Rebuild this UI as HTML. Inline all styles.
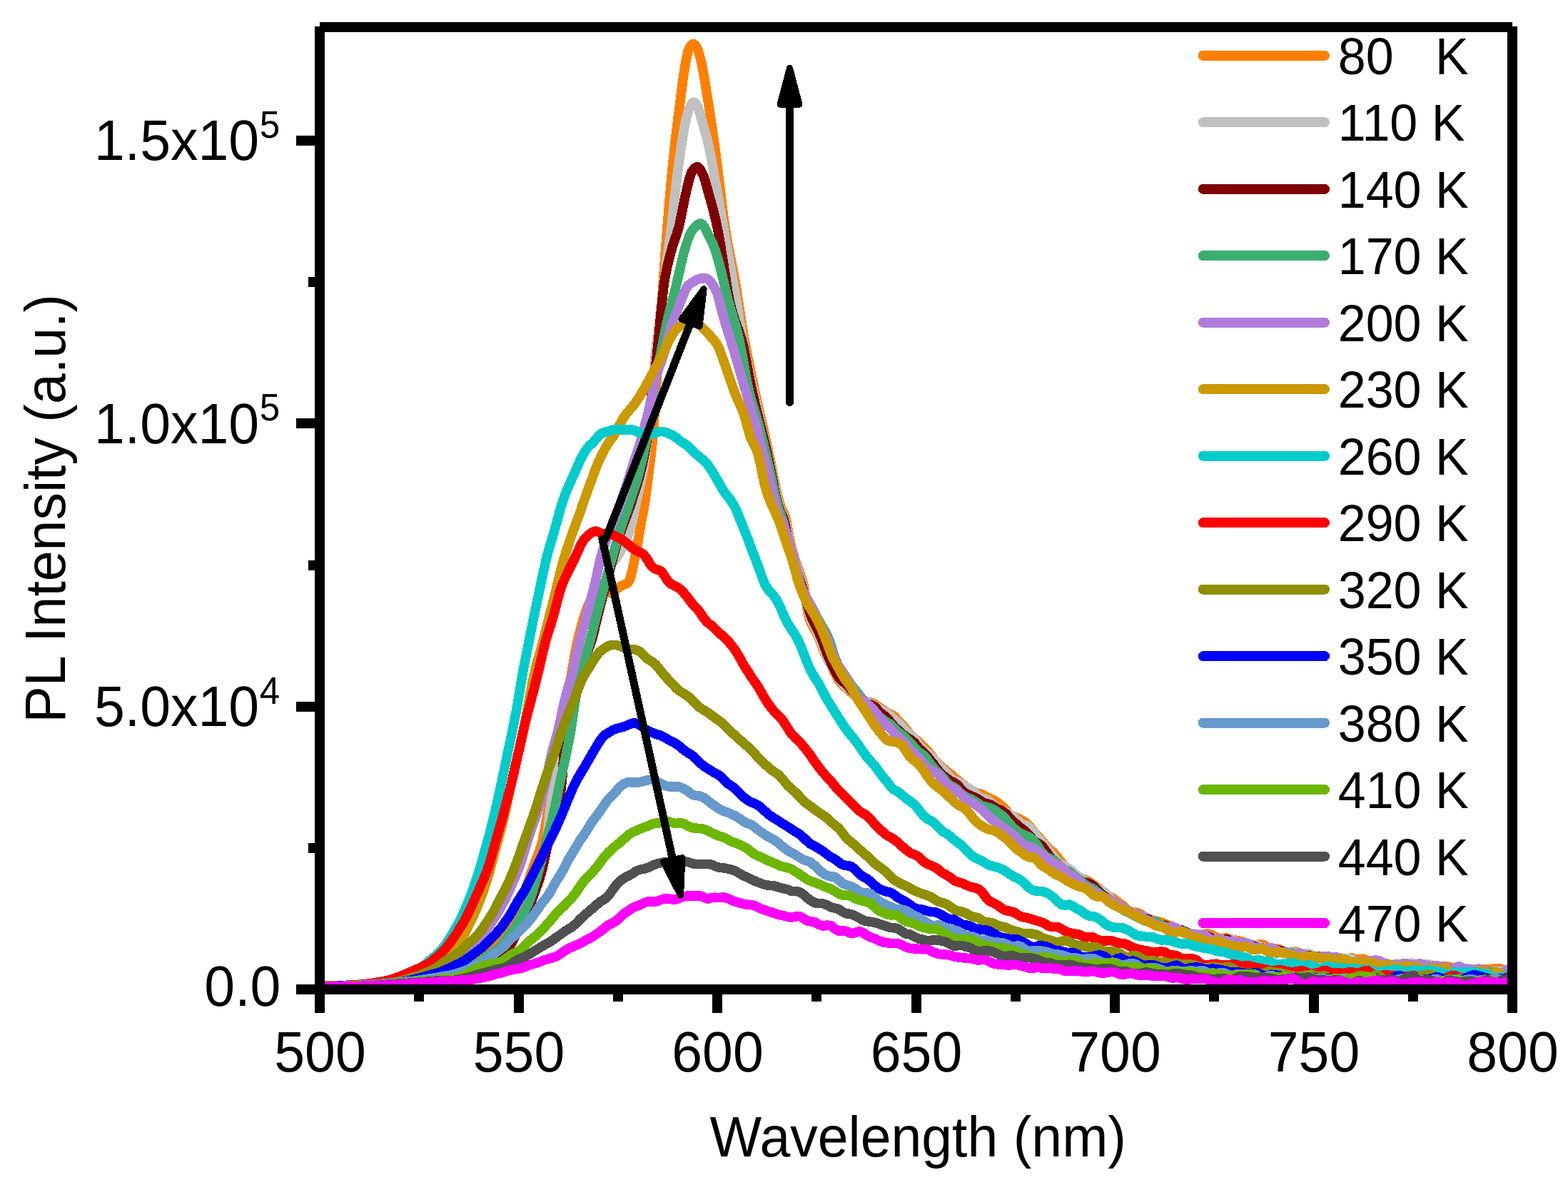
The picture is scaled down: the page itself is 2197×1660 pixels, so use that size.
<!DOCTYPE html>
<html><head><meta charset="utf-8"><title>PL spectra</title>
<style>html,body{margin:0;padding:0;background:#fff;overflow:hidden}svg{display:block}</style>
</head><body>
<svg xmlns="http://www.w3.org/2000/svg" shape-rendering="crispEdges" width="2197" height="1660" viewBox="0 0 2197 1660">
<rect width="2197" height="1660" fill="#fff"/>
<g fill="none" stroke-linejoin="round" stroke-linecap="round"><path d="M455.0 1382.0L455.0 1382.0L455.0 1382.0L455.0 1382.0L456.0 1382.0L458.0 1382.0L460.0 1382.0L462.0 1382.0L464.0 1382.0L466.0 1381.9L468.0 1381.9L470.0 1381.9L472.0 1381.8L474.0 1381.8L476.0 1381.7L478.0 1381.7L480.0 1381.6L482.0 1381.5L484.0 1381.5L486.0 1381.4L488.0 1381.4L490.0 1381.3L492.0 1381.2L494.0 1381.2L496.0 1381.1L498.0 1381.0L500.0 1380.9L502.0 1380.8L504.0 1380.7L506.0 1380.7L508.0 1380.6L510.0 1380.5L512.0 1380.4L514.0 1380.3L516.0 1380.2L518.0 1380.2L520.0 1380.0L522.0 1379.9L524.0 1379.8L526.0 1379.7L528.0 1379.5L530.0 1379.4L532.0 1379.3L534.0 1379.2L536.0 1379.0L538.0 1378.8L540.0 1378.6L542.0 1378.4L544.0 1378.2L546.0 1378.0L548.0 1377.9L550.0 1377.8L552.0 1377.6L554.0 1377.4L556.0 1377.2L558.0 1376.9L560.0 1376.6L562.0 1376.3L564.0 1376.0L566.0 1375.7L568.0 1375.3L570.0 1375.1L572.0 1374.8L574.0 1374.6L576.0 1374.3L578.0 1374.0L580.0 1373.8L582.0 1373.4L584.0 1373.1L586.0 1372.8L588.0 1372.4L590.0 1372.1L592.0 1371.7L594.0 1371.2L596.0 1370.8L598.0 1370.4L600.0 1370.0L602.0 1369.6L604.0 1369.1L606.0 1368.6L608.0 1368.0L610.0 1367.4L612.0 1366.7L614.0 1366.1L616.0 1365.4L618.0 1364.8L620.0 1364.2L622.0 1363.6L624.0 1363.0L626.0 1362.3L628.0 1361.5L630.0 1360.6L632.0 1359.7L634.0 1358.8L636.0 1357.8L638.0 1356.8L640.0 1355.8L642.0 1354.6L644.0 1353.3L646.0 1352.0L648.0 1350.8L650.0 1349.6L652.0 1348.3L654.0 1347.3L656.0 1346.2L658.0 1345.2L660.0 1344.1L662.0 1343.0L664.0 1341.9L666.0 1340.7L668.0 1339.4L670.0 1338.0L672.0 1336.5L674.0 1335.0L676.0 1333.5L678.0 1332.0L680.0 1330.4L682.0 1328.6L684.0 1326.8L686.0 1324.7L688.0 1322.4L690.0 1319.9L692.0 1317.7L694.0 1315.6L696.0 1313.4L698.0 1311.3L700.0 1309.2L702.0 1307.0L704.0 1304.6L706.0 1302.1L708.0 1299.5L710.0 1296.9L712.0 1294.2L714.0 1291.1L716.0 1287.7L718.0 1284.2L720.0 1280.5L722.0 1276.7L724.0 1272.8L726.0 1268.9L728.0 1264.9L730.0 1260.8L732.0 1256.4L734.0 1251.3L736.0 1245.9L738.0 1240.3L740.0 1234.6L742.0 1228.7L744.0 1222.9L746.0 1217.4L748.0 1212.1L750.0 1207.1L752.0 1202.0L754.0 1197.0L756.0 1191.4L758.0 1185.2L760.0 1177.6L762.0 1168.1L764.0 1157.2L766.0 1145.8L768.0 1135.0L770.0 1124.7L772.0 1114.6L774.0 1104.2L776.0 1093.9L778.0 1083.5L780.0 1072.8L782.0 1061.7L784.0 1050.1L786.0 1037.4L788.0 1023.5L790.0 1009.4L792.0 995.6L794.0 982.7L796.0 970.4L798.0 958.9L800.0 947.7L802.0 936.4L804.0 924.9L806.0 913.5L808.0 903.3L810.0 894.6L812.0 886.5L814.0 878.9L816.0 871.6L818.0 865.1L820.0 859.1L822.0 853.5L824.0 848.3L826.0 844.0L828.0 840.0L830.0 836.4L832.0 833.6L834.0 831.0L836.0 828.1L838.0 824.8L840.0 821.7L842.0 819.3L844.0 818.1L846.0 818.4L848.0 821.1L850.0 824.5L852.0 827.4L854.0 829.8L856.0 830.9L858.0 830.2L860.0 828.7L862.0 827.1L864.0 825.4L866.0 823.8L868.0 822.1L870.0 820.9L872.0 820.0L874.0 819.2L876.0 818.5L878.0 817.5L880.0 816.0L882.0 813.2L884.0 806.9L886.0 799.1L888.0 789.6L890.0 779.3L892.0 769.5L894.0 758.7L896.0 745.8L898.0 733.7L900.0 723.3L902.0 712.7L904.0 700.7L906.0 686.0L908.0 669.6L910.0 653.5L912.0 638.6L914.0 620.8L916.0 595.4L918.0 565.4L920.0 533.1L922.0 502.4L924.0 474.2L926.0 444.6L928.0 413.9L930.0 384.8L932.0 357.1L934.0 330.6L936.0 305.6L938.0 281.8L940.0 258.9L942.0 237.3L944.0 217.5L946.0 199.3L948.0 182.2L950.0 166.0L952.0 150.5L954.0 134.8L956.0 118.8L958.0 103.9L960.0 91.5L962.0 80.8L964.0 72.2L966.0 67.4L968.0 64.1L970.0 62.0L972.0 61.7L974.0 63.2L976.0 66.2L978.0 70.1L980.0 76.7L982.0 84.5L984.0 93.6L986.0 104.5L988.0 116.3L990.0 128.6L992.0 140.8L994.0 153.7L996.0 166.9L998.0 180.5L1000.0 194.5L1002.0 208.8L1004.0 224.0L1006.0 240.0L1008.0 256.3L1010.0 273.2L1012.0 289.6L1014.0 305.1L1016.0 318.9L1018.0 331.3L1020.0 342.6L1022.0 353.0L1024.0 363.0L1026.0 373.0L1028.0 383.3L1030.0 394.2L1032.0 405.9L1034.0 418.5L1036.0 431.7L1038.0 444.8L1040.0 457.7L1042.0 470.0L1044.0 481.1L1046.0 491.4L1048.0 501.4L1050.0 511.2L1052.0 520.8L1054.0 530.4L1056.0 540.2L1058.0 549.7L1060.0 558.6L1062.0 567.4L1064.0 576.0L1066.0 584.6L1068.0 593.2L1070.0 602.0L1072.0 611.0L1074.0 620.1L1076.0 629.3L1078.0 638.6L1080.0 647.9L1082.0 657.5L1084.0 667.6L1086.0 678.0L1088.0 687.4L1090.0 696.2L1092.0 704.0L1094.0 710.2L1096.0 714.6L1098.0 718.2L1100.0 723.2L1102.0 731.2L1104.0 741.8L1106.0 753.1L1108.0 762.7L1110.0 770.4L1112.0 777.2L1114.0 783.7L1116.0 789.2L1118.0 794.9L1120.0 800.2L1122.0 805.6L1124.0 811.7L1126.0 819.3L1128.0 831.1L1130.0 845.9L1132.0 858.8L1134.0 866.2L1136.0 871.5L1138.0 876.0L1140.0 879.9L1142.0 883.5L1144.0 887.0L1146.0 890.8L1148.0 895.3L1150.0 900.5L1152.0 906.1L1154.0 911.6L1156.0 916.7L1158.0 921.2L1160.0 925.1L1162.0 928.7L1164.0 932.1L1166.0 936.1L1168.0 939.9L1170.0 943.4L1172.0 947.3L1174.0 951.0L1176.0 954.2L1178.0 956.6L1180.0 959.0L1182.0 960.9L1184.0 962.6L1186.0 964.3L1188.0 966.2L1190.0 968.0L1192.0 969.6L1194.0 971.2L1196.0 972.6L1198.0 974.1L1200.0 975.8L1202.0 977.4L1204.0 979.0L1206.0 980.5L1208.0 982.0L1210.0 982.8L1212.0 983.3L1214.0 983.7L1216.0 983.8L1218.0 983.8L1220.0 983.9L1222.0 984.7L1224.0 985.6L1226.0 986.7L1228.0 988.0L1230.0 989.4L1232.0 990.8L1234.0 992.1L1236.0 993.5L1238.0 994.9L1240.0 996.3L1242.0 997.8L1244.0 998.7L1246.0 999.5L1248.0 1000.4L1250.0 1001.6L1252.0 1002.7L1254.0 1004.3L1256.0 1006.5L1258.0 1008.8L1260.0 1010.9L1262.0 1013.0L1264.0 1015.1L1266.0 1017.4L1268.0 1019.7L1270.0 1022.0L1272.0 1024.5L1274.0 1027.0L1276.0 1029.3L1278.0 1031.1L1280.0 1032.8L1282.0 1034.6L1284.0 1036.5L1286.0 1038.3L1288.0 1040.3L1290.0 1042.3L1292.0 1044.4L1294.0 1046.1L1296.0 1047.9L1298.0 1049.7L1300.0 1052.1L1302.0 1054.5L1304.0 1057.0L1306.0 1059.7L1308.0 1062.4L1310.0 1064.8L1312.0 1067.0L1314.0 1069.0L1316.0 1071.0L1318.0 1073.0L1320.0 1074.8L1322.0 1076.5L1324.0 1078.2L1326.0 1079.9L1328.0 1081.4L1330.0 1082.9L1332.0 1084.5L1334.0 1086.3L1336.0 1088.1L1338.0 1089.8L1340.0 1091.4L1342.0 1092.9L1344.0 1094.5L1346.0 1096.1L1348.0 1097.6L1350.0 1099.4L1352.0 1101.1L1354.0 1102.6L1356.0 1103.6L1358.0 1104.6L1360.0 1105.7L1362.0 1107.0L1364.0 1108.3L1366.0 1109.4L1368.0 1110.5L1370.0 1111.6L1372.0 1111.9L1374.0 1112.2L1376.0 1112.5L1378.0 1113.7L1380.0 1114.9L1382.0 1116.0L1384.0 1117.1L1386.0 1118.2L1388.0 1119.0L1390.0 1119.7L1392.0 1120.4L1394.0 1121.6L1396.0 1123.0L1398.0 1124.5L1400.0 1126.0L1402.0 1127.6L1404.0 1129.3L1406.0 1131.3L1408.0 1133.3L1410.0 1135.4L1412.0 1137.7L1414.0 1139.9L1416.0 1141.5L1418.0 1142.7L1420.0 1143.8L1422.0 1144.6L1424.0 1145.4L1426.0 1146.1L1428.0 1147.0L1430.0 1147.9L1432.0 1148.9L1434.0 1150.1L1436.0 1151.3L1438.0 1152.9L1440.0 1154.9L1442.0 1157.0L1444.0 1159.3L1446.0 1161.8L1448.0 1164.4L1450.0 1166.6L1452.0 1168.8L1454.0 1171.0L1456.0 1173.2L1458.0 1175.4L1460.0 1177.7L1462.0 1180.2L1464.0 1182.7L1466.0 1184.9L1468.0 1186.9L1470.0 1188.9L1472.0 1190.7L1474.0 1192.5L1476.0 1194.2L1478.0 1196.6L1480.0 1199.0L1482.0 1201.4L1484.0 1203.9L1486.0 1206.3L1488.0 1208.6L1490.0 1210.8L1492.0 1212.9L1494.0 1214.8L1496.0 1216.6L1498.0 1218.4L1500.0 1219.8L1502.0 1221.2L1504.0 1222.5L1506.0 1224.1L1508.0 1225.7L1510.0 1227.3L1512.0 1228.6L1514.0 1229.9L1516.0 1230.9L1518.0 1231.5L1520.0 1232.1L1522.0 1233.0L1524.0 1234.1L1526.0 1235.1L1528.0 1236.5L1530.0 1238.0L1532.0 1239.5L1534.0 1240.8L1536.0 1242.2L1538.0 1243.6L1540.0 1245.0L1542.0 1246.5L1544.0 1248.2L1546.0 1250.1L1548.0 1252.0L1550.0 1253.3L1552.0 1254.5L1554.0 1255.7L1556.0 1256.7L1558.0 1257.6L1560.0 1258.6L1562.0 1260.2L1564.0 1261.7L1566.0 1263.2L1568.0 1264.6L1570.0 1266.0L1572.0 1267.5L1574.0 1269.2L1576.0 1270.7L1578.0 1272.6L1580.0 1274.6L1582.0 1276.4L1584.0 1277.0L1586.0 1277.7L1588.0 1278.1L1590.0 1278.1L1592.0 1278.1L1594.0 1278.6L1596.0 1279.6L1598.0 1280.6L1600.0 1281.8L1602.0 1283.1L1604.0 1284.4L1606.0 1285.3L1608.0 1286.2L1610.0 1287.0L1612.0 1287.8L1614.0 1288.6L1616.0 1289.2L1618.0 1289.7L1620.0 1290.2L1622.0 1290.6L1624.0 1291.1L1626.0 1291.5L1628.0 1292.2L1630.0 1293.0L1632.0 1293.8L1634.0 1294.6L1636.0 1295.4L1638.0 1296.2L1640.0 1297.0L1642.0 1297.7L1644.0 1298.6L1646.0 1299.5L1648.0 1300.5L1650.0 1301.6L1652.0 1302.8L1654.0 1304.0L1656.0 1304.6L1658.0 1305.1L1660.0 1305.6L1662.0 1306.1L1664.0 1306.6L1666.0 1307.3L1668.0 1308.5L1670.0 1309.7L1672.0 1310.2L1674.0 1310.2L1676.0 1310.1L1678.0 1309.8L1680.0 1309.3L1682.0 1308.8L1684.0 1308.6L1686.0 1308.4L1688.0 1308.3L1690.0 1308.2L1692.0 1308.1L1694.0 1308.3L1696.0 1309.0L1698.0 1309.7L1700.0 1310.7L1702.0 1311.8L1704.0 1313.0L1706.0 1313.7L1708.0 1314.3L1710.0 1314.9L1712.0 1314.6L1714.0 1314.3L1716.0 1314.1L1718.0 1314.1L1720.0 1314.2L1722.0 1314.6L1724.0 1315.3L1726.0 1316.1L1728.0 1316.5L1730.0 1316.9L1732.0 1317.2L1734.0 1317.6L1736.0 1318.0L1738.0 1318.4L1740.0 1319.0L1742.0 1319.7L1744.0 1320.4L1746.0 1321.1L1748.0 1321.9L1750.0 1322.8L1752.0 1323.8L1754.0 1324.9L1756.0 1325.1L1758.0 1325.0L1760.0 1324.8L1762.0 1324.0L1764.0 1323.2L1766.0 1322.5L1768.0 1323.1L1770.0 1323.7L1772.0 1324.5L1774.0 1325.8L1776.0 1327.1L1778.0 1328.0L1780.0 1328.7L1782.0 1329.3L1784.0 1329.3L1786.0 1329.1L1788.0 1328.9L1790.0 1329.3L1792.0 1329.7L1794.0 1330.3L1796.0 1331.4L1798.0 1332.6L1800.0 1333.5L1802.0 1334.0L1804.0 1334.6L1806.0 1334.5L1808.0 1334.0L1810.0 1333.5L1812.0 1333.4L1814.0 1333.2L1816.0 1333.2L1818.0 1334.0L1820.0 1334.8L1822.0 1335.3L1824.0 1335.4L1826.0 1335.5L1828.0 1335.5L1830.0 1335.4L1832.0 1335.3L1834.0 1336.0L1836.0 1337.0L1838.0 1337.9L1840.0 1338.6L1842.0 1339.3L1844.0 1339.8L1846.0 1339.6L1848.0 1339.4L1850.0 1339.3L1852.0 1339.3L1854.0 1339.3L1856.0 1340.0L1858.0 1341.0L1860.0 1342.1L1862.0 1342.6L1864.0 1343.0L1866.0 1343.4L1868.0 1342.5L1870.0 1341.7L1872.0 1341.2L1874.0 1341.8L1876.0 1342.4L1878.0 1343.3L1880.0 1344.6L1882.0 1345.9L1884.0 1345.6L1886.0 1344.7L1888.0 1343.8L1890.0 1343.0L1892.0 1342.3L1894.0 1341.7L1896.0 1342.5L1898.0 1343.4L1900.0 1344.0L1902.0 1343.9L1904.0 1343.8L1906.0 1343.6L1908.0 1343.4L1910.0 1343.2L1912.0 1343.8L1914.0 1344.6L1916.0 1345.3L1918.0 1345.5L1920.0 1345.7L1922.0 1345.9L1924.0 1345.7L1926.0 1345.5L1928.0 1345.6L1930.0 1346.1L1932.0 1346.6L1934.0 1347.2L1936.0 1347.9L1938.0 1348.6L1940.0 1349.2L1942.0 1349.8L1944.0 1350.3L1946.0 1350.8L1948.0 1351.3L1950.0 1351.6L1952.0 1351.3L1954.0 1351.0L1956.0 1350.8L1958.0 1350.6L1960.0 1350.4L1962.0 1350.9L1964.0 1351.8L1966.0 1352.6L1968.0 1352.4L1970.0 1352.2L1972.0 1351.8L1974.0 1351.0L1976.0 1350.1L1978.0 1349.8L1980.0 1350.4L1982.0 1351.0L1984.0 1351.6L1986.0 1352.3L1988.0 1352.9L1990.0 1353.3L1992.0 1353.6L1994.0 1353.9L1996.0 1354.9L1998.0 1356.0L2000.0 1357.1L2002.0 1358.3L2004.0 1359.6L2006.0 1360.4L2008.0 1360.4L2010.0 1360.5L2012.0 1359.8L2014.0 1358.6L2016.0 1357.4L2018.0 1356.3L2020.0 1355.2L2022.0 1354.2L2024.0 1354.0L2026.0 1353.8L2028.0 1353.8L2030.0 1354.5L2032.0 1355.1L2034.0 1355.7L2036.0 1356.2L2038.0 1356.7L2040.0 1356.7L2042.0 1356.4L2044.0 1356.1L2046.0 1356.3L2048.0 1356.6L2050.0 1356.9L2052.0 1357.5L2054.0 1358.1L2056.0 1358.4L2058.0 1358.2L2060.0 1358.1L2062.0 1357.9L2064.0 1357.7L2066.0 1357.6L2068.0 1357.5L2070.0 1357.4L2072.0 1357.3L2074.0 1357.3L2076.0 1357.4L2078.0 1357.5L2080.0 1357.6L2082.0 1357.8L2084.0 1358.0L2086.0 1358.0L2088.0 1358.1L2090.0 1357.8L2092.0 1357.3L2094.0 1356.7L2096.0 1356.5L2098.0 1356.4L2100.0 1356.3L2102.0 1357.1L2104.0 1358.0L2106.0 1358.7L2108.0 1359.2L2110.0 1359.6L2112.0 1360.4L2114.0 1361.6L2116.0 1362.7L2118.0 1364.7" stroke="#FF8000" stroke-width="13.5"/>
<path d="M455.0 1382.0L455.0 1382.0L455.0 1382.0L455.0 1382.0L456.0 1382.0L458.0 1382.0L460.0 1382.0L462.0 1382.0L464.0 1382.0L466.0 1381.9L468.0 1381.9L470.0 1381.8L472.0 1381.8L474.0 1381.8L476.0 1381.7L478.0 1381.7L480.0 1381.6L482.0 1381.5L484.0 1381.5L486.0 1381.4L488.0 1381.4L490.0 1381.3L492.0 1381.2L494.0 1381.2L496.0 1381.1L498.0 1381.0L500.0 1380.9L502.0 1380.8L504.0 1380.7L506.0 1380.6L508.0 1380.5L510.0 1380.4L512.0 1380.3L514.0 1380.2L516.0 1380.1L518.0 1380.0L520.0 1380.0L522.0 1379.9L524.0 1379.8L526.0 1379.7L528.0 1379.6L530.0 1379.5L532.0 1379.4L534.0 1379.3L536.0 1379.2L538.0 1379.1L540.0 1378.9L542.0 1378.7L544.0 1378.5L546.0 1378.3L548.0 1378.0L550.0 1377.8L552.0 1377.6L554.0 1377.4L556.0 1377.1L558.0 1376.9L560.0 1376.6L562.0 1376.2L564.0 1376.0L566.0 1375.7L568.0 1375.4L570.0 1375.2L572.0 1375.0L574.0 1374.8L576.0 1374.5L578.0 1374.3L580.0 1374.0L582.0 1373.7L584.0 1373.5L586.0 1373.2L588.0 1372.9L590.0 1372.6L592.0 1372.3L594.0 1372.0L596.0 1371.7L598.0 1371.4L600.0 1371.1L602.0 1370.8L604.0 1370.5L606.0 1370.1L608.0 1369.8L610.0 1369.4L612.0 1368.9L614.0 1368.5L616.0 1368.0L618.0 1367.4L620.0 1366.9L622.0 1366.4L624.0 1365.8L626.0 1365.3L628.0 1364.9L630.0 1364.4L632.0 1364.0L634.0 1363.6L636.0 1363.2L638.0 1362.8L640.0 1362.3L642.0 1361.9L644.0 1361.5L646.0 1361.0L648.0 1360.4L650.0 1359.8L652.0 1359.2L654.0 1358.4L656.0 1357.6L658.0 1356.8L660.0 1355.8L662.0 1354.7L664.0 1353.7L666.0 1352.8L668.0 1351.8L670.0 1350.9L672.0 1350.0L674.0 1349.1L676.0 1348.4L678.0 1347.7L680.0 1347.0L682.0 1346.3L684.0 1345.7L686.0 1344.9L688.0 1343.9L690.0 1342.8L692.0 1341.9L694.0 1340.9L696.0 1339.8L698.0 1339.1L700.0 1338.3L702.0 1337.4L704.0 1336.2L706.0 1334.9L708.0 1333.2L710.0 1331.0L712.0 1328.3L714.0 1325.3L716.0 1322.1L718.0 1318.6L720.0 1315.2L722.0 1311.7L724.0 1308.1L726.0 1304.4L728.0 1300.6L730.0 1296.8L732.0 1292.9L734.0 1288.7L736.0 1284.5L738.0 1280.2L740.0 1275.6L742.0 1270.7L744.0 1265.4L746.0 1259.8L748.0 1253.9L750.0 1247.5L752.0 1240.8L754.0 1233.8L756.0 1226.5L758.0 1218.7L760.0 1210.7L762.0 1202.1L764.0 1192.1L766.0 1180.1L768.0 1160.9L770.0 1140.5L772.0 1125.7L774.0 1112.9L776.0 1101.5L778.0 1091.5L780.0 1082.5L782.0 1073.7L784.0 1065.1L786.0 1056.5L788.0 1048.6L790.0 1041.0L792.0 1033.4L794.0 1025.3L796.0 1015.9L798.0 1004.4L800.0 992.2L802.0 981.1L804.0 971.2L806.0 961.7L808.0 952.8L810.0 944.8L812.0 937.9L814.0 931.8L816.0 925.9L818.0 920.5L820.0 915.4L822.0 910.3L824.0 904.9L826.0 899.2L828.0 892.8L830.0 885.7L832.0 878.0L834.0 870.1L836.0 862.5L838.0 855.4L840.0 848.6L842.0 842.2L844.0 836.1L846.0 830.0L848.0 823.0L850.0 814.9L852.0 806.4L854.0 798.4L856.0 792.6L858.0 788.5L860.0 786.1L862.0 784.0L864.0 781.4L866.0 778.1L868.0 774.8L870.0 771.2L872.0 767.3L874.0 763.1L876.0 758.9L878.0 754.5L880.0 749.6L882.0 744.0L884.0 737.7L886.0 729.9L888.0 720.9L890.0 711.1L892.0 701.3L894.0 692.3L896.0 683.6L898.0 674.6L900.0 664.8L902.0 653.7L904.0 640.6L906.0 622.7L908.0 601.2L910.0 580.4L912.0 560.2L914.0 540.0L916.0 519.6L918.0 499.2L920.0 480.3L922.0 463.3L924.0 447.4L926.0 431.3L928.0 415.2L930.0 399.3L932.0 383.2L934.0 367.6L936.0 352.9L938.0 338.8L940.0 323.8L942.0 306.9L944.0 288.2L946.0 269.8L948.0 253.2L950.0 237.5L952.0 222.8L954.0 209.0L956.0 196.0L958.0 183.7L960.0 173.3L962.0 164.5L964.0 157.3L966.0 151.8L968.0 147.4L970.0 144.1L972.0 143.2L974.0 144.2L976.0 146.7L978.0 150.4L980.0 156.6L982.0 163.9L984.0 170.8L986.0 177.8L988.0 184.8L990.0 192.1L992.0 200.1L994.0 208.8L996.0 218.7L998.0 229.6L1000.0 240.8L1002.0 252.4L1004.0 263.6L1006.0 274.5L1008.0 285.6L1010.0 297.4L1012.0 309.2L1014.0 320.9L1016.0 332.4L1018.0 343.8L1020.0 355.0L1022.0 365.9L1024.0 376.8L1026.0 387.9L1028.0 399.1L1030.0 410.8L1032.0 423.0L1034.0 435.4L1036.0 447.8L1038.0 459.8L1040.0 471.2L1042.0 482.0L1044.0 492.4L1046.0 502.3L1048.0 511.9L1050.0 521.3L1052.0 530.7L1054.0 539.7L1056.0 548.5L1058.0 557.3L1060.0 566.0L1062.0 574.7L1064.0 583.3L1066.0 592.4L1068.0 601.4L1070.0 610.2L1072.0 618.7L1074.0 627.2L1076.0 635.8L1078.0 644.4L1080.0 653.2L1082.0 662.4L1084.0 672.5L1086.0 682.8L1088.0 692.8L1090.0 701.8L1092.0 709.4L1094.0 715.1L1096.0 719.2L1098.0 723.4L1100.0 729.7L1102.0 738.9L1104.0 749.5L1106.0 759.4L1108.0 767.2L1110.0 773.8L1112.0 779.9L1114.0 785.7L1116.0 792.3L1118.0 798.9L1120.0 805.2L1122.0 811.4L1124.0 817.9L1126.0 825.4L1128.0 834.4L1130.0 844.0L1132.0 853.3L1134.0 860.9L1136.0 866.5L1138.0 871.5L1140.0 876.0L1142.0 880.2L1144.0 884.2L1146.0 888.4L1148.0 892.8L1150.0 897.8L1152.0 903.4L1154.0 909.3L1156.0 915.1L1158.0 920.5L1160.0 924.8L1162.0 928.6L1164.0 932.1L1166.0 935.3L1168.0 938.2L1170.0 941.1L1172.0 944.3L1174.0 947.4L1176.0 950.4L1178.0 953.4L1180.0 956.2L1182.0 958.6L1184.0 960.6L1186.0 962.7L1188.0 964.4L1190.0 965.9L1192.0 967.3L1194.0 969.0L1196.0 970.6L1198.0 972.0L1200.0 973.6L1202.0 975.0L1204.0 976.3L1206.0 977.6L1208.0 978.9L1210.0 980.1L1212.0 981.3L1214.0 982.6L1216.0 983.7L1218.0 984.8L1220.0 985.9L1222.0 986.9L1224.0 988.0L1226.0 989.0L1228.0 990.1L1230.0 991.3L1232.0 992.5L1234.0 993.8L1236.0 995.2L1238.0 996.4L1240.0 997.6L1242.0 998.8L1244.0 1000.2L1246.0 1001.7L1248.0 1003.3L1250.0 1005.2L1252.0 1007.1L1254.0 1008.9L1256.0 1010.5L1258.0 1012.2L1260.0 1014.1L1262.0 1016.2L1264.0 1018.3L1266.0 1020.6L1268.0 1023.0L1270.0 1025.4L1272.0 1026.6L1274.0 1027.9L1276.0 1029.3L1278.0 1031.0L1280.0 1032.8L1282.0 1035.1L1284.0 1038.0L1286.0 1041.0L1288.0 1043.6L1290.0 1046.0L1292.0 1048.3L1294.0 1050.2L1296.0 1052.0L1298.0 1053.8L1300.0 1055.5L1302.0 1057.2L1304.0 1058.9L1306.0 1060.9L1308.0 1062.9L1310.0 1065.2L1312.0 1067.7L1314.0 1070.2L1316.0 1072.6L1318.0 1074.8L1320.0 1077.0L1322.0 1079.0L1324.0 1080.9L1326.0 1082.8L1328.0 1084.9L1330.0 1087.0L1332.0 1088.9L1334.0 1090.7L1336.0 1092.4L1338.0 1093.6L1340.0 1094.3L1342.0 1095.0L1344.0 1096.1L1346.0 1097.1L1348.0 1098.2L1350.0 1099.8L1352.0 1101.5L1354.0 1102.9L1356.0 1103.8L1358.0 1104.7L1360.0 1105.8L1362.0 1107.2L1364.0 1108.5L1366.0 1110.6L1368.0 1112.9L1370.0 1115.2L1372.0 1116.4L1374.0 1117.5L1376.0 1118.5L1378.0 1118.8L1380.0 1119.1L1382.0 1119.8L1384.0 1121.1L1386.0 1122.4L1388.0 1124.0L1390.0 1125.9L1392.0 1127.8L1394.0 1129.3L1396.0 1130.7L1398.0 1132.1L1400.0 1133.2L1402.0 1134.3L1404.0 1135.3L1406.0 1136.3L1408.0 1137.2L1410.0 1138.2L1412.0 1139.2L1414.0 1140.2L1416.0 1141.5L1418.0 1142.9L1420.0 1144.2L1422.0 1145.9L1424.0 1147.7L1426.0 1149.5L1428.0 1151.3L1430.0 1153.0L1432.0 1154.5L1434.0 1155.2L1436.0 1155.9L1438.0 1156.7L1440.0 1157.6L1442.0 1158.6L1444.0 1160.5L1446.0 1162.9L1448.0 1165.3L1450.0 1167.9L1452.0 1170.6L1454.0 1173.2L1456.0 1175.4L1458.0 1177.5L1460.0 1179.8L1462.0 1182.3L1464.0 1184.9L1466.0 1187.4L1468.0 1189.9L1470.0 1192.4L1472.0 1195.0L1474.0 1197.5L1476.0 1200.1L1478.0 1202.7L1480.0 1205.3L1482.0 1207.6L1484.0 1209.0L1486.0 1210.4L1488.0 1211.6L1490.0 1212.6L1492.0 1213.7L1494.0 1214.8L1496.0 1215.9L1498.0 1217.0L1500.0 1218.5L1502.0 1220.1L1504.0 1221.8L1506.0 1223.6L1508.0 1225.5L1510.0 1227.1L1512.0 1228.3L1514.0 1229.5L1516.0 1230.8L1518.0 1232.2L1520.0 1233.7L1522.0 1235.3L1524.0 1237.0L1526.0 1238.6L1528.0 1239.8L1530.0 1240.8L1532.0 1241.9L1534.0 1243.0L1536.0 1244.1L1538.0 1245.2L1540.0 1246.1L1542.0 1247.1L1544.0 1248.1L1546.0 1249.1L1548.0 1250.0L1550.0 1251.9L1552.0 1254.0L1554.0 1256.1L1556.0 1258.8L1558.0 1261.5L1560.0 1264.0L1562.0 1265.8L1564.0 1267.6L1566.0 1269.0L1568.0 1269.9L1570.0 1270.7L1572.0 1271.6L1574.0 1272.3L1576.0 1273.1L1578.0 1273.9L1580.0 1274.7L1582.0 1275.5L1584.0 1276.6L1586.0 1277.6L1588.0 1278.8L1590.0 1280.3L1592.0 1281.9L1594.0 1283.2L1596.0 1284.1L1598.0 1285.1L1600.0 1285.3L1602.0 1285.2L1604.0 1285.1L1606.0 1285.6L1608.0 1286.1L1610.0 1286.7L1612.0 1288.4L1614.0 1290.2L1616.0 1291.7L1618.0 1292.9L1620.0 1294.2L1622.0 1294.8L1624.0 1295.1L1626.0 1295.3L1628.0 1295.9L1630.0 1296.5L1632.0 1297.2L1634.0 1298.2L1636.0 1299.2L1638.0 1300.2L1640.0 1301.0L1642.0 1301.8L1644.0 1302.4L1646.0 1302.5L1648.0 1302.6L1650.0 1302.7L1652.0 1302.9L1654.0 1303.0L1656.0 1303.7L1658.0 1304.5L1660.0 1305.2L1662.0 1305.7L1664.0 1306.2L1666.0 1306.6L1668.0 1307.2L1670.0 1307.8L1672.0 1308.2L1674.0 1308.5L1676.0 1308.8L1678.0 1308.9L1680.0 1308.9L1682.0 1308.9L1684.0 1309.5L1686.0 1310.1L1688.0 1310.7L1690.0 1310.9L1692.0 1311.2L1694.0 1311.6L1696.0 1312.3L1698.0 1312.9L1700.0 1314.1L1702.0 1315.6L1704.0 1317.1L1706.0 1317.7L1708.0 1318.0L1710.0 1318.4L1712.0 1317.7L1714.0 1317.0L1716.0 1316.4L1718.0 1316.0L1720.0 1315.7L1722.0 1315.6L1724.0 1315.9L1726.0 1316.2L1728.0 1317.1L1730.0 1318.4L1732.0 1319.6L1734.0 1321.1L1736.0 1322.6L1738.0 1323.9L1740.0 1323.9L1742.0 1323.9L1744.0 1323.8L1746.0 1323.4L1748.0 1323.0L1750.0 1322.9L1752.0 1323.1L1754.0 1323.3L1756.0 1323.6L1758.0 1323.9L1760.0 1324.2L1762.0 1325.0L1764.0 1326.0L1766.0 1326.8L1768.0 1327.4L1770.0 1327.9L1772.0 1328.2L1774.0 1328.3L1776.0 1328.3L1778.0 1329.0L1780.0 1330.2L1782.0 1331.4L1784.0 1332.6L1786.0 1333.7L1788.0 1334.9L1790.0 1334.6L1792.0 1334.4L1794.0 1334.1L1796.0 1333.9L1798.0 1333.6L1800.0 1333.5L1802.0 1333.7L1804.0 1333.9L1806.0 1333.7L1808.0 1333.4L1810.0 1333.0L1812.0 1333.5L1814.0 1334.1L1816.0 1334.7L1818.0 1335.8L1820.0 1336.9L1822.0 1337.5L1824.0 1336.9L1826.0 1336.3L1828.0 1335.9L1830.0 1335.6L1832.0 1335.3L1834.0 1335.9L1836.0 1336.6L1838.0 1337.4L1840.0 1338.4L1842.0 1339.3L1844.0 1340.3L1846.0 1341.2L1848.0 1342.1L1850.0 1342.8L1852.0 1343.3L1854.0 1343.7L1856.0 1344.1L1858.0 1344.3L1860.0 1344.6L1862.0 1344.6L1864.0 1344.5L1866.0 1344.4L1868.0 1343.8L1870.0 1343.1L1872.0 1342.5L1874.0 1342.1L1876.0 1341.7L1878.0 1341.6L1880.0 1342.0L1882.0 1342.4L1884.0 1342.6L1886.0 1342.8L1888.0 1342.9L1890.0 1343.1L1892.0 1343.2L1894.0 1343.4L1896.0 1344.5L1898.0 1345.7L1900.0 1346.9L1902.0 1348.3L1904.0 1349.7L1906.0 1350.5L1908.0 1350.8L1910.0 1351.0L1912.0 1350.6L1914.0 1349.9L1916.0 1349.2L1918.0 1348.5L1920.0 1347.8L1922.0 1347.3L1924.0 1347.4L1926.0 1347.6L1928.0 1347.9L1930.0 1348.4L1932.0 1349.0L1934.0 1349.5L1936.0 1350.1L1938.0 1350.7L1940.0 1351.1L1942.0 1351.5L1944.0 1351.9L1946.0 1351.7L1948.0 1351.6L1950.0 1351.6L1952.0 1351.8L1954.0 1352.0L1956.0 1352.3L1958.0 1352.9L1960.0 1353.4L1962.0 1353.7L1964.0 1354.1L1966.0 1354.4L1968.0 1353.8L1970.0 1353.1L1972.0 1352.3L1974.0 1351.0L1976.0 1349.7L1978.0 1349.0L1980.0 1349.4L1982.0 1349.8L1984.0 1350.5L1986.0 1351.4L1988.0 1352.4L1990.0 1352.5L1992.0 1352.4L1994.0 1352.3L1996.0 1351.7L1998.0 1351.1L2000.0 1350.7L2002.0 1350.9L2004.0 1351.1L2006.0 1351.8L2008.0 1353.2L2010.0 1354.5L2012.0 1355.2L2014.0 1355.6L2016.0 1355.9L2018.0 1356.2L2020.0 1356.5L2022.0 1356.9L2024.0 1357.8L2026.0 1358.7L2028.0 1359.3L2030.0 1359.4L2032.0 1359.4L2034.0 1359.5L2036.0 1359.5L2038.0 1359.6L2040.0 1359.9L2042.0 1360.1L2044.0 1360.4L2046.0 1359.8L2048.0 1359.2L2050.0 1358.5L2052.0 1357.7L2054.0 1356.9L2056.0 1356.5L2058.0 1356.9L2060.0 1357.3L2062.0 1357.9L2064.0 1358.8L2066.0 1359.7L2068.0 1361.0L2070.0 1362.3L2072.0 1363.7L2074.0 1365.1L2076.0 1366.5L2078.0 1367.6L2080.0 1367.5L2082.0 1367.4L2084.0 1366.8L2086.0 1365.5L2088.0 1364.2L2090.0 1363.0L2092.0 1361.9L2094.0 1360.7L2096.0 1360.7L2098.0 1360.8L2100.0 1361.0L2102.0 1360.9L2104.0 1360.9L2106.0 1360.8L2108.0 1360.6L2110.0 1360.3L2112.0 1360.7L2114.0 1361.8L2116.0 1362.8L2118.0 1363.7" stroke="#C0C0C0" stroke-width="13.5"/>
<path d="M455.0 1382.0L455.0 1382.0L455.0 1382.0L455.0 1382.0L456.0 1382.0L458.0 1382.0L460.0 1382.0L462.0 1382.0L464.0 1382.0L466.0 1381.9L468.0 1381.9L470.0 1381.9L472.0 1381.8L474.0 1381.8L476.0 1381.7L478.0 1381.6L480.0 1381.6L482.0 1381.5L484.0 1381.5L486.0 1381.4L488.0 1381.3L490.0 1381.2L492.0 1381.2L494.0 1381.1L496.0 1381.1L498.0 1381.0L500.0 1380.9L502.0 1380.8L504.0 1380.7L506.0 1380.6L508.0 1380.5L510.0 1380.4L512.0 1380.3L514.0 1380.2L516.0 1380.1L518.0 1380.1L520.0 1380.0L522.0 1379.9L524.0 1379.8L526.0 1379.6L528.0 1379.5L530.0 1379.4L532.0 1379.2L534.0 1379.1L536.0 1378.9L538.0 1378.8L540.0 1378.6L542.0 1378.5L544.0 1378.3L546.0 1378.1L548.0 1378.0L550.0 1377.8L552.0 1377.6L554.0 1377.4L556.0 1377.1L558.0 1376.9L560.0 1376.6L562.0 1376.3L564.0 1376.0L566.0 1375.8L568.0 1375.5L570.0 1375.3L572.0 1375.1L574.0 1374.9L576.0 1374.5L578.0 1374.2L580.0 1373.9L582.0 1373.5L584.0 1373.2L586.0 1372.9L588.0 1372.7L590.0 1372.5L592.0 1372.2L594.0 1372.0L596.0 1371.7L598.0 1371.4L600.0 1371.1L602.0 1370.7L604.0 1370.4L606.0 1370.0L608.0 1369.6L610.0 1369.3L612.0 1369.0L614.0 1368.7L616.0 1368.5L618.0 1368.2L620.0 1367.9L622.0 1367.5L624.0 1367.2L626.0 1366.5L628.0 1365.7L630.0 1365.0L632.0 1364.2L634.0 1363.4L636.0 1362.7L638.0 1362.1L640.0 1361.5L642.0 1361.1L644.0 1360.8L646.0 1360.4L648.0 1359.8L650.0 1359.1L652.0 1358.3L654.0 1357.5L656.0 1356.6L658.0 1355.8L660.0 1354.9L662.0 1354.1L664.0 1353.2L666.0 1352.2L668.0 1351.2L670.0 1350.3L672.0 1349.5L674.0 1348.6L676.0 1347.9L678.0 1347.1L680.0 1346.4L682.0 1345.7L684.0 1345.1L686.0 1344.4L688.0 1343.6L690.0 1342.8L692.0 1341.8L694.0 1340.7L696.0 1339.6L698.0 1338.2L700.0 1336.6L702.0 1335.1L704.0 1333.6L706.0 1332.1L708.0 1330.6L710.0 1329.3L712.0 1327.6L714.0 1325.3L716.0 1322.3L718.0 1319.1L720.0 1315.1L722.0 1310.8L724.0 1306.3L726.0 1302.1L728.0 1298.0L730.0 1294.0L732.0 1290.4L734.0 1286.6L736.0 1282.6L738.0 1278.2L740.0 1273.7L742.0 1268.9L744.0 1263.8L746.0 1258.5L748.0 1253.3L750.0 1248.1L752.0 1242.6L754.0 1236.9L756.0 1230.8L758.0 1224.2L760.0 1217.0L762.0 1208.3L764.0 1198.8L766.0 1189.3L768.0 1180.5L770.0 1172.6L772.0 1165.1L774.0 1157.8L776.0 1150.2L778.0 1142.1L780.0 1133.8L782.0 1126.0L784.0 1117.1L786.0 1105.7L788.0 1086.4L790.0 1057.7L792.0 1043.4L794.0 1032.9L796.0 1023.0L798.0 1011.0L800.0 997.2L802.0 983.9L804.0 973.0L806.0 963.3L808.0 954.4L810.0 946.4L812.0 939.4L814.0 933.5L816.0 928.2L818.0 923.5L820.0 919.2L822.0 915.0L824.0 910.6L826.0 905.9L828.0 900.5L830.0 893.9L832.0 886.0L834.0 877.7L836.0 869.1L838.0 860.7L840.0 852.8L842.0 845.1L844.0 837.4L846.0 829.8L848.0 822.6L850.0 815.3L852.0 807.8L854.0 800.1L856.0 792.5L858.0 785.1L860.0 777.4L862.0 770.1L864.0 763.1L866.0 756.6L868.0 750.2L870.0 744.4L872.0 738.9L874.0 733.6L876.0 728.2L878.0 722.9L880.0 717.6L882.0 711.8L884.0 705.8L886.0 699.7L888.0 693.6L890.0 687.4L892.0 681.2L894.0 674.5L896.0 667.4L898.0 659.5L900.0 650.9L902.0 641.5L904.0 631.2L906.0 619.0L908.0 601.5L910.0 580.1L912.0 560.5L914.0 545.1L916.0 531.0L918.0 517.0L920.0 501.4L922.0 482.4L924.0 461.0L926.0 439.0L928.0 418.3L930.0 400.7L932.0 388.2L934.0 377.8L936.0 368.8L938.0 360.8L940.0 353.4L942.0 346.2L944.0 339.9L946.0 334.0L948.0 328.4L950.0 322.3L952.0 314.7L954.0 305.4L956.0 295.4L958.0 285.4L960.0 275.3L962.0 266.6L964.0 258.0L966.0 250.1L968.0 243.6L970.0 239.5L972.0 237.0L974.0 235.0L976.0 233.8L978.0 233.9L980.0 235.7L982.0 238.9L984.0 242.7L986.0 247.0L988.0 253.1L990.0 260.5L992.0 267.8L994.0 274.9L996.0 281.9L998.0 289.2L1000.0 296.8L1002.0 304.9L1004.0 313.7L1006.0 323.3L1008.0 334.4L1010.0 346.4L1012.0 359.0L1014.0 371.4L1016.0 384.0L1018.0 397.1L1020.0 409.7L1022.0 420.3L1024.0 428.8L1026.0 436.3L1028.0 443.1L1030.0 449.4L1032.0 454.9L1034.0 460.2L1036.0 465.8L1038.0 471.6L1040.0 478.3L1042.0 486.5L1044.0 496.6L1046.0 507.2L1048.0 518.1L1050.0 528.9L1052.0 538.9L1054.0 548.0L1056.0 556.7L1058.0 565.3L1060.0 573.4L1062.0 581.5L1064.0 589.6L1066.0 597.6L1068.0 605.5L1070.0 613.6L1072.0 622.0L1074.0 630.4L1076.0 639.3L1078.0 648.7L1080.0 658.4L1082.0 668.7L1084.0 679.4L1086.0 689.9L1088.0 699.2L1090.0 707.2L1092.0 713.4L1094.0 717.8L1096.0 721.7L1098.0 726.7L1100.0 734.5L1102.0 744.5L1104.0 755.2L1106.0 764.4L1108.0 771.7L1110.0 778.6L1112.0 785.1L1114.0 791.6L1116.0 797.9L1118.0 804.2L1120.0 810.5L1122.0 816.7L1124.0 822.8L1126.0 829.4L1128.0 836.4L1130.0 843.3L1132.0 850.0L1134.0 856.3L1136.0 862.1L1138.0 866.8L1140.0 871.1L1142.0 875.2L1144.0 879.1L1146.0 883.1L1148.0 887.3L1150.0 891.8L1152.0 896.8L1154.0 902.2L1156.0 907.8L1158.0 913.3L1160.0 918.5L1162.0 923.0L1164.0 927.2L1166.0 931.8L1168.0 936.2L1170.0 940.2L1172.0 943.7L1174.0 947.0L1176.0 949.8L1178.0 951.9L1180.0 953.8L1182.0 955.6L1184.0 957.3L1186.0 959.0L1188.0 961.2L1190.0 963.4L1192.0 965.5L1194.0 968.0L1196.0 970.4L1198.0 972.6L1200.0 974.4L1202.0 976.1L1204.0 977.7L1206.0 979.2L1208.0 980.7L1210.0 982.2L1212.0 983.8L1214.0 985.5L1216.0 986.1L1218.0 986.7L1220.0 987.3L1222.0 988.1L1224.0 988.9L1226.0 990.1L1228.0 992.4L1230.0 994.7L1232.0 996.8L1234.0 998.6L1236.0 1000.4L1238.0 1001.8L1240.0 1003.2L1242.0 1004.6L1244.0 1006.9L1246.0 1009.3L1248.0 1011.7L1250.0 1014.1L1252.0 1016.5L1254.0 1018.7L1256.0 1020.6L1258.0 1022.4L1260.0 1024.3L1262.0 1026.1L1264.0 1027.9L1266.0 1029.5L1268.0 1031.1L1270.0 1032.8L1272.0 1033.8L1274.0 1034.9L1276.0 1036.1L1278.0 1037.7L1280.0 1039.4L1282.0 1041.4L1284.0 1043.9L1286.0 1046.4L1288.0 1048.6L1290.0 1050.5L1292.0 1052.4L1294.0 1054.2L1296.0 1056.0L1298.0 1057.9L1300.0 1060.4L1302.0 1063.0L1304.0 1065.5L1306.0 1068.0L1308.0 1070.4L1310.0 1073.1L1312.0 1075.8L1314.0 1078.4L1316.0 1080.8L1318.0 1083.0L1320.0 1085.1L1322.0 1086.7L1324.0 1088.3L1326.0 1089.8L1328.0 1091.3L1330.0 1092.7L1332.0 1093.9L1334.0 1094.8L1336.0 1095.7L1338.0 1097.0L1340.0 1098.5L1342.0 1100.0L1344.0 1102.3L1346.0 1104.7L1348.0 1107.0L1350.0 1108.7L1352.0 1110.4L1354.0 1111.9L1356.0 1112.8L1358.0 1113.7L1360.0 1114.6L1362.0 1115.4L1364.0 1116.2L1366.0 1117.1L1368.0 1118.2L1370.0 1119.2L1372.0 1120.5L1374.0 1121.9L1376.0 1123.2L1378.0 1124.0L1380.0 1124.9L1382.0 1125.6L1384.0 1126.0L1386.0 1126.4L1388.0 1127.2L1390.0 1128.3L1392.0 1129.5L1394.0 1130.7L1396.0 1132.0L1398.0 1133.3L1400.0 1134.0L1402.0 1134.7L1404.0 1135.6L1406.0 1137.1L1408.0 1138.6L1410.0 1140.3L1412.0 1142.5L1414.0 1144.7L1416.0 1146.8L1418.0 1148.8L1420.0 1150.7L1422.0 1152.6L1424.0 1154.4L1426.0 1156.3L1428.0 1157.8L1430.0 1159.5L1432.0 1161.0L1434.0 1162.4L1436.0 1163.9L1438.0 1165.6L1440.0 1167.6L1442.0 1169.8L1444.0 1172.1L1446.0 1174.5L1448.0 1176.9L1450.0 1178.3L1452.0 1179.7L1454.0 1181.0L1456.0 1182.2L1458.0 1183.4L1460.0 1185.0L1462.0 1187.6L1464.0 1190.1L1466.0 1192.9L1468.0 1195.9L1470.0 1198.9L1472.0 1201.2L1474.0 1203.4L1476.0 1205.5L1478.0 1207.5L1480.0 1209.5L1482.0 1211.5L1484.0 1213.6L1486.0 1215.5L1488.0 1217.3L1490.0 1218.8L1492.0 1220.2L1494.0 1221.6L1496.0 1222.8L1498.0 1224.0L1500.0 1225.1L1502.0 1226.2L1504.0 1227.3L1506.0 1228.7L1508.0 1230.1L1510.0 1231.5L1512.0 1232.8L1514.0 1234.0L1516.0 1234.9L1518.0 1235.3L1520.0 1235.7L1522.0 1236.3L1524.0 1236.8L1526.0 1237.4L1528.0 1238.6L1530.0 1239.8L1532.0 1241.2L1534.0 1243.2L1536.0 1245.2L1538.0 1247.3L1540.0 1249.4L1542.0 1251.4L1544.0 1253.1L1546.0 1254.5L1548.0 1255.9L1550.0 1257.1L1552.0 1258.3L1554.0 1259.5L1556.0 1260.7L1558.0 1262.0L1560.0 1263.3L1562.0 1264.8L1564.0 1266.3L1566.0 1267.8L1568.0 1269.2L1570.0 1270.6L1572.0 1271.7L1574.0 1272.7L1576.0 1273.6L1578.0 1274.7L1580.0 1275.8L1582.0 1276.9L1584.0 1278.0L1586.0 1279.0L1588.0 1279.9L1590.0 1280.7L1592.0 1281.5L1594.0 1282.4L1596.0 1283.5L1598.0 1284.5L1600.0 1285.1L1602.0 1285.6L1604.0 1286.1L1606.0 1286.6L1608.0 1287.1L1610.0 1287.8L1612.0 1290.0L1614.0 1292.2L1616.0 1294.1L1618.0 1295.6L1620.0 1297.1L1622.0 1297.5L1624.0 1297.0L1626.0 1296.6L1628.0 1296.4L1630.0 1296.3L1632.0 1296.2L1634.0 1297.2L1636.0 1298.2L1638.0 1299.2L1640.0 1300.4L1642.0 1301.6L1644.0 1302.4L1646.0 1302.6L1648.0 1302.8L1650.0 1302.7L1652.0 1302.5L1654.0 1302.4L1656.0 1303.0L1658.0 1303.8L1660.0 1304.6L1662.0 1305.9L1664.0 1307.1L1666.0 1308.1L1668.0 1308.7L1670.0 1309.3L1672.0 1309.7L1674.0 1309.8L1676.0 1309.8L1678.0 1310.0L1680.0 1310.3L1682.0 1310.6L1684.0 1310.8L1686.0 1311.0L1688.0 1311.2L1690.0 1311.5L1692.0 1311.8L1694.0 1312.3L1696.0 1313.3L1698.0 1314.2L1700.0 1315.3L1702.0 1316.4L1704.0 1317.5L1706.0 1317.9L1708.0 1318.1L1710.0 1318.3L1712.0 1317.6L1714.0 1316.8L1716.0 1316.2L1718.0 1316.1L1720.0 1316.0L1722.0 1316.4L1724.0 1317.6L1726.0 1318.7L1728.0 1319.7L1730.0 1320.7L1732.0 1321.8L1734.0 1322.4L1736.0 1323.0L1738.0 1323.6L1740.0 1323.7L1742.0 1323.8L1744.0 1323.8L1746.0 1323.4L1748.0 1322.9L1750.0 1323.0L1752.0 1323.6L1754.0 1324.2L1756.0 1325.0L1758.0 1325.9L1760.0 1326.9L1762.0 1327.2L1764.0 1327.6L1766.0 1328.0L1768.0 1328.8L1770.0 1329.7L1772.0 1330.4L1774.0 1331.0L1776.0 1331.6L1778.0 1331.7L1780.0 1331.4L1782.0 1331.1L1784.0 1331.0L1786.0 1331.0L1788.0 1331.0L1790.0 1331.1L1792.0 1331.2L1794.0 1331.5L1796.0 1332.0L1798.0 1332.5L1800.0 1333.4L1802.0 1334.7L1804.0 1336.1L1806.0 1336.8L1808.0 1337.3L1810.0 1337.7L1812.0 1337.5L1814.0 1337.1L1816.0 1336.8L1818.0 1337.3L1820.0 1337.7L1822.0 1338.2L1824.0 1338.7L1826.0 1339.1L1828.0 1339.2L1830.0 1338.8L1832.0 1338.5L1834.0 1338.7L1836.0 1339.1L1838.0 1339.5L1840.0 1339.9L1842.0 1340.2L1844.0 1340.4L1846.0 1340.0L1848.0 1339.5L1850.0 1339.3L1852.0 1339.4L1854.0 1339.5L1856.0 1339.7L1858.0 1339.9L1860.0 1340.1L1862.0 1340.2L1864.0 1340.3L1866.0 1340.5L1868.0 1341.1L1870.0 1341.8L1872.0 1342.4L1874.0 1342.9L1876.0 1343.3L1878.0 1343.7L1880.0 1344.1L1882.0 1344.5L1884.0 1345.2L1886.0 1346.1L1888.0 1347.0L1890.0 1347.5L1892.0 1347.9L1894.0 1348.3L1896.0 1348.4L1898.0 1348.5L1900.0 1348.7L1902.0 1349.1L1904.0 1349.6L1906.0 1350.0L1908.0 1350.3L1910.0 1350.6L1912.0 1350.3L1914.0 1349.8L1916.0 1349.4L1918.0 1348.7L1920.0 1348.0L1922.0 1347.4L1924.0 1347.4L1926.0 1347.4L1928.0 1347.8L1930.0 1348.7L1932.0 1349.6L1934.0 1350.2L1936.0 1350.6L1938.0 1351.0L1940.0 1351.2L1942.0 1351.3L1944.0 1351.5L1946.0 1351.7L1948.0 1352.0L1950.0 1352.3L1952.0 1352.7L1954.0 1353.2L1956.0 1353.6L1958.0 1354.0L1960.0 1354.4L1962.0 1354.1L1964.0 1353.5L1966.0 1352.9L1968.0 1352.4L1970.0 1351.9L1972.0 1351.5L1974.0 1351.8L1976.0 1352.2L1978.0 1352.4L1980.0 1352.7L1982.0 1352.9L1984.0 1353.3L1986.0 1353.9L1988.0 1354.4L1990.0 1355.1L1992.0 1355.8L1994.0 1356.6L1996.0 1357.1L1998.0 1357.7L2000.0 1358.3L2002.0 1359.2L2004.0 1360.2L2006.0 1360.8L2008.0 1360.9L2010.0 1361.1L2012.0 1360.3L2014.0 1359.1L2016.0 1357.8L2018.0 1357.6L2020.0 1357.5L2022.0 1357.5L2024.0 1358.2L2026.0 1358.8L2028.0 1359.3L2030.0 1359.4L2032.0 1359.4L2034.0 1359.3L2036.0 1359.0L2038.0 1358.7L2040.0 1358.4L2042.0 1358.1L2044.0 1357.7L2046.0 1358.8L2048.0 1360.0L2050.0 1361.1L2052.0 1362.3L2054.0 1363.5L2056.0 1363.9L2058.0 1363.1L2060.0 1362.3L2062.0 1361.8L2064.0 1361.6L2066.0 1361.3L2068.0 1361.9L2070.0 1362.9L2072.0 1363.8L2074.0 1364.6L2076.0 1365.4L2078.0 1366.1L2080.0 1366.7L2082.0 1367.3L2084.0 1367.5L2086.0 1367.4L2088.0 1367.3L2090.0 1367.2L2092.0 1367.1L2094.0 1366.9L2096.0 1366.6L2098.0 1366.2L2100.0 1365.7L2102.0 1364.5L2104.0 1363.3L2106.0 1362.5L2108.0 1362.9L2110.0 1363.2L2112.0 1364.0L2114.0 1365.1L2116.0 1366.2L2118.0 1366.4" stroke="#800000" stroke-width="13.5"/>
<path d="M455.0 1382.0L455.0 1382.0L455.0 1382.0L455.0 1382.0L456.0 1382.0L458.0 1382.0L460.0 1382.0L462.0 1382.0L464.0 1382.0L466.0 1381.9L468.0 1381.9L470.0 1381.9L472.0 1381.9L474.0 1381.8L476.0 1381.7L478.0 1381.7L480.0 1381.6L482.0 1381.5L484.0 1381.5L486.0 1381.4L488.0 1381.3L490.0 1381.3L492.0 1381.2L494.0 1381.1L496.0 1381.1L498.0 1381.0L500.0 1380.9L502.0 1380.9L504.0 1380.8L506.0 1380.7L508.0 1380.6L510.0 1380.5L512.0 1380.5L514.0 1380.3L516.0 1380.2L518.0 1380.0L520.0 1379.9L522.0 1379.8L524.0 1379.7L526.0 1379.6L528.0 1379.6L530.0 1379.4L532.0 1379.3L534.0 1379.2L536.0 1379.0L538.0 1378.9L540.0 1378.7L542.0 1378.6L544.0 1378.4L546.0 1378.3L548.0 1378.0L550.0 1377.8L552.0 1377.6L554.0 1377.3L556.0 1377.0L558.0 1376.8L560.0 1376.6L562.0 1376.4L564.0 1376.2L566.0 1376.0L568.0 1375.8L570.0 1375.5L572.0 1375.1L574.0 1374.8L576.0 1374.5L578.0 1374.2L580.0 1373.8L582.0 1373.6L584.0 1373.3L586.0 1373.0L588.0 1372.7L590.0 1372.5L592.0 1372.2L594.0 1371.9L596.0 1371.6L598.0 1371.2L600.0 1370.9L602.0 1370.5L604.0 1370.2L606.0 1369.8L608.0 1369.5L610.0 1369.1L612.0 1368.8L614.0 1368.3L616.0 1367.8L618.0 1367.3L620.0 1366.8L622.0 1366.3L624.0 1365.9L626.0 1365.5L628.0 1365.1L630.0 1364.7L632.0 1364.2L634.0 1363.6L636.0 1363.0L638.0 1362.4L640.0 1361.7L642.0 1361.1L644.0 1360.5L646.0 1359.8L648.0 1359.0L650.0 1358.2L652.0 1357.4L654.0 1356.6L656.0 1355.7L658.0 1354.9L660.0 1354.1L662.0 1353.3L664.0 1352.4L666.0 1351.5L668.0 1350.6L670.0 1349.4L672.0 1348.2L674.0 1346.9L676.0 1345.3L678.0 1343.8L680.0 1342.2L682.0 1340.7L684.0 1339.1L686.0 1337.5L688.0 1336.1L690.0 1334.6L692.0 1333.3L694.0 1331.9L696.0 1330.5L698.0 1328.8L700.0 1327.1L702.0 1325.2L704.0 1322.6L706.0 1320.0L708.0 1317.2L710.0 1314.5L712.0 1311.6L714.0 1309.0L716.0 1306.6L718.0 1304.2L720.0 1301.4L722.0 1298.5L724.0 1295.5L726.0 1292.1L728.0 1288.5L730.0 1284.8L732.0 1281.3L734.0 1277.7L736.0 1273.8L738.0 1269.8L740.0 1265.6L742.0 1261.0L744.0 1255.9L746.0 1250.1L748.0 1243.7L750.0 1237.0L752.0 1229.9L754.0 1222.7L756.0 1215.4L758.0 1207.7L760.0 1199.6L762.0 1191.4L764.0 1183.4L766.0 1175.9L768.0 1168.6L770.0 1161.5L772.0 1154.2L774.0 1146.6L776.0 1138.0L778.0 1128.7L780.0 1118.8L782.0 1108.8L784.0 1099.0L786.0 1089.7L788.0 1080.8L790.0 1071.9L792.0 1062.8L794.0 1053.3L796.0 1043.6L798.0 1033.0L800.0 1021.7L802.0 1008.9L804.0 994.9L806.0 981.9L808.0 970.0L810.0 958.7L812.0 948.4L814.0 939.6L816.0 932.2L818.0 925.7L820.0 919.7L822.0 913.8L824.0 907.7L826.0 901.1L828.0 893.6L830.0 885.5L832.0 877.2L834.0 869.0L836.0 861.1L838.0 853.4L840.0 846.0L842.0 838.6L844.0 831.2L846.0 823.6L848.0 816.2L850.0 808.8L852.0 801.2L854.0 793.9L856.0 786.9L858.0 780.2L860.0 773.1L862.0 766.3L864.0 759.5L866.0 752.6L868.0 745.8L870.0 739.3L872.0 733.3L874.0 727.3L876.0 721.7L878.0 716.1L880.0 710.4L882.0 704.6L884.0 698.6L886.0 692.5L888.0 686.5L890.0 680.3L892.0 673.8L894.0 666.8L896.0 659.4L898.0 651.6L900.0 643.3L902.0 634.4L904.0 625.0L906.0 614.6L908.0 602.3L910.0 588.3L912.0 573.8L914.0 559.4L916.0 545.8L918.0 533.9L920.0 523.2L922.0 513.2L924.0 503.5L926.0 493.8L928.0 483.7L930.0 473.4L932.0 463.5L934.0 454.0L936.0 445.1L938.0 436.7L940.0 428.8L942.0 421.1L944.0 413.3L946.0 405.6L948.0 397.6L950.0 389.1L952.0 380.3L954.0 371.4L956.0 362.7L958.0 354.6L960.0 347.8L962.0 341.5L964.0 335.5L966.0 330.1L968.0 325.7L970.0 322.6L972.0 320.2L974.0 318.0L976.0 316.0L978.0 314.4L980.0 313.4L982.0 313.2L984.0 314.3L986.0 316.7L988.0 319.9L990.0 323.8L992.0 328.0L994.0 331.9L996.0 335.7L998.0 339.8L1000.0 344.7L1002.0 350.1L1004.0 356.4L1006.0 363.2L1008.0 370.2L1010.0 377.9L1012.0 386.2L1014.0 394.9L1016.0 403.4L1018.0 411.9L1020.0 419.9L1022.0 427.0L1024.0 433.7L1026.0 440.3L1028.0 446.7L1030.0 453.3L1032.0 460.6L1034.0 468.4L1036.0 476.7L1038.0 486.3L1040.0 497.1L1042.0 508.4L1044.0 519.9L1046.0 530.9L1048.0 540.7L1050.0 549.3L1052.0 557.4L1054.0 564.6L1056.0 571.2L1058.0 577.6L1060.0 584.3L1062.0 591.2L1064.0 598.4L1066.0 606.3L1068.0 614.3L1070.0 622.3L1072.0 630.6L1074.0 638.9L1076.0 647.4L1078.0 656.0L1080.0 665.1L1082.0 674.6L1084.0 684.1L1086.0 693.5L1088.0 701.9L1090.0 709.5L1092.0 715.8L1094.0 720.9L1096.0 726.1L1098.0 732.9L1100.0 741.8L1102.0 751.4L1104.0 760.7L1106.0 768.4L1108.0 775.1L1110.0 781.3L1112.0 787.4L1114.0 793.9L1116.0 801.1L1118.0 808.9L1120.0 816.2L1122.0 822.3L1124.0 827.0L1126.0 831.2L1128.0 835.1L1130.0 838.9L1132.0 842.4L1134.0 846.0L1136.0 849.6L1138.0 852.8L1140.0 855.9L1142.0 859.1L1144.0 862.9L1146.0 866.7L1148.0 870.4L1150.0 873.9L1152.0 877.5L1154.0 880.9L1156.0 884.2L1158.0 887.7L1160.0 892.1L1162.0 897.3L1164.0 903.0L1166.0 909.6L1168.0 916.2L1170.0 922.1L1172.0 926.5L1174.0 930.8L1176.0 934.6L1178.0 937.5L1180.0 940.1L1182.0 943.1L1184.0 946.2L1186.0 949.1L1188.0 952.2L1190.0 955.4L1192.0 958.6L1194.0 961.1L1196.0 963.6L1198.0 966.1L1200.0 968.6L1202.0 971.0L1204.0 973.6L1206.0 976.3L1208.0 978.9L1210.0 981.6L1212.0 984.4L1214.0 987.1L1216.0 990.0L1218.0 992.9L1220.0 995.6L1222.0 997.5L1224.0 999.3L1226.0 1000.8L1228.0 1001.7L1230.0 1002.6L1232.0 1003.9L1234.0 1005.4L1236.0 1007.0L1238.0 1008.4L1240.0 1009.9L1242.0 1011.2L1244.0 1012.4L1246.0 1013.6L1248.0 1014.9L1250.0 1017.0L1252.0 1019.0L1254.0 1021.0L1256.0 1023.0L1258.0 1024.9L1260.0 1026.5L1262.0 1028.0L1264.0 1029.4L1266.0 1031.3L1268.0 1033.3L1270.0 1035.3L1272.0 1037.2L1274.0 1039.2L1276.0 1041.2L1278.0 1043.4L1280.0 1045.5L1282.0 1047.7L1284.0 1049.8L1286.0 1052.0L1288.0 1053.6L1290.0 1055.0L1292.0 1056.4L1294.0 1058.2L1296.0 1060.3L1298.0 1062.4L1300.0 1065.2L1302.0 1067.9L1304.0 1070.7L1306.0 1073.1L1308.0 1075.6L1310.0 1077.9L1312.0 1080.1L1314.0 1082.2L1316.0 1084.1L1318.0 1086.0L1320.0 1087.8L1322.0 1090.1L1324.0 1092.5L1326.0 1094.8L1328.0 1096.8L1330.0 1098.8L1332.0 1100.4L1334.0 1101.4L1336.0 1102.3L1338.0 1103.6L1340.0 1105.1L1342.0 1106.6L1344.0 1108.6L1346.0 1110.8L1348.0 1112.9L1350.0 1114.2L1352.0 1115.5L1354.0 1116.7L1356.0 1117.5L1358.0 1118.3L1360.0 1119.2L1362.0 1120.3L1364.0 1121.3L1366.0 1122.5L1368.0 1123.9L1370.0 1125.1L1372.0 1126.4L1374.0 1127.7L1376.0 1128.9L1378.0 1129.5L1380.0 1130.1L1382.0 1130.6L1384.0 1130.9L1386.0 1131.3L1388.0 1132.0L1390.0 1132.9L1392.0 1133.9L1394.0 1135.2L1396.0 1136.5L1398.0 1138.0L1400.0 1139.4L1402.0 1140.9L1404.0 1142.5L1406.0 1144.4L1408.0 1146.4L1410.0 1148.5L1412.0 1150.8L1414.0 1153.2L1416.0 1155.4L1418.0 1157.6L1420.0 1159.7L1422.0 1161.5L1424.0 1163.2L1426.0 1164.9L1428.0 1166.1L1430.0 1167.3L1432.0 1168.4L1434.0 1169.1L1436.0 1169.9L1438.0 1170.7L1440.0 1171.5L1442.0 1172.4L1444.0 1173.8L1446.0 1175.4L1448.0 1177.1L1450.0 1179.7L1452.0 1182.4L1454.0 1185.2L1456.0 1188.3L1458.0 1191.5L1460.0 1194.3L1462.0 1196.5L1464.0 1198.6L1466.0 1200.1L1468.0 1201.2L1470.0 1202.2L1472.0 1203.1L1474.0 1203.8L1476.0 1204.5L1478.0 1206.1L1480.0 1207.6L1482.0 1209.3L1484.0 1211.8L1486.0 1214.2L1488.0 1216.1L1490.0 1217.4L1492.0 1218.6L1494.0 1219.5L1496.0 1220.1L1498.0 1220.7L1500.0 1222.3L1502.0 1224.1L1504.0 1225.9L1506.0 1227.5L1508.0 1229.0L1510.0 1230.6L1512.0 1232.0L1514.0 1233.4L1516.0 1235.1L1518.0 1237.0L1520.0 1239.0L1522.0 1240.3L1524.0 1241.3L1526.0 1242.4L1528.0 1243.3L1530.0 1244.3L1532.0 1245.3L1534.0 1246.9L1536.0 1248.6L1538.0 1250.2L1540.0 1251.7L1542.0 1253.2L1544.0 1254.5L1546.0 1255.7L1548.0 1256.9L1550.0 1258.3L1552.0 1259.7L1554.0 1261.2L1556.0 1262.4L1558.0 1263.5L1560.0 1264.6L1562.0 1265.8L1564.0 1266.8L1566.0 1268.3L1568.0 1270.1L1570.0 1272.0L1572.0 1273.4L1574.0 1274.6L1576.0 1275.8L1578.0 1276.7L1580.0 1277.6L1582.0 1278.4L1584.0 1279.7L1586.0 1280.9L1588.0 1282.0L1590.0 1283.0L1592.0 1283.9L1594.0 1284.9L1596.0 1286.0L1598.0 1287.0L1600.0 1288.0L1602.0 1289.0L1604.0 1290.0L1606.0 1290.6L1608.0 1291.1L1610.0 1291.4L1612.0 1291.2L1614.0 1291.0L1616.0 1290.9L1618.0 1291.4L1620.0 1291.7L1622.0 1292.6L1624.0 1293.8L1626.0 1295.0L1628.0 1296.1L1630.0 1297.1L1632.0 1298.2L1634.0 1299.2L1636.0 1300.2L1638.0 1301.2L1640.0 1302.1L1642.0 1302.9L1644.0 1303.7L1646.0 1304.2L1648.0 1304.8L1650.0 1304.9L1652.0 1304.8L1654.0 1304.7L1656.0 1304.8L1658.0 1305.0L1660.0 1305.2L1662.0 1306.6L1664.0 1307.9L1666.0 1309.1L1668.0 1310.1L1670.0 1311.0L1672.0 1311.5L1674.0 1311.5L1676.0 1311.6L1678.0 1312.1L1680.0 1312.7L1682.0 1313.4L1684.0 1313.8L1686.0 1314.2L1688.0 1314.6L1690.0 1315.2L1692.0 1315.7L1694.0 1316.5L1696.0 1317.6L1698.0 1318.8L1700.0 1319.3L1702.0 1319.5L1704.0 1319.7L1706.0 1319.9L1708.0 1320.1L1710.0 1320.3L1712.0 1320.5L1714.0 1320.8L1716.0 1320.7L1718.0 1319.9L1720.0 1319.2L1722.0 1318.9L1724.0 1319.2L1726.0 1319.5L1728.0 1320.3L1730.0 1321.3L1732.0 1322.3L1734.0 1322.4L1736.0 1322.3L1738.0 1322.2L1740.0 1322.3L1742.0 1322.4L1744.0 1322.7L1746.0 1323.5L1748.0 1324.3L1750.0 1325.1L1752.0 1325.9L1754.0 1326.8L1756.0 1327.4L1758.0 1327.9L1760.0 1328.4L1762.0 1328.2L1764.0 1328.0L1766.0 1327.9L1768.0 1328.0L1770.0 1328.1L1772.0 1328.6L1774.0 1329.4L1776.0 1330.3L1778.0 1331.3L1780.0 1332.3L1782.0 1333.3L1784.0 1333.9L1786.0 1334.4L1788.0 1334.9L1790.0 1334.7L1792.0 1334.5L1794.0 1334.3L1796.0 1334.1L1798.0 1333.8L1800.0 1333.8L1802.0 1334.0L1804.0 1334.2L1806.0 1334.3L1808.0 1334.5L1810.0 1334.6L1812.0 1335.3L1814.0 1336.1L1816.0 1336.8L1818.0 1337.2L1820.0 1337.6L1822.0 1337.7L1824.0 1337.4L1826.0 1337.1L1828.0 1337.7L1830.0 1339.1L1832.0 1340.4L1834.0 1341.2L1836.0 1341.7L1838.0 1342.2L1840.0 1341.4L1842.0 1340.5L1844.0 1339.8L1846.0 1340.2L1848.0 1340.5L1850.0 1340.8L1852.0 1341.0L1854.0 1341.2L1856.0 1341.3L1858.0 1341.3L1860.0 1341.3L1862.0 1342.3L1864.0 1343.4L1866.0 1344.5L1868.0 1345.4L1870.0 1346.3L1872.0 1346.8L1874.0 1346.5L1876.0 1346.3L1878.0 1346.1L1880.0 1346.0L1882.0 1345.9L1884.0 1346.4L1886.0 1347.2L1888.0 1348.1L1890.0 1348.5L1892.0 1348.8L1894.0 1349.1L1896.0 1348.7L1898.0 1348.3L1900.0 1348.0L1902.0 1348.0L1904.0 1348.1L1906.0 1348.4L1908.0 1349.1L1910.0 1349.7L1912.0 1349.8L1914.0 1349.8L1916.0 1349.8L1918.0 1348.9L1920.0 1347.9L1922.0 1347.1L1924.0 1346.7L1926.0 1346.3L1928.0 1346.3L1930.0 1347.0L1932.0 1347.7L1934.0 1348.3L1936.0 1349.0L1938.0 1349.6L1940.0 1350.0L1942.0 1350.4L1944.0 1350.8L1946.0 1351.8L1948.0 1352.8L1950.0 1353.6L1952.0 1354.0L1954.0 1354.4L1956.0 1354.5L1958.0 1354.2L1960.0 1353.8L1962.0 1354.0L1964.0 1354.5L1966.0 1354.9L1968.0 1355.4L1970.0 1355.8L1972.0 1356.3L1974.0 1356.3L1976.0 1356.3L1978.0 1356.1L1980.0 1355.5L1982.0 1355.0L1984.0 1354.5L1986.0 1354.1L1988.0 1353.7L1990.0 1353.6L1992.0 1353.6L1994.0 1353.6L1996.0 1353.1L1998.0 1352.6L2000.0 1352.5L2002.0 1353.5L2004.0 1354.6L2006.0 1355.7L2008.0 1356.8L2010.0 1357.9L2012.0 1357.9L2014.0 1357.4L2016.0 1356.9L2018.0 1356.6L2020.0 1356.3L2022.0 1356.1L2024.0 1356.3L2026.0 1356.6L2028.0 1357.1L2030.0 1358.0L2032.0 1358.9L2034.0 1359.8L2036.0 1360.7L2038.0 1361.5L2040.0 1362.1L2042.0 1362.5L2044.0 1362.9L2046.0 1362.9L2048.0 1362.9L2050.0 1362.8L2052.0 1362.6L2054.0 1362.3L2056.0 1361.9L2058.0 1361.3L2060.0 1360.7L2062.0 1360.4L2064.0 1360.4L2066.0 1360.4L2068.0 1361.2L2070.0 1362.3L2072.0 1363.4L2074.0 1363.6L2076.0 1363.8L2078.0 1363.8L2080.0 1363.3L2082.0 1362.8L2084.0 1362.4L2086.0 1362.0L2088.0 1361.6L2090.0 1361.5L2092.0 1361.5L2094.0 1361.6L2096.0 1362.0L2098.0 1362.6L2100.0 1363.2L2102.0 1363.4L2104.0 1363.7L2106.0 1363.9L2108.0 1363.7L2110.0 1363.6L2112.0 1363.5L2114.0 1363.5L2116.0 1363.5L2118.0 1363.5" stroke="#3BAE6F" stroke-width="13.5"/>
<path d="M455.0 1382.0L455.0 1382.0L455.0 1382.0L455.0 1382.0L456.0 1382.0L458.0 1382.0L460.0 1382.0L462.0 1382.0L464.0 1381.9L466.0 1381.9L468.0 1381.9L470.0 1381.8L472.0 1381.8L474.0 1381.7L476.0 1381.6L478.0 1381.6L480.0 1381.5L482.0 1381.4L484.0 1381.3L486.0 1381.2L488.0 1381.1L490.0 1381.0L492.0 1380.9L494.0 1380.8L496.0 1380.7L498.0 1380.5L500.0 1380.4L502.0 1380.2L504.0 1380.1L506.0 1379.9L508.0 1379.8L510.0 1379.7L512.0 1379.5L514.0 1379.4L516.0 1379.3L518.0 1379.2L520.0 1379.0L522.0 1378.9L524.0 1378.7L526.0 1378.5L528.0 1378.3L530.0 1378.0L532.0 1377.8L534.0 1377.5L536.0 1377.2L538.0 1376.9L540.0 1376.6L542.0 1376.3L544.0 1376.0L546.0 1375.6L548.0 1375.3L550.0 1375.0L552.0 1374.6L554.0 1374.2L556.0 1373.8L558.0 1373.3L560.0 1372.8L562.0 1372.3L564.0 1371.8L566.0 1371.3L568.0 1370.8L570.0 1370.4L572.0 1369.9L574.0 1369.4L576.0 1368.9L578.0 1368.4L580.0 1367.8L582.0 1367.3L584.0 1366.8L586.0 1366.2L588.0 1365.6L590.0 1365.0L592.0 1364.4L594.0 1363.7L596.0 1363.1L598.0 1362.3L600.0 1361.5L602.0 1360.7L604.0 1359.8L606.0 1358.8L608.0 1357.9L610.0 1357.0L612.0 1356.1L614.0 1355.2L616.0 1354.4L618.0 1353.5L620.0 1352.5L622.0 1351.5L624.0 1350.4L626.0 1349.1L628.0 1347.8L630.0 1346.5L632.0 1345.3L634.0 1344.1L636.0 1342.9L638.0 1341.7L640.0 1340.5L642.0 1339.1L644.0 1337.6L646.0 1336.1L648.0 1334.4L650.0 1332.7L652.0 1331.0L654.0 1329.5L656.0 1327.9L658.0 1326.4L660.0 1324.9L662.0 1323.3L664.0 1321.5L666.0 1319.5L668.0 1317.4L670.0 1315.2L672.0 1313.0L674.0 1310.7L676.0 1308.6L678.0 1306.3L680.0 1304.0L682.0 1301.5L684.0 1298.9L686.0 1296.1L688.0 1293.2L690.0 1290.1L692.0 1287.1L694.0 1284.0L696.0 1280.7L698.0 1277.4L700.0 1274.0L702.0 1270.5L704.0 1267.0L706.0 1263.3L708.0 1259.5L710.0 1255.5L712.0 1251.2L714.0 1246.8L716.0 1242.1L718.0 1237.3L720.0 1232.9L722.0 1228.4L724.0 1223.8L726.0 1219.0L728.0 1213.9L730.0 1208.3L732.0 1201.8L734.0 1195.1L736.0 1188.3L738.0 1181.5L740.0 1174.9L742.0 1168.8L744.0 1163.0L746.0 1157.2L748.0 1151.6L750.0 1146.0L752.0 1140.2L754.0 1133.9L756.0 1127.5L758.0 1120.9L760.0 1113.6L762.0 1106.1L764.0 1097.9L766.0 1088.7L768.0 1078.8L770.0 1069.1L772.0 1060.1L774.0 1052.0L776.0 1044.7L778.0 1037.7L780.0 1030.5L782.0 1022.8L784.0 1014.3L786.0 1005.0L788.0 995.2L790.0 985.8L792.0 977.4L794.0 970.1L796.0 963.3L798.0 956.8L800.0 950.1L802.0 943.1L804.0 934.7L806.0 925.6L808.0 916.3L810.0 907.5L812.0 899.3L814.0 891.6L816.0 884.2L818.0 877.1L820.0 869.6L822.0 861.8L824.0 854.0L826.0 846.5L828.0 839.0L830.0 831.4L832.0 823.8L834.0 815.7L836.0 806.6L838.0 797.0L840.0 787.9L842.0 779.9L844.0 772.9L846.0 766.5L848.0 760.6L850.0 754.9L852.0 749.5L854.0 744.2L856.0 738.9L858.0 733.5L860.0 728.5L862.0 723.6L864.0 718.7L866.0 713.5L868.0 708.3L870.0 702.9L872.0 697.1L874.0 691.2L876.0 685.1L878.0 678.9L880.0 672.7L882.0 666.4L884.0 660.1L886.0 653.9L888.0 647.9L890.0 641.9L892.0 635.9L894.0 629.7L896.0 623.4L898.0 616.6L900.0 609.4L902.0 601.9L904.0 594.3L906.0 586.5L908.0 578.5L910.0 569.8L912.0 560.5L914.0 551.0L916.0 541.7L918.0 533.0L920.0 525.6L922.0 519.3L924.0 513.5L926.0 508.0L928.0 502.4L930.0 496.6L932.0 489.7L934.0 482.1L936.0 474.0L938.0 466.3L940.0 459.1L942.0 453.0L944.0 447.4L946.0 442.2L948.0 437.1L950.0 432.0L952.0 427.2L954.0 421.9L956.0 416.7L958.0 411.7L960.0 407.2L962.0 403.2L964.0 400.2L966.0 398.4L968.0 396.9L970.0 395.5L972.0 394.3L974.0 393.2L976.0 392.2L978.0 391.3L980.0 390.5L982.0 390.0L984.0 389.8L986.0 389.8L988.0 389.6L990.0 390.1L992.0 391.3L994.0 392.9L996.0 395.0L998.0 397.8L1000.0 401.3L1002.0 405.1L1004.0 408.7L1006.0 414.2L1008.0 421.8L1010.0 430.1L1012.0 438.2L1014.0 445.0L1016.0 451.9L1018.0 458.4L1020.0 464.7L1022.0 471.0L1024.0 477.4L1026.0 483.8L1028.0 490.2L1030.0 497.0L1032.0 503.7L1034.0 510.6L1036.0 517.5L1038.0 524.5L1040.0 531.4L1042.0 538.3L1044.0 545.1L1046.0 551.8L1048.0 558.4L1050.0 565.0L1052.0 571.7L1054.0 578.4L1056.0 585.2L1058.0 592.3L1060.0 599.4L1062.0 606.8L1064.0 614.5L1066.0 622.4L1068.0 630.4L1070.0 638.4L1072.0 646.5L1074.0 654.4L1076.0 662.5L1078.0 670.8L1080.0 679.2L1082.0 688.0L1084.0 696.7L1086.0 704.8L1088.0 712.3L1090.0 718.8L1092.0 724.1L1094.0 727.7L1096.0 731.5L1098.0 735.7L1100.0 740.8L1102.0 746.6L1104.0 753.6L1106.0 760.8L1108.0 767.5L1110.0 774.3L1112.0 781.3L1114.0 788.7L1116.0 796.1L1118.0 805.1L1120.0 814.0L1122.0 820.8L1124.0 825.7L1126.0 829.8L1128.0 833.5L1130.0 837.0L1132.0 840.5L1134.0 844.1L1136.0 847.6L1138.0 851.5L1140.0 855.5L1142.0 859.6L1144.0 864.3L1146.0 869.0L1148.0 873.3L1150.0 877.1L1152.0 881.0L1154.0 884.8L1156.0 888.7L1158.0 892.7L1160.0 897.7L1162.0 903.5L1164.0 909.6L1166.0 915.1L1168.0 920.1L1170.0 924.5L1172.0 927.9L1174.0 931.1L1176.0 934.2L1178.0 937.5L1180.0 940.3L1182.0 943.5L1184.0 946.7L1186.0 949.7L1188.0 952.9L1190.0 956.2L1192.0 959.6L1194.0 962.9L1196.0 966.5L1198.0 970.0L1200.0 972.9L1202.0 975.4L1204.0 977.4L1206.0 979.0L1208.0 980.3L1210.0 981.7L1212.0 983.3L1214.0 985.0L1216.0 986.6L1218.0 988.5L1220.0 990.6L1222.0 992.4L1224.0 994.3L1226.0 996.5L1228.0 999.1L1230.0 1001.7L1232.0 1004.4L1234.0 1007.1L1236.0 1009.8L1238.0 1012.0L1240.0 1013.9L1242.0 1015.6L1244.0 1017.5L1246.0 1019.3L1248.0 1021.1L1250.0 1023.4L1252.0 1025.6L1254.0 1027.8L1256.0 1029.7L1258.0 1031.8L1260.0 1033.4L1262.0 1034.9L1264.0 1036.6L1266.0 1038.5L1268.0 1040.6L1270.0 1042.8L1272.0 1045.7L1274.0 1048.6L1276.0 1051.2L1278.0 1053.4L1280.0 1055.5L1282.0 1057.3L1284.0 1058.9L1286.0 1060.3L1288.0 1062.5L1290.0 1065.0L1292.0 1067.4L1294.0 1070.0L1296.0 1072.5L1298.0 1074.9L1300.0 1076.1L1302.0 1077.3L1304.0 1078.5L1306.0 1079.5L1308.0 1080.5L1310.0 1081.6L1312.0 1083.0L1314.0 1084.3L1316.0 1086.4L1318.0 1088.8L1320.0 1091.2L1322.0 1093.9L1324.0 1096.6L1326.0 1099.0L1328.0 1100.3L1330.0 1101.6L1332.0 1102.8L1334.0 1103.9L1336.0 1105.0L1338.0 1106.2L1340.0 1107.7L1342.0 1109.1L1344.0 1110.7L1346.0 1112.4L1348.0 1114.1L1350.0 1116.2L1352.0 1118.2L1354.0 1120.0L1356.0 1121.3L1358.0 1122.6L1360.0 1123.7L1362.0 1124.7L1364.0 1125.6L1366.0 1126.7L1368.0 1128.1L1370.0 1129.4L1372.0 1130.9L1374.0 1132.5L1376.0 1134.1L1378.0 1136.0L1380.0 1137.9L1382.0 1139.9L1384.0 1142.0L1386.0 1144.2L1388.0 1146.0L1390.0 1147.7L1392.0 1149.3L1394.0 1150.8L1396.0 1152.2L1398.0 1153.5L1400.0 1155.1L1402.0 1156.6L1404.0 1158.2L1406.0 1159.5L1408.0 1160.9L1410.0 1162.3L1412.0 1163.7L1414.0 1165.1L1416.0 1166.6L1418.0 1168.2L1420.0 1169.8L1422.0 1171.5L1424.0 1173.3L1426.0 1175.1L1428.0 1177.1L1430.0 1179.2L1432.0 1181.1L1434.0 1182.7L1436.0 1184.2L1438.0 1185.3L1440.0 1186.0L1442.0 1186.6L1444.0 1187.2L1446.0 1187.7L1448.0 1188.2L1450.0 1189.7L1452.0 1191.3L1454.0 1192.8L1456.0 1194.5L1458.0 1196.2L1460.0 1197.7L1462.0 1198.8L1464.0 1200.0L1466.0 1201.4L1468.0 1203.2L1470.0 1204.9L1472.0 1206.5L1474.0 1208.0L1476.0 1209.6L1478.0 1210.2L1480.0 1210.7L1482.0 1211.4L1484.0 1212.6L1486.0 1213.8L1488.0 1215.3L1490.0 1217.3L1492.0 1219.4L1494.0 1221.1L1496.0 1222.6L1498.0 1224.1L1500.0 1225.3L1502.0 1226.4L1504.0 1227.6L1506.0 1229.1L1508.0 1230.7L1510.0 1232.5L1512.0 1234.7L1514.0 1236.9L1516.0 1238.7L1518.0 1240.1L1520.0 1241.5L1522.0 1242.7L1524.0 1243.7L1526.0 1244.7L1528.0 1246.1L1530.0 1247.6L1532.0 1249.0L1534.0 1250.1L1536.0 1251.2L1538.0 1252.3L1540.0 1253.6L1542.0 1254.8L1544.0 1255.9L1546.0 1256.7L1548.0 1257.5L1550.0 1258.0L1552.0 1258.5L1554.0 1258.9L1556.0 1260.3L1558.0 1261.6L1560.0 1262.9L1562.0 1264.3L1564.0 1265.6L1566.0 1266.8L1568.0 1267.8L1570.0 1268.7L1572.0 1270.0L1574.0 1271.5L1576.0 1272.9L1578.0 1274.6L1580.0 1276.2L1582.0 1277.7L1584.0 1278.5L1586.0 1279.3L1588.0 1280.0L1590.0 1280.2L1592.0 1280.5L1594.0 1281.0L1596.0 1282.0L1598.0 1282.9L1600.0 1284.2L1602.0 1285.7L1604.0 1287.1L1606.0 1288.1L1608.0 1289.0L1610.0 1289.9L1612.0 1290.8L1614.0 1291.7L1616.0 1292.7L1618.0 1294.0L1620.0 1295.2L1622.0 1296.1L1624.0 1296.8L1626.0 1297.6L1628.0 1297.9L1630.0 1298.2L1632.0 1298.4L1634.0 1298.5L1636.0 1298.6L1638.0 1298.7L1640.0 1298.5L1642.0 1298.4L1644.0 1298.6L1646.0 1299.1L1648.0 1299.7L1650.0 1301.0L1652.0 1302.6L1654.0 1304.2L1656.0 1305.5L1658.0 1306.7L1660.0 1307.7L1662.0 1308.0L1664.0 1308.2L1666.0 1308.3L1668.0 1308.3L1670.0 1308.3L1672.0 1308.5L1674.0 1308.8L1676.0 1309.1L1678.0 1309.2L1680.0 1309.3L1682.0 1309.4L1684.0 1309.5L1686.0 1309.6L1688.0 1310.0L1690.0 1311.5L1692.0 1313.1L1694.0 1314.6L1696.0 1315.8L1698.0 1317.0L1700.0 1317.1L1702.0 1316.4L1704.0 1315.7L1706.0 1315.5L1708.0 1315.4L1710.0 1315.4L1712.0 1316.2L1714.0 1317.1L1716.0 1317.8L1718.0 1318.0L1720.0 1318.2L1722.0 1318.3L1724.0 1318.3L1726.0 1318.2L1728.0 1318.7L1730.0 1319.4L1732.0 1320.1L1734.0 1320.5L1736.0 1320.9L1738.0 1321.2L1740.0 1320.8L1742.0 1320.4L1744.0 1320.3L1746.0 1321.0L1748.0 1321.7L1750.0 1322.8L1752.0 1324.3L1754.0 1325.8L1756.0 1326.6L1758.0 1327.1L1760.0 1327.6L1762.0 1327.8L1764.0 1327.9L1766.0 1328.1L1768.0 1328.4L1770.0 1328.6L1772.0 1328.7L1774.0 1328.5L1776.0 1328.3L1778.0 1328.1L1780.0 1328.0L1782.0 1327.9L1784.0 1328.7L1786.0 1329.6L1788.0 1330.6L1790.0 1331.8L1792.0 1333.0L1794.0 1333.9L1796.0 1333.9L1798.0 1333.8L1800.0 1333.9L1802.0 1334.1L1804.0 1334.4L1806.0 1335.1L1808.0 1336.1L1810.0 1337.0L1812.0 1336.8L1814.0 1336.3L1816.0 1335.9L1818.0 1335.8L1820.0 1335.6L1822.0 1335.8L1824.0 1336.9L1826.0 1337.9L1828.0 1339.0L1830.0 1340.1L1832.0 1341.3L1834.0 1342.2L1836.0 1343.0L1838.0 1343.8L1840.0 1343.5L1842.0 1343.2L1844.0 1342.8L1846.0 1341.9L1848.0 1341.1L1850.0 1340.4L1852.0 1339.9L1854.0 1339.5L1856.0 1339.5L1858.0 1339.8L1860.0 1340.1L1862.0 1340.4L1864.0 1340.6L1866.0 1340.8L1868.0 1340.7L1870.0 1340.7L1872.0 1340.8L1874.0 1341.4L1876.0 1342.0L1878.0 1342.8L1880.0 1343.9L1882.0 1345.0L1884.0 1346.1L1886.0 1347.2L1888.0 1348.4L1890.0 1348.6L1892.0 1348.8L1894.0 1348.8L1896.0 1348.1L1898.0 1347.4L1900.0 1346.8L1902.0 1346.4L1904.0 1346.1L1906.0 1346.3L1908.0 1347.0L1910.0 1347.7L1912.0 1348.1L1914.0 1348.3L1916.0 1348.6L1918.0 1347.8L1920.0 1347.0L1922.0 1346.3L1924.0 1345.8L1926.0 1345.2L1928.0 1345.0L1930.0 1345.3L1932.0 1345.5L1934.0 1346.4L1936.0 1347.6L1938.0 1348.8L1940.0 1349.8L1942.0 1350.7L1944.0 1351.5L1946.0 1351.6L1948.0 1351.7L1950.0 1351.7L1952.0 1351.5L1954.0 1351.2L1956.0 1351.0L1958.0 1350.8L1960.0 1350.6L1962.0 1350.4L1964.0 1350.2L1966.0 1350.1L1968.0 1350.1L1970.0 1350.0L1972.0 1350.1L1974.0 1350.7L1976.0 1351.3L1978.0 1351.8L1980.0 1351.9L1982.0 1351.9L1984.0 1351.5L1986.0 1350.7L1988.0 1349.8L1990.0 1349.9L1992.0 1350.3L1994.0 1350.7L1996.0 1351.9L1998.0 1353.1L2000.0 1354.0L2002.0 1354.0L2004.0 1354.0L2006.0 1353.7L2008.0 1353.3L2010.0 1352.8L2012.0 1352.8L2014.0 1353.1L2016.0 1353.3L2018.0 1353.7L2020.0 1354.1L2022.0 1354.5L2024.0 1355.8L2026.0 1357.1L2028.0 1358.3L2030.0 1359.4L2032.0 1360.4L2034.0 1360.2L2036.0 1358.6L2038.0 1356.9L2040.0 1355.6L2042.0 1354.5L2044.0 1353.3L2046.0 1354.3L2048.0 1355.5L2050.0 1356.5L2052.0 1357.1L2054.0 1357.7L2056.0 1358.1L2058.0 1358.1L2060.0 1358.1L2062.0 1358.2L2064.0 1358.3L2066.0 1358.4L2068.0 1358.1L2070.0 1357.6L2072.0 1357.1L2074.0 1357.9L2076.0 1358.8L2078.0 1359.8L2080.0 1361.5L2082.0 1363.1L2084.0 1364.1L2086.0 1364.1L2088.0 1364.1L2090.0 1364.1L2092.0 1364.1L2094.0 1364.1L2096.0 1364.5L2098.0 1365.0L2100.0 1365.4L2102.0 1364.7L2104.0 1364.1L2106.0 1363.1L2108.0 1361.4L2110.0 1359.7L2112.0 1358.7L2114.0 1358.4L2116.0 1358.1L2118.0 1358.7" stroke="#B07CDC" stroke-width="13.5"/>
<path d="M455.0 1381.5L455.0 1381.5L455.0 1381.5L455.0 1381.5L456.0 1381.5L458.0 1381.5L460.0 1381.5L462.0 1381.5L464.0 1381.4L466.0 1381.4L468.0 1381.3L470.0 1381.3L472.0 1381.2L474.0 1381.1L476.0 1381.1L478.0 1381.0L480.0 1380.9L482.0 1380.8L484.0 1380.8L486.0 1380.7L488.0 1380.6L490.0 1380.5L492.0 1380.4L494.0 1380.4L496.0 1380.3L498.0 1380.2L500.0 1380.1L502.0 1380.0L504.0 1379.9L506.0 1379.8L508.0 1379.6L510.0 1379.4L512.0 1379.2L514.0 1379.0L516.0 1378.8L518.0 1378.6L520.0 1378.4L522.0 1378.2L524.0 1378.0L526.0 1377.7L528.0 1377.4L530.0 1377.2L532.0 1376.9L534.0 1376.7L536.0 1376.4L538.0 1376.1L540.0 1375.8L542.0 1375.5L544.0 1375.1L546.0 1374.8L548.0 1374.4L550.0 1374.0L552.0 1373.5L554.0 1373.1L556.0 1372.7L558.0 1372.2L560.0 1371.6L562.0 1371.1L564.0 1370.5L566.0 1369.8L568.0 1369.1L570.0 1368.5L572.0 1367.8L574.0 1367.2L576.0 1366.6L578.0 1365.9L580.0 1365.3L582.0 1364.5L584.0 1363.7L586.0 1362.8L588.0 1361.9L590.0 1360.9L592.0 1359.8L594.0 1358.7L596.0 1357.5L598.0 1356.4L600.0 1355.2L602.0 1354.0L604.0 1352.8L606.0 1351.6L608.0 1350.3L610.0 1348.9L612.0 1347.5L614.0 1345.9L616.0 1344.2L618.0 1342.5L620.0 1340.9L622.0 1339.3L624.0 1337.7L626.0 1336.3L628.0 1334.9L630.0 1333.6L632.0 1332.0L634.0 1330.4L636.0 1328.7L638.0 1326.8L640.0 1324.6L642.0 1322.3L644.0 1319.6L646.0 1316.6L648.0 1313.3L650.0 1309.8L652.0 1306.1L654.0 1302.2L656.0 1298.3L658.0 1294.3L660.0 1290.3L662.0 1286.1L664.0 1281.7L666.0 1277.2L668.0 1272.5L670.0 1267.6L672.0 1262.4L674.0 1257.1L676.0 1251.8L678.0 1246.1L680.0 1240.2L682.0 1234.0L684.0 1227.6L686.0 1220.8L688.0 1213.4L690.0 1205.7L692.0 1198.1L694.0 1190.6L696.0 1183.0L698.0 1175.8L700.0 1168.9L702.0 1161.8L704.0 1154.1L706.0 1146.0L708.0 1137.4L710.0 1128.2L712.0 1118.4L714.0 1108.7L716.0 1099.5L718.0 1090.6L720.0 1082.0L722.0 1073.4L724.0 1064.8L726.0 1056.1L728.0 1047.7L730.0 1039.2L732.0 1030.4L734.0 1021.0L736.0 1010.6L738.0 999.3L740.0 988.1L742.0 977.3L744.0 966.7L746.0 956.4L748.0 947.0L750.0 938.1L752.0 929.9L754.0 922.8L756.0 916.0L758.0 909.1L760.0 901.5L762.0 893.7L764.0 885.8L766.0 877.8L768.0 869.8L770.0 862.1L772.0 854.4L774.0 846.8L776.0 838.6L778.0 830.5L780.0 822.4L782.0 814.2L784.0 805.9L786.0 797.8L788.0 790.3L790.0 783.1L792.0 776.4L794.0 770.2L796.0 764.4L798.0 758.5L800.0 752.6L802.0 746.7L804.0 741.4L806.0 736.0L808.0 730.5L810.0 725.2L812.0 719.9L814.0 714.4L816.0 708.3L818.0 702.5L820.0 696.8L822.0 691.1L824.0 685.6L826.0 680.1L828.0 674.7L830.0 669.5L832.0 663.8L834.0 658.3L836.0 653.1L838.0 648.4L840.0 643.8L842.0 639.5L844.0 635.6L846.0 631.7L848.0 628.1L850.0 624.6L852.0 621.2L854.0 618.4L856.0 615.9L858.0 613.3L860.0 610.2L862.0 607.1L864.0 603.7L866.0 599.6L868.0 595.5L870.0 591.7L872.0 588.1L874.0 584.6L876.0 581.8L878.0 579.2L880.0 576.7L882.0 574.5L884.0 572.3L886.0 570.1L888.0 567.4L890.0 564.8L892.0 562.0L894.0 558.9L896.0 555.8L898.0 552.5L900.0 549.1L902.0 545.6L904.0 542.0L906.0 538.3L908.0 534.6L910.0 531.0L912.0 527.3L914.0 523.6L916.0 519.9L918.0 516.3L920.0 512.6L922.0 509.0L924.0 505.3L926.0 501.5L928.0 497.5L930.0 493.4L932.0 489.1L934.0 484.6L936.0 480.1L938.0 476.2L940.0 472.4L942.0 468.8L944.0 465.7L946.0 463.0L948.0 460.7L950.0 458.9L952.0 457.7L954.0 456.4L956.0 455.0L958.0 453.7L960.0 452.7L962.0 451.8L964.0 451.1L966.0 450.8L968.0 450.7L970.0 450.8L972.0 451.3L974.0 452.0L976.0 452.9L978.0 453.9L980.0 455.1L982.0 456.8L984.0 458.7L986.0 460.6L988.0 462.7L990.0 464.9L992.0 467.2L994.0 469.3L996.0 471.6L998.0 473.9L1000.0 476.1L1002.0 478.6L1004.0 481.3L1006.0 484.9L1008.0 489.3L1010.0 494.7L1012.0 500.4L1014.0 505.9L1016.0 511.4L1018.0 517.2L1020.0 523.1L1022.0 528.9L1024.0 534.7L1026.0 540.5L1028.0 546.2L1030.0 551.5L1032.0 556.4L1034.0 560.9L1036.0 565.1L1038.0 569.6L1040.0 574.4L1042.0 579.6L1044.0 585.7L1046.0 593.0L1048.0 600.6L1050.0 607.7L1052.0 613.6L1054.0 618.2L1056.0 622.1L1058.0 625.9L1060.0 630.2L1062.0 636.0L1064.0 643.8L1066.0 653.0L1068.0 662.8L1070.0 672.3L1072.0 681.0L1074.0 688.0L1076.0 694.0L1078.0 699.4L1080.0 704.4L1082.0 708.9L1084.0 713.2L1086.0 717.4L1088.0 721.8L1090.0 726.3L1092.0 731.3L1094.0 737.2L1096.0 743.1L1098.0 749.1L1100.0 755.1L1102.0 761.2L1104.0 767.0L1106.0 772.6L1108.0 778.4L1110.0 784.4L1112.0 791.2L1114.0 798.5L1116.0 806.2L1118.0 813.3L1120.0 819.4L1122.0 825.0L1124.0 830.1L1126.0 834.7L1128.0 839.0L1130.0 843.3L1132.0 847.0L1134.0 850.3L1136.0 853.5L1138.0 856.7L1140.0 859.8L1142.0 863.1L1144.0 866.8L1146.0 870.5L1148.0 874.4L1150.0 878.8L1152.0 883.4L1154.0 888.1L1156.0 893.2L1158.0 898.6L1160.0 904.1L1162.0 909.6L1164.0 915.1L1166.0 919.6L1168.0 923.5L1170.0 927.3L1172.0 930.9L1174.0 934.4L1176.0 937.9L1178.0 941.7L1180.0 945.1L1182.0 948.2L1184.0 951.2L1186.0 954.2L1188.0 956.7L1190.0 959.4L1192.0 962.3L1194.0 965.8L1196.0 969.3L1198.0 973.0L1200.0 976.6L1202.0 980.2L1204.0 983.5L1206.0 986.4L1208.0 989.2L1210.0 992.2L1212.0 995.1L1214.0 998.0L1216.0 1001.4L1218.0 1004.8L1220.0 1008.1L1222.0 1011.0L1224.0 1013.8L1226.0 1016.6L1228.0 1019.3L1230.0 1022.0L1232.0 1024.7L1234.0 1027.2L1236.0 1029.8L1238.0 1032.2L1240.0 1034.3L1242.0 1036.2L1244.0 1037.5L1246.0 1038.1L1248.0 1038.5L1250.0 1038.8L1252.0 1039.1L1254.0 1039.3L1256.0 1039.8L1258.0 1040.4L1260.0 1041.3L1262.0 1042.5L1264.0 1044.2L1266.0 1046.7L1268.0 1049.6L1270.0 1052.8L1272.0 1055.7L1274.0 1058.7L1276.0 1061.4L1278.0 1063.2L1280.0 1064.9L1282.0 1066.3L1284.0 1067.9L1286.0 1069.4L1288.0 1071.6L1290.0 1074.0L1292.0 1076.4L1294.0 1079.3L1296.0 1082.3L1298.0 1085.3L1300.0 1088.1L1302.0 1090.9L1304.0 1093.5L1306.0 1095.7L1308.0 1097.7L1310.0 1099.6L1312.0 1101.2L1314.0 1102.8L1316.0 1104.3L1318.0 1105.8L1320.0 1107.3L1322.0 1109.0L1324.0 1110.7L1326.0 1112.5L1328.0 1114.5L1330.0 1116.5L1332.0 1118.4L1334.0 1120.3L1336.0 1122.1L1338.0 1123.9L1340.0 1125.5L1342.0 1127.2L1344.0 1128.3L1346.0 1129.4L1348.0 1130.4L1350.0 1131.6L1352.0 1132.8L1354.0 1134.4L1356.0 1136.8L1358.0 1139.2L1360.0 1141.8L1362.0 1144.4L1364.0 1147.0L1366.0 1149.1L1368.0 1151.0L1370.0 1152.9L1372.0 1154.4L1374.0 1155.9L1376.0 1157.2L1378.0 1158.5L1380.0 1159.7L1382.0 1160.7L1384.0 1161.4L1386.0 1162.0L1388.0 1162.5L1390.0 1162.9L1392.0 1163.3L1394.0 1164.1L1396.0 1165.0L1398.0 1166.0L1400.0 1167.5L1402.0 1169.0L1404.0 1170.6L1406.0 1172.1L1408.0 1173.6L1410.0 1175.2L1412.0 1176.9L1414.0 1178.5L1416.0 1180.5L1418.0 1182.8L1420.0 1184.9L1422.0 1187.0L1424.0 1188.9L1426.0 1190.6L1428.0 1192.0L1430.0 1193.3L1432.0 1194.6L1434.0 1196.2L1436.0 1197.9L1438.0 1199.1L1440.0 1199.9L1442.0 1200.8L1444.0 1201.0L1446.0 1201.0L1448.0 1201.1L1450.0 1202.5L1452.0 1204.1L1454.0 1205.9L1456.0 1208.2L1458.0 1210.6L1460.0 1212.6L1462.0 1213.8L1464.0 1215.1L1466.0 1216.3L1468.0 1217.5L1470.0 1218.6L1472.0 1220.1L1474.0 1221.6L1476.0 1223.1L1478.0 1224.2L1480.0 1225.3L1482.0 1226.3L1484.0 1227.2L1486.0 1228.0L1488.0 1229.1L1490.0 1230.4L1492.0 1231.7L1494.0 1233.1L1496.0 1234.4L1498.0 1235.7L1500.0 1236.7L1502.0 1237.6L1504.0 1238.5L1506.0 1239.3L1508.0 1240.1L1510.0 1240.9L1512.0 1241.6L1514.0 1242.3L1516.0 1242.9L1518.0 1243.4L1520.0 1244.0L1522.0 1245.1L1524.0 1246.5L1526.0 1247.8L1528.0 1249.9L1530.0 1251.9L1532.0 1253.8L1534.0 1254.7L1536.0 1255.5L1538.0 1256.0L1540.0 1255.8L1542.0 1255.5L1544.0 1255.9L1546.0 1256.8L1548.0 1257.7L1550.0 1259.5L1552.0 1261.6L1554.0 1263.7L1556.0 1265.0L1558.0 1266.3L1560.0 1267.5L1562.0 1268.4L1564.0 1269.4L1566.0 1270.4L1568.0 1271.4L1570.0 1272.4L1572.0 1273.2L1574.0 1273.9L1576.0 1274.5L1578.0 1275.5L1580.0 1276.5L1582.0 1277.6L1584.0 1278.8L1586.0 1280.1L1588.0 1281.2L1590.0 1282.1L1592.0 1283.0L1594.0 1284.0L1596.0 1285.1L1598.0 1286.1L1600.0 1287.3L1602.0 1288.6L1604.0 1289.8L1606.0 1290.5L1608.0 1291.1L1610.0 1291.8L1612.0 1292.8L1614.0 1293.8L1616.0 1294.8L1618.0 1295.9L1620.0 1297.0L1622.0 1297.6L1624.0 1297.9L1626.0 1298.2L1628.0 1298.8L1630.0 1299.6L1632.0 1300.3L1634.0 1301.7L1636.0 1303.1L1638.0 1304.5L1640.0 1305.4L1642.0 1306.3L1644.0 1306.7L1646.0 1306.4L1648.0 1306.1L1650.0 1305.7L1652.0 1305.3L1654.0 1304.9L1656.0 1305.4L1658.0 1306.0L1660.0 1306.6L1662.0 1307.9L1664.0 1309.2L1666.0 1310.4L1668.0 1311.3L1670.0 1312.2L1672.0 1312.7L1674.0 1313.0L1676.0 1313.2L1678.0 1313.7L1680.0 1314.3L1682.0 1314.9L1684.0 1315.8L1686.0 1316.7L1688.0 1317.6L1690.0 1318.3L1692.0 1319.1L1694.0 1319.6L1696.0 1319.6L1698.0 1319.5L1700.0 1319.2L1702.0 1318.6L1704.0 1318.1L1706.0 1318.2L1708.0 1318.5L1710.0 1318.8L1712.0 1319.9L1714.0 1321.0L1716.0 1321.9L1718.0 1322.7L1720.0 1323.5L1722.0 1324.0L1724.0 1324.3L1726.0 1324.7L1728.0 1325.0L1730.0 1325.5L1732.0 1325.9L1734.0 1326.2L1736.0 1326.5L1738.0 1326.8L1740.0 1326.5L1742.0 1326.2L1744.0 1326.0L1746.0 1326.4L1748.0 1326.7L1750.0 1327.5L1752.0 1328.8L1754.0 1330.0L1756.0 1330.4L1758.0 1330.5L1760.0 1330.6L1762.0 1330.0L1764.0 1329.4L1766.0 1329.0L1768.0 1329.4L1770.0 1329.8L1772.0 1330.6L1774.0 1331.8L1776.0 1333.0L1778.0 1333.8L1780.0 1334.3L1782.0 1334.7L1784.0 1334.4L1786.0 1333.9L1788.0 1333.5L1790.0 1333.6L1792.0 1333.7L1794.0 1333.9L1796.0 1334.5L1798.0 1335.0L1800.0 1335.4L1802.0 1335.7L1804.0 1335.9L1806.0 1336.5L1808.0 1337.1L1810.0 1337.8L1812.0 1338.6L1814.0 1339.4L1816.0 1340.2L1818.0 1340.3L1820.0 1340.4L1822.0 1340.4L1824.0 1340.5L1826.0 1340.5L1828.0 1340.5L1830.0 1340.4L1832.0 1340.3L1834.0 1340.0L1836.0 1339.5L1838.0 1339.1L1840.0 1339.5L1842.0 1339.9L1844.0 1340.3L1846.0 1341.1L1848.0 1341.8L1850.0 1342.3L1852.0 1342.5L1854.0 1342.6L1856.0 1342.5L1858.0 1342.4L1860.0 1342.2L1862.0 1342.5L1864.0 1343.0L1866.0 1343.5L1868.0 1344.0L1870.0 1344.6L1872.0 1344.9L1874.0 1344.5L1876.0 1344.1L1878.0 1343.8L1880.0 1343.7L1882.0 1343.5L1884.0 1344.0L1886.0 1344.7L1888.0 1345.4L1890.0 1346.4L1892.0 1347.4L1894.0 1348.2L1896.0 1348.2L1898.0 1348.2L1900.0 1348.0L1902.0 1347.5L1904.0 1347.0L1906.0 1347.2L1908.0 1347.8L1910.0 1348.4L1912.0 1348.8L1914.0 1349.0L1916.0 1349.2L1918.0 1348.6L1920.0 1348.1L1922.0 1347.8L1924.0 1348.8L1926.0 1349.8L1928.0 1350.8L1930.0 1351.9L1932.0 1353.0L1934.0 1352.9L1936.0 1352.2L1938.0 1351.4L1940.0 1351.3L1942.0 1351.3L1944.0 1351.3L1946.0 1352.1L1948.0 1352.8L1950.0 1353.5L1952.0 1353.7L1954.0 1354.0L1956.0 1354.2L1958.0 1354.4L1960.0 1354.5L1962.0 1354.3L1964.0 1353.8L1966.0 1353.4L1968.0 1353.2L1970.0 1353.0L1972.0 1352.9L1974.0 1353.3L1976.0 1353.6L1978.0 1353.8L1980.0 1353.7L1982.0 1353.5L1984.0 1353.9L1986.0 1354.6L1988.0 1355.3L1990.0 1356.5L1992.0 1357.7L1994.0 1359.0L1996.0 1358.6L1998.0 1358.2L2000.0 1357.7L2002.0 1356.9L2004.0 1356.2L2006.0 1355.9L2008.0 1356.3L2010.0 1356.6L2012.0 1356.7L2014.0 1356.7L2016.0 1356.6L2018.0 1356.4L2020.0 1356.2L2022.0 1356.1L2024.0 1357.3L2026.0 1358.5L2028.0 1359.6L2030.0 1360.6L2032.0 1361.6L2034.0 1362.2L2036.0 1362.4L2038.0 1362.7L2040.0 1362.8L2042.0 1362.8L2044.0 1362.8L2046.0 1362.4L2048.0 1362.0L2050.0 1361.6L2052.0 1362.0L2054.0 1362.3L2056.0 1362.6L2058.0 1362.7L2060.0 1362.8L2062.0 1362.5L2064.0 1361.8L2066.0 1361.2L2068.0 1360.8L2070.0 1360.5L2072.0 1360.2L2074.0 1360.5L2076.0 1360.7L2078.0 1361.1L2080.0 1362.2L2082.0 1363.3L2084.0 1364.1L2086.0 1364.5L2088.0 1365.0L2090.0 1364.6L2092.0 1363.6L2094.0 1362.7L2096.0 1362.5L2098.0 1362.4L2100.0 1362.4L2102.0 1363.8L2104.0 1365.1L2106.0 1366.1L2108.0 1366.3L2110.0 1366.6L2112.0 1366.5L2114.0 1366.0L2116.0 1365.6L2118.0 1365.8" stroke="#CC9900" stroke-width="13.5"/>
<path d="M455.0 1382.0L455.0 1382.0L455.0 1382.0L455.0 1382.0L456.0 1382.0L458.0 1382.0L460.0 1382.0L462.0 1381.9L464.0 1381.9L466.0 1381.9L468.0 1381.8L470.0 1381.8L472.0 1381.7L474.0 1381.7L476.0 1381.6L478.0 1381.6L480.0 1381.5L482.0 1381.4L484.0 1381.3L486.0 1381.2L488.0 1381.1L490.0 1381.0L492.0 1380.9L494.0 1380.8L496.0 1380.7L498.0 1380.6L500.0 1380.5L502.0 1380.4L504.0 1380.3L506.0 1380.1L508.0 1379.9L510.0 1379.7L512.0 1379.5L514.0 1379.2L516.0 1378.9L518.0 1378.7L520.0 1378.4L522.0 1378.1L524.0 1377.8L526.0 1377.5L528.0 1377.2L530.0 1376.9L532.0 1376.6L534.0 1376.2L536.0 1375.8L538.0 1375.4L540.0 1375.0L542.0 1374.5L544.0 1374.1L546.0 1373.6L548.0 1373.1L550.0 1372.6L552.0 1372.1L554.0 1371.5L556.0 1371.0L558.0 1370.4L560.0 1369.7L562.0 1369.1L564.0 1368.4L566.0 1367.6L568.0 1366.9L570.0 1366.0L572.0 1365.2L574.0 1364.3L576.0 1363.4L578.0 1362.4L580.0 1361.5L582.0 1360.4L584.0 1359.3L586.0 1358.0L588.0 1356.7L590.0 1355.3L592.0 1353.8L594.0 1352.2L596.0 1350.6L598.0 1348.9L600.0 1347.2L602.0 1345.4L604.0 1343.8L606.0 1342.1L608.0 1340.4L610.0 1338.8L612.0 1337.0L614.0 1335.1L616.0 1333.1L618.0 1330.9L620.0 1328.6L622.0 1326.2L624.0 1323.6L626.0 1320.7L628.0 1317.6L630.0 1314.4L632.0 1311.1L634.0 1307.6L636.0 1304.2L638.0 1300.9L640.0 1297.5L642.0 1293.8L644.0 1290.0L646.0 1286.1L648.0 1281.7L650.0 1277.2L652.0 1272.5L654.0 1267.9L656.0 1263.1L658.0 1258.3L660.0 1253.2L662.0 1247.9L664.0 1242.2L666.0 1236.3L668.0 1230.3L670.0 1223.9L672.0 1217.5L674.0 1210.9L676.0 1204.0L678.0 1196.9L680.0 1189.8L682.0 1182.7L684.0 1175.3L686.0 1167.8L688.0 1160.1L690.0 1152.2L692.0 1144.0L694.0 1135.6L696.0 1126.9L698.0 1117.8L700.0 1108.6L702.0 1099.3L704.0 1089.9L706.0 1080.5L708.0 1070.9L710.0 1061.2L712.0 1051.5L714.0 1042.1L716.0 1032.8L718.0 1023.2L720.0 1013.3L722.0 1003.1L724.0 992.4L726.0 981.1L728.0 969.3L730.0 957.0L732.0 945.0L734.0 934.1L736.0 923.9L738.0 914.1L740.0 904.3L742.0 894.2L744.0 884.0L746.0 873.8L748.0 864.0L750.0 854.5L752.0 845.2L754.0 835.7L756.0 826.4L758.0 817.1L760.0 807.7L762.0 798.4L764.0 789.5L766.0 781.2L768.0 773.5L770.0 766.3L772.0 759.5L774.0 752.9L776.0 746.1L778.0 739.1L780.0 732.1L782.0 724.6L784.0 717.2L786.0 710.2L788.0 703.8L790.0 697.8L792.0 692.4L794.0 687.4L796.0 682.6L798.0 678.1L800.0 673.7L802.0 669.3L804.0 665.0L806.0 660.7L808.0 656.1L810.0 651.2L812.0 646.6L814.0 642.5L816.0 638.7L818.0 635.1L820.0 632.0L822.0 629.2L824.0 626.5L826.0 624.4L828.0 622.5L830.0 620.7L832.0 618.6L834.0 616.4L836.0 614.1L838.0 611.6L840.0 609.4L842.0 607.7L844.0 606.6L846.0 605.9L848.0 605.4L850.0 604.8L852.0 604.3L854.0 603.6L856.0 602.9L858.0 602.2L860.0 601.9L862.0 601.7L864.0 601.6L866.0 601.6L868.0 601.8L870.0 601.8L872.0 602.0L874.0 602.2L876.0 602.2L878.0 602.2L880.0 602.3L882.0 602.2L884.0 602.1L886.0 602.1L888.0 602.7L890.0 603.3L892.0 604.2L894.0 605.4L896.0 606.7L898.0 607.4L900.0 608.0L902.0 608.5L904.0 608.4L906.0 608.2L908.0 607.9L910.0 607.8L912.0 607.6L914.0 607.4L916.0 607.0L918.0 606.5L920.0 606.0L922.0 605.4L924.0 604.7L926.0 604.5L928.0 604.6L930.0 604.9L932.0 605.3L934.0 606.1L936.0 607.0L938.0 607.8L940.0 608.7L942.0 609.7L944.0 610.8L946.0 612.0L948.0 613.5L950.0 615.2L952.0 616.9L954.0 618.3L956.0 619.5L958.0 620.9L960.0 622.2L962.0 623.6L964.0 625.1L966.0 627.1L968.0 629.2L970.0 631.2L972.0 633.1L974.0 635.0L976.0 636.7L978.0 638.4L980.0 640.0L982.0 641.7L984.0 643.3L986.0 645.0L988.0 647.1L990.0 649.2L992.0 651.6L994.0 654.5L996.0 657.5L998.0 660.5L1000.0 663.6L1002.0 667.0L1004.0 670.5L1006.0 674.0L1008.0 677.5L1010.0 681.3L1012.0 684.8L1014.0 688.0L1016.0 690.8L1018.0 693.3L1020.0 695.9L1022.0 698.4L1024.0 701.1L1026.0 704.1L1028.0 707.4L1030.0 711.1L1032.0 715.2L1034.0 720.0L1036.0 725.3L1038.0 730.3L1040.0 735.4L1042.0 740.3L1044.0 745.2L1046.0 750.0L1048.0 755.1L1050.0 760.7L1052.0 766.3L1054.0 771.6L1056.0 776.8L1058.0 781.9L1060.0 787.0L1062.0 792.3L1064.0 797.7L1066.0 803.5L1068.0 809.2L1070.0 814.4L1072.0 818.7L1074.0 822.4L1076.0 825.4L1078.0 827.7L1080.0 829.8L1082.0 832.1L1084.0 834.5L1086.0 837.0L1088.0 840.2L1090.0 843.7L1092.0 847.6L1094.0 852.1L1096.0 856.8L1098.0 861.5L1100.0 865.8L1102.0 870.1L1104.0 873.8L1106.0 877.0L1108.0 880.1L1110.0 883.1L1112.0 886.0L1114.0 889.0L1116.0 892.6L1118.0 896.4L1120.0 900.5L1122.0 905.3L1124.0 910.3L1126.0 915.4L1128.0 920.5L1130.0 925.6L1132.0 930.5L1134.0 935.2L1136.0 939.5L1138.0 943.0L1140.0 946.4L1142.0 949.6L1144.0 952.6L1146.0 955.5L1148.0 958.8L1150.0 962.6L1152.0 966.6L1154.0 970.6L1156.0 974.5L1158.0 978.4L1160.0 981.8L1162.0 984.9L1164.0 988.0L1166.0 991.2L1168.0 994.4L1170.0 997.6L1172.0 1000.8L1174.0 1003.9L1176.0 1007.0L1178.0 1010.1L1180.0 1013.1L1182.0 1016.1L1184.0 1019.1L1186.0 1022.1L1188.0 1024.7L1190.0 1027.2L1192.0 1029.6L1194.0 1032.1L1196.0 1034.5L1198.0 1036.9L1200.0 1039.6L1202.0 1042.4L1204.0 1045.2L1206.0 1048.1L1208.0 1051.1L1210.0 1053.9L1212.0 1056.7L1214.0 1059.6L1216.0 1061.9L1218.0 1064.1L1220.0 1066.4L1222.0 1068.6L1224.0 1070.7L1226.0 1073.0L1228.0 1075.9L1230.0 1078.7L1232.0 1081.5L1234.0 1084.2L1236.0 1086.9L1238.0 1089.4L1240.0 1091.7L1242.0 1094.0L1244.0 1096.7L1246.0 1099.4L1248.0 1102.0L1250.0 1103.9L1252.0 1105.7L1254.0 1107.2L1256.0 1108.2L1258.0 1109.1L1260.0 1110.4L1262.0 1112.1L1264.0 1113.7L1266.0 1115.4L1268.0 1117.2L1270.0 1118.8L1272.0 1120.1L1274.0 1121.4L1276.0 1122.8L1278.0 1124.5L1280.0 1126.3L1282.0 1128.2L1284.0 1130.2L1286.0 1132.6L1288.0 1135.2L1290.0 1137.9L1292.0 1140.4L1294.0 1142.6L1296.0 1144.4L1298.0 1146.1L1300.0 1147.4L1302.0 1148.5L1304.0 1149.6L1306.0 1150.8L1308.0 1152.0L1310.0 1153.8L1312.0 1156.0L1314.0 1158.2L1316.0 1160.3L1318.0 1162.3L1320.0 1164.3L1322.0 1165.4L1324.0 1166.5L1326.0 1167.6L1328.0 1168.9L1330.0 1170.3L1332.0 1171.9L1334.0 1173.7L1336.0 1175.6L1338.0 1177.2L1340.0 1178.8L1342.0 1180.3L1344.0 1181.8L1346.0 1183.2L1348.0 1184.7L1350.0 1186.7L1352.0 1188.6L1354.0 1190.7L1356.0 1193.0L1358.0 1195.3L1360.0 1197.2L1362.0 1198.7L1364.0 1200.2L1366.0 1201.4L1368.0 1202.4L1370.0 1203.4L1372.0 1204.3L1374.0 1205.2L1376.0 1206.2L1378.0 1207.4L1380.0 1208.7L1382.0 1209.9L1384.0 1211.0L1386.0 1212.0L1388.0 1212.7L1390.0 1213.0L1392.0 1213.4L1394.0 1214.0L1396.0 1214.6L1398.0 1215.3L1400.0 1216.1L1402.0 1216.9L1404.0 1217.7L1406.0 1218.8L1408.0 1219.8L1410.0 1221.1L1412.0 1222.6L1414.0 1224.1L1416.0 1225.4L1418.0 1226.6L1420.0 1227.8L1422.0 1228.7L1424.0 1229.6L1426.0 1230.5L1428.0 1231.7L1430.0 1232.9L1432.0 1234.3L1434.0 1236.1L1436.0 1238.0L1438.0 1239.9L1440.0 1241.8L1442.0 1243.8L1444.0 1245.1L1446.0 1246.3L1448.0 1247.4L1450.0 1247.8L1452.0 1248.1L1454.0 1248.4L1456.0 1248.5L1458.0 1248.6L1460.0 1248.8L1462.0 1249.2L1464.0 1249.6L1466.0 1250.4L1468.0 1251.6L1470.0 1252.7L1472.0 1254.1L1474.0 1255.6L1476.0 1257.1L1478.0 1259.0L1480.0 1260.8L1482.0 1262.6L1484.0 1264.5L1486.0 1266.4L1488.0 1267.5L1490.0 1267.8L1492.0 1268.0L1494.0 1267.8L1496.0 1267.4L1498.0 1267.0L1500.0 1267.8L1502.0 1268.8L1504.0 1269.8L1506.0 1271.1L1508.0 1272.4L1510.0 1273.6L1512.0 1274.6L1514.0 1275.6L1516.0 1276.9L1518.0 1278.5L1520.0 1280.1L1522.0 1281.3L1524.0 1282.2L1526.0 1283.1L1528.0 1283.4L1530.0 1283.5L1532.0 1283.8L1534.0 1284.4L1536.0 1285.1L1538.0 1286.0L1540.0 1287.4L1542.0 1288.7L1544.0 1290.3L1546.0 1292.2L1548.0 1294.0L1550.0 1295.2L1552.0 1296.3L1554.0 1297.3L1556.0 1297.9L1558.0 1298.5L1560.0 1299.0L1562.0 1299.2L1564.0 1299.4L1566.0 1299.5L1568.0 1299.4L1570.0 1299.4L1572.0 1299.8L1574.0 1300.4L1576.0 1301.1L1578.0 1301.9L1580.0 1302.8L1582.0 1303.6L1584.0 1305.0L1586.0 1306.3L1588.0 1307.6L1590.0 1308.8L1592.0 1310.0L1594.0 1310.7L1596.0 1310.9L1598.0 1311.0L1600.0 1311.3L1602.0 1311.7L1604.0 1312.1L1606.0 1312.3L1608.0 1312.5L1610.0 1312.7L1612.0 1312.7L1614.0 1312.8L1616.0 1313.0L1618.0 1313.8L1620.0 1314.5L1622.0 1315.3L1624.0 1316.0L1626.0 1316.8L1628.0 1316.9L1630.0 1316.8L1632.0 1316.7L1634.0 1316.9L1636.0 1317.1L1638.0 1317.4L1640.0 1318.0L1642.0 1318.6L1644.0 1319.2L1646.0 1319.7L1648.0 1320.2L1650.0 1320.8L1652.0 1321.3L1654.0 1321.9L1656.0 1322.0L1658.0 1322.0L1660.0 1322.0L1662.0 1322.1L1664.0 1322.1L1666.0 1322.4L1668.0 1323.2L1670.0 1324.0L1672.0 1324.7L1674.0 1325.3L1676.0 1325.8L1678.0 1326.3L1680.0 1326.7L1682.0 1327.1L1684.0 1327.6L1686.0 1328.2L1688.0 1328.6L1690.0 1328.7L1692.0 1328.8L1694.0 1329.0L1696.0 1329.5L1698.0 1329.9L1700.0 1330.6L1702.0 1331.4L1704.0 1332.2L1706.0 1332.6L1708.0 1332.9L1710.0 1333.1L1712.0 1333.3L1714.0 1333.4L1716.0 1333.6L1718.0 1334.4L1720.0 1335.2L1722.0 1336.0L1724.0 1336.8L1726.0 1337.6L1728.0 1337.9L1730.0 1338.0L1732.0 1338.1L1734.0 1338.5L1736.0 1339.0L1738.0 1339.5L1740.0 1339.9L1742.0 1340.4L1744.0 1340.9L1746.0 1341.7L1748.0 1342.5L1750.0 1343.5L1752.0 1344.5L1754.0 1345.5L1756.0 1345.6L1758.0 1345.3L1760.0 1345.0L1762.0 1345.0L1764.0 1345.1L1766.0 1345.2L1768.0 1345.8L1770.0 1346.4L1772.0 1346.7L1774.0 1346.6L1776.0 1346.6L1778.0 1346.9L1780.0 1347.4L1782.0 1347.9L1784.0 1348.9L1786.0 1349.9L1788.0 1350.9L1790.0 1350.9L1792.0 1350.8L1794.0 1350.7L1796.0 1350.4L1798.0 1350.2L1800.0 1350.0L1802.0 1350.0L1804.0 1350.0L1806.0 1349.7L1808.0 1349.2L1810.0 1348.8L1812.0 1349.1L1814.0 1349.6L1816.0 1350.1L1818.0 1351.1L1820.0 1352.2L1822.0 1352.8L1824.0 1352.8L1826.0 1352.7L1828.0 1352.5L1830.0 1352.1L1832.0 1351.8L1834.0 1352.0L1836.0 1352.5L1838.0 1353.0L1840.0 1353.7L1842.0 1354.5L1844.0 1355.3L1846.0 1356.0L1848.0 1356.7L1850.0 1357.0L1852.0 1356.5L1854.0 1356.0L1856.0 1355.2L1858.0 1354.2L1860.0 1353.2L1862.0 1353.4L1864.0 1353.9L1866.0 1354.4L1868.0 1354.9L1870.0 1355.5L1872.0 1355.9L1874.0 1355.7L1876.0 1355.6L1878.0 1355.7L1880.0 1356.0L1882.0 1356.3L1884.0 1356.5L1886.0 1356.5L1888.0 1356.6L1890.0 1356.5L1892.0 1356.4L1894.0 1356.3L1896.0 1356.6L1898.0 1357.0L1900.0 1357.3L1902.0 1357.6L1904.0 1357.9L1906.0 1358.1L1908.0 1358.3L1910.0 1358.5L1912.0 1358.4L1914.0 1358.3L1916.0 1358.1L1918.0 1358.7L1920.0 1359.2L1922.0 1359.8L1924.0 1360.4L1926.0 1361.1L1928.0 1361.4L1930.0 1361.3L1932.0 1361.3L1934.0 1361.2L1936.0 1361.1L1938.0 1361.0L1940.0 1360.6L1942.0 1360.1L1944.0 1359.7L1946.0 1359.3L1948.0 1359.0L1950.0 1358.7L1952.0 1358.5L1954.0 1358.3L1956.0 1358.2L1958.0 1358.2L1960.0 1358.3L1962.0 1358.9L1964.0 1359.7L1966.0 1360.5L1968.0 1361.0L1970.0 1361.3L1972.0 1361.6L1974.0 1360.8L1976.0 1360.0L1978.0 1359.4L1980.0 1359.0L1982.0 1358.6L1984.0 1358.7L1986.0 1359.1L1988.0 1359.5L1990.0 1359.7L1992.0 1359.7L1994.0 1359.8L1996.0 1359.4L1998.0 1359.0L2000.0 1358.7L2002.0 1358.8L2004.0 1358.9L2006.0 1359.3L2008.0 1360.0L2010.0 1360.6L2012.0 1360.9L2014.0 1360.8L2016.0 1360.8L2018.0 1361.5L2020.0 1362.2L2022.0 1363.0L2024.0 1364.0L2026.0 1365.0L2028.0 1365.6L2030.0 1364.9L2032.0 1364.3L2034.0 1363.6L2036.0 1362.9L2038.0 1362.2L2040.0 1361.9L2042.0 1361.9L2044.0 1361.9L2046.0 1361.8L2048.0 1361.8L2050.0 1361.8L2052.0 1361.9L2054.0 1362.1L2056.0 1362.2L2058.0 1362.2L2060.0 1362.1L2062.0 1361.9L2064.0 1361.7L2066.0 1361.4L2068.0 1361.7L2070.0 1362.3L2072.0 1362.8L2074.0 1363.3L2076.0 1363.7L2078.0 1364.0L2080.0 1364.0L2082.0 1363.9L2084.0 1364.4L2086.0 1365.7L2088.0 1366.9L2090.0 1367.9L2092.0 1368.8L2094.0 1369.7L2096.0 1369.6L2098.0 1369.3L2100.0 1369.0L2102.0 1368.9L2104.0 1368.7L2106.0 1368.3L2108.0 1367.4L2110.0 1366.5L2112.0 1365.9L2114.0 1365.6L2116.0 1365.3L2118.0 1365.7" stroke="#00CCCC" stroke-width="13.5"/>
<path d="M455.0 1381.0L455.0 1381.0L455.0 1381.0L455.0 1381.0L456.0 1381.0L458.0 1381.0L460.0 1381.0L462.0 1380.9L464.0 1380.9L466.0 1380.9L468.0 1380.8L470.0 1380.8L472.0 1380.7L474.0 1380.7L476.0 1380.6L478.0 1380.5L480.0 1380.5L482.0 1380.4L484.0 1380.3L486.0 1380.2L488.0 1380.1L490.0 1380.0L492.0 1379.9L494.0 1379.8L496.0 1379.7L498.0 1379.6L500.0 1379.5L502.0 1379.4L504.0 1379.2L506.0 1379.0L508.0 1378.9L510.0 1378.7L512.0 1378.5L514.0 1378.3L516.0 1378.0L518.0 1377.8L520.0 1377.5L522.0 1377.2L524.0 1376.9L526.0 1376.6L528.0 1376.2L530.0 1375.9L532.0 1375.5L534.0 1375.1L536.0 1374.7L538.0 1374.3L540.0 1373.9L542.0 1373.5L544.0 1373.1L546.0 1372.6L548.0 1372.1L550.0 1371.5L552.0 1370.9L554.0 1370.1L556.0 1369.4L558.0 1368.6L560.0 1367.8L562.0 1367.0L564.0 1366.2L566.0 1365.4L568.0 1364.6L570.0 1363.7L572.0 1362.9L574.0 1362.0L576.0 1361.1L578.0 1360.3L580.0 1359.4L582.0 1358.6L584.0 1357.7L586.0 1356.9L588.0 1356.1L590.0 1355.2L592.0 1354.3L594.0 1353.3L596.0 1352.3L598.0 1351.2L600.0 1350.0L602.0 1348.7L604.0 1347.3L606.0 1345.7L608.0 1344.1L610.0 1342.4L612.0 1340.6L614.0 1338.8L616.0 1337.0L618.0 1335.1L620.0 1333.1L622.0 1331.0L624.0 1328.9L626.0 1326.5L628.0 1324.0L630.0 1321.4L632.0 1318.7L634.0 1315.9L636.0 1313.0L638.0 1310.1L640.0 1307.0L642.0 1304.0L644.0 1300.9L646.0 1297.7L648.0 1294.4L650.0 1291.0L652.0 1287.4L654.0 1283.6L656.0 1279.6L658.0 1275.5L660.0 1271.1L662.0 1266.7L664.0 1262.2L666.0 1257.8L668.0 1253.3L670.0 1248.8L672.0 1244.4L674.0 1239.8L676.0 1235.3L678.0 1230.7L680.0 1225.9L682.0 1220.8L684.0 1215.4L686.0 1209.1L688.0 1202.2L690.0 1195.0L692.0 1187.8L694.0 1180.6L696.0 1173.4L698.0 1166.6L700.0 1159.7L702.0 1152.8L704.0 1145.4L706.0 1138.0L708.0 1130.5L710.0 1122.9L712.0 1115.3L714.0 1107.6L716.0 1099.7L718.0 1091.5L720.0 1082.8L722.0 1073.9L724.0 1064.9L726.0 1056.0L728.0 1047.1L730.0 1038.1L732.0 1029.1L734.0 1020.3L736.0 1012.1L738.0 1004.2L740.0 996.4L742.0 988.9L744.0 981.3L746.0 973.7L748.0 966.0L750.0 958.1L752.0 950.2L754.0 942.3L756.0 934.0L758.0 925.3L760.0 916.5L762.0 908.1L764.0 900.3L766.0 893.2L768.0 886.6L770.0 880.2L772.0 873.9L774.0 867.5L776.0 860.7L778.0 853.3L780.0 845.4L782.0 837.5L784.0 830.1L786.0 823.5L788.0 818.2L790.0 813.5L792.0 809.0L794.0 804.7L796.0 800.6L798.0 796.6L800.0 792.6L802.0 788.6L804.0 784.6L806.0 780.6L808.0 776.3L810.0 771.9L812.0 767.4L814.0 763.3L816.0 759.6L818.0 756.4L820.0 754.1L822.0 752.2L824.0 750.3L826.0 748.4L828.0 746.8L830.0 745.4L832.0 744.5L834.0 744.1L836.0 744.3L838.0 745.1L840.0 746.0L842.0 746.9L844.0 747.5L846.0 748.1L848.0 748.1L850.0 747.7L852.0 747.4L854.0 747.7L856.0 748.2L858.0 748.8L860.0 749.9L862.0 751.1L864.0 752.1L866.0 752.9L868.0 754.0L870.0 755.2L872.0 756.5L874.0 757.9L876.0 759.4L878.0 760.9L880.0 762.5L882.0 764.3L884.0 766.1L886.0 767.8L888.0 769.3L890.0 770.6L892.0 771.6L894.0 772.4L896.0 773.3L898.0 774.3L900.0 775.5L902.0 777.1L904.0 779.5L906.0 782.4L908.0 785.4L910.0 788.7L912.0 791.8L914.0 794.3L916.0 795.7L918.0 797.0L920.0 797.9L922.0 798.2L924.0 798.8L926.0 800.3L928.0 802.4L930.0 804.8L932.0 808.2L934.0 811.4L936.0 814.2L938.0 816.1L940.0 817.8L942.0 819.1L944.0 820.0L946.0 820.8L948.0 821.9L950.0 823.2L952.0 824.6L954.0 826.3L956.0 828.3L958.0 830.4L960.0 832.7L962.0 835.1L964.0 837.6L966.0 840.3L968.0 843.0L970.0 845.6L972.0 847.8L974.0 850.1L976.0 852.2L978.0 854.4L980.0 856.8L982.0 859.8L984.0 862.9L986.0 865.7L988.0 868.2L990.0 870.6L992.0 872.6L994.0 874.1L996.0 875.5L998.0 877.1L1000.0 879.1L1002.0 881.0L1004.0 883.1L1006.0 885.2L1008.0 887.2L1010.0 888.8L1012.0 890.3L1014.0 891.9L1016.0 893.8L1018.0 895.8L1020.0 897.9L1022.0 900.3L1024.0 902.9L1026.0 905.3L1028.0 907.7L1030.0 910.6L1032.0 913.8L1034.0 917.1L1036.0 920.6L1038.0 924.3L1040.0 927.8L1042.0 931.3L1044.0 934.6L1046.0 937.7L1048.0 940.8L1050.0 944.0L1052.0 947.2L1054.0 950.1L1056.0 953.0L1058.0 955.9L1060.0 958.8L1062.0 961.8L1064.0 965.0L1066.0 968.5L1068.0 972.2L1070.0 975.7L1072.0 979.1L1074.0 982.4L1076.0 985.4L1078.0 988.1L1080.0 990.6L1082.0 993.2L1084.0 995.8L1086.0 998.3L1088.0 1000.2L1090.0 1002.1L1092.0 1003.9L1094.0 1006.2L1096.0 1008.4L1098.0 1011.0L1100.0 1014.2L1102.0 1017.4L1104.0 1020.5L1106.0 1023.6L1108.0 1026.6L1110.0 1029.0L1112.0 1031.2L1114.0 1033.5L1116.0 1035.1L1118.0 1036.8L1120.0 1038.6L1122.0 1041.0L1124.0 1043.4L1126.0 1045.8L1128.0 1048.3L1130.0 1050.8L1132.0 1053.4L1134.0 1056.0L1136.0 1058.6L1138.0 1061.6L1140.0 1064.6L1142.0 1067.7L1144.0 1070.3L1146.0 1073.0L1148.0 1075.7L1150.0 1078.2L1152.0 1080.8L1154.0 1083.2L1156.0 1085.5L1158.0 1087.8L1160.0 1089.9L1162.0 1091.9L1164.0 1093.8L1166.0 1096.4L1168.0 1098.9L1170.0 1101.4L1172.0 1103.8L1174.0 1106.1L1176.0 1108.3L1178.0 1110.1L1180.0 1111.9L1182.0 1113.9L1184.0 1115.9L1186.0 1117.9L1188.0 1120.1L1190.0 1122.2L1192.0 1124.3L1194.0 1126.3L1196.0 1128.3L1198.0 1130.2L1200.0 1132.2L1202.0 1134.2L1204.0 1135.9L1206.0 1137.3L1208.0 1138.7L1210.0 1139.8L1212.0 1140.8L1214.0 1141.9L1216.0 1143.9L1218.0 1146.0L1220.0 1148.1L1222.0 1150.4L1224.0 1152.6L1226.0 1154.8L1228.0 1156.7L1230.0 1158.6L1232.0 1160.6L1234.0 1162.6L1236.0 1164.5L1238.0 1166.3L1240.0 1168.0L1242.0 1169.7L1244.0 1170.9L1246.0 1172.0L1248.0 1173.1L1250.0 1174.2L1252.0 1175.3L1254.0 1176.7L1256.0 1178.5L1258.0 1180.3L1260.0 1182.1L1262.0 1183.9L1264.0 1185.7L1266.0 1187.3L1268.0 1189.0L1270.0 1190.6L1272.0 1192.2L1274.0 1193.7L1276.0 1195.1L1278.0 1195.8L1280.0 1196.6L1282.0 1197.5L1284.0 1198.5L1286.0 1199.6L1288.0 1201.2L1290.0 1203.2L1292.0 1205.1L1294.0 1206.7L1296.0 1208.2L1298.0 1209.7L1300.0 1210.5L1302.0 1211.4L1304.0 1212.2L1306.0 1213.0L1308.0 1213.8L1310.0 1214.9L1312.0 1216.2L1314.0 1217.5L1316.0 1219.1L1318.0 1220.8L1320.0 1222.4L1322.0 1223.5L1324.0 1224.6L1326.0 1225.7L1328.0 1226.9L1330.0 1228.1L1332.0 1229.4L1334.0 1231.1L1336.0 1232.7L1338.0 1233.9L1340.0 1234.7L1342.0 1235.5L1344.0 1236.1L1346.0 1236.6L1348.0 1237.2L1350.0 1238.1L1352.0 1239.1L1354.0 1240.0L1356.0 1240.8L1358.0 1241.6L1360.0 1242.3L1362.0 1242.7L1364.0 1243.2L1366.0 1243.7L1368.0 1244.2L1370.0 1244.8L1372.0 1246.2L1374.0 1247.8L1376.0 1249.5L1378.0 1252.3L1380.0 1255.1L1382.0 1257.7L1384.0 1259.8L1386.0 1261.9L1388.0 1263.3L1390.0 1264.2L1392.0 1265.1L1394.0 1266.1L1396.0 1267.2L1398.0 1268.2L1400.0 1269.7L1402.0 1271.2L1404.0 1272.7L1406.0 1273.8L1408.0 1274.9L1410.0 1275.7L1412.0 1276.0L1414.0 1276.2L1416.0 1276.7L1418.0 1277.2L1420.0 1277.7L1422.0 1278.8L1424.0 1280.1L1426.0 1281.3L1428.0 1282.5L1430.0 1283.6L1432.0 1284.5L1434.0 1284.9L1436.0 1285.2L1438.0 1285.6L1440.0 1286.0L1442.0 1286.4L1444.0 1287.0L1446.0 1287.7L1448.0 1288.4L1450.0 1289.0L1452.0 1289.6L1454.0 1290.2L1456.0 1290.8L1458.0 1291.4L1460.0 1292.2L1462.0 1293.1L1464.0 1294.1L1466.0 1295.2L1468.0 1296.3L1470.0 1297.4L1472.0 1297.9L1474.0 1298.3L1476.0 1298.6L1478.0 1298.6L1480.0 1298.6L1482.0 1298.7L1484.0 1299.7L1486.0 1300.6L1488.0 1301.7L1490.0 1302.9L1492.0 1304.2L1494.0 1305.1L1496.0 1305.8L1498.0 1306.5L1500.0 1307.0L1502.0 1307.4L1504.0 1307.9L1506.0 1308.1L1508.0 1308.3L1510.0 1308.6L1512.0 1309.3L1514.0 1310.0L1516.0 1310.9L1518.0 1311.8L1520.0 1312.8L1522.0 1313.0L1524.0 1312.8L1526.0 1312.6L1528.0 1312.7L1530.0 1312.9L1532.0 1313.2L1534.0 1314.3L1536.0 1315.5L1538.0 1316.4L1540.0 1317.1L1542.0 1317.8L1544.0 1318.1L1546.0 1318.1L1548.0 1318.1L1550.0 1317.9L1552.0 1317.7L1554.0 1317.4L1556.0 1317.7L1558.0 1318.0L1560.0 1318.4L1562.0 1319.3L1564.0 1320.1L1566.0 1320.7L1568.0 1321.1L1570.0 1321.4L1572.0 1321.6L1574.0 1321.8L1576.0 1322.0L1578.0 1322.8L1580.0 1323.8L1582.0 1324.8L1584.0 1325.8L1586.0 1326.8L1588.0 1327.6L1590.0 1328.2L1592.0 1328.8L1594.0 1329.3L1596.0 1329.9L1598.0 1330.5L1600.0 1330.9L1602.0 1331.2L1604.0 1331.5L1606.0 1331.9L1608.0 1332.2L1610.0 1332.6L1612.0 1333.1L1614.0 1333.6L1616.0 1333.9L1618.0 1334.0L1620.0 1334.0L1622.0 1333.8L1624.0 1333.4L1626.0 1332.9L1628.0 1333.0L1630.0 1333.3L1632.0 1333.6L1634.0 1334.9L1636.0 1336.1L1638.0 1337.2L1640.0 1337.5L1642.0 1337.8L1644.0 1338.1L1646.0 1338.4L1648.0 1338.6L1650.0 1339.6L1652.0 1340.8L1654.0 1342.1L1656.0 1342.6L1658.0 1343.0L1660.0 1343.4L1662.0 1343.2L1664.0 1343.0L1666.0 1342.8L1668.0 1342.8L1670.0 1342.8L1672.0 1343.2L1674.0 1343.9L1676.0 1344.5L1678.0 1346.1L1680.0 1347.9L1682.0 1349.7L1684.0 1350.6L1686.0 1351.6L1688.0 1352.3L1690.0 1352.2L1692.0 1352.0L1694.0 1351.7L1696.0 1351.1L1698.0 1350.6L1700.0 1350.3L1702.0 1350.3L1704.0 1350.2L1706.0 1350.7L1708.0 1351.3L1710.0 1352.0L1712.0 1352.1L1714.0 1352.2L1716.0 1352.2L1718.0 1352.1L1720.0 1351.9L1722.0 1351.7L1724.0 1351.4L1726.0 1351.0L1728.0 1350.9L1730.0 1351.0L1732.0 1351.1L1734.0 1351.9L1736.0 1352.7L1738.0 1353.5L1740.0 1353.3L1742.0 1353.2L1744.0 1352.9L1746.0 1352.7L1748.0 1352.4L1750.0 1352.7L1752.0 1353.4L1754.0 1354.1L1756.0 1354.5L1758.0 1354.9L1760.0 1355.3L1762.0 1355.7L1764.0 1356.1L1766.0 1356.5L1768.0 1356.9L1770.0 1357.4L1772.0 1357.8L1774.0 1358.2L1776.0 1358.7L1778.0 1359.1L1780.0 1359.6L1782.0 1360.0L1784.0 1359.9L1786.0 1359.5L1788.0 1359.2L1790.0 1359.0L1792.0 1358.8L1794.0 1358.7L1796.0 1359.1L1798.0 1359.5L1800.0 1359.9L1802.0 1360.4L1804.0 1360.9L1806.0 1361.2L1808.0 1361.4L1810.0 1361.6L1812.0 1361.5L1814.0 1361.3L1816.0 1361.1L1818.0 1360.7L1820.0 1360.4L1822.0 1360.1L1824.0 1360.1L1826.0 1360.1L1828.0 1360.6L1830.0 1361.7L1832.0 1362.7L1834.0 1363.2L1836.0 1363.6L1838.0 1363.9L1840.0 1363.7L1842.0 1363.4L1844.0 1363.1L1846.0 1362.7L1848.0 1362.3L1850.0 1361.7L1852.0 1360.5L1854.0 1359.4L1856.0 1359.3L1858.0 1359.8L1860.0 1360.3L1862.0 1361.4L1864.0 1362.6L1866.0 1363.7L1868.0 1363.2L1870.0 1362.7L1872.0 1362.3L1874.0 1362.3L1876.0 1362.3L1878.0 1362.6L1880.0 1363.1L1882.0 1363.6L1884.0 1363.4L1886.0 1362.8L1888.0 1362.2L1890.0 1362.0L1892.0 1361.8L1894.0 1361.6L1896.0 1362.3L1898.0 1362.9L1900.0 1363.3L1902.0 1363.2L1904.0 1363.1L1906.0 1362.5L1908.0 1361.5L1910.0 1360.5L1912.0 1360.1L1914.0 1359.9L1916.0 1359.6L1918.0 1360.9L1920.0 1362.2L1922.0 1363.4L1924.0 1364.7L1926.0 1365.9L1928.0 1366.7L1930.0 1366.7L1932.0 1366.8L1934.0 1366.7L1936.0 1366.4L1938.0 1366.2L1940.0 1366.0L1942.0 1365.9L1944.0 1365.8L1946.0 1366.1L1948.0 1366.5L1950.0 1366.7L1952.0 1366.9L1954.0 1367.0L1956.0 1366.9L1958.0 1366.7L1960.0 1366.5L1962.0 1366.8L1964.0 1367.1L1966.0 1367.5L1968.0 1367.8L1970.0 1368.0L1972.0 1368.1L1974.0 1367.8L1976.0 1367.4L1978.0 1367.1L1980.0 1367.1L1982.0 1367.0L1984.0 1367.5L1986.0 1368.4L1988.0 1369.4L1990.0 1369.5L1992.0 1369.4L1994.0 1369.2L1996.0 1368.4L1998.0 1367.5L2000.0 1366.9L2002.0 1367.3L2004.0 1367.7L2006.0 1368.3L2008.0 1369.1L2010.0 1370.0L2012.0 1370.8L2014.0 1371.6L2016.0 1372.4L2018.0 1372.4L2020.0 1372.3L2022.0 1372.1L2024.0 1371.0L2026.0 1369.9L2028.0 1368.8L2030.0 1367.9L2032.0 1367.1L2034.0 1366.6L2036.0 1366.5L2038.0 1366.4L2040.0 1367.1L2042.0 1368.1L2044.0 1369.1L2046.0 1369.5L2048.0 1369.8L2050.0 1370.1L2052.0 1369.7L2054.0 1369.4L2056.0 1369.3L2058.0 1369.7L2060.0 1370.1L2062.0 1370.3L2064.0 1370.4L2066.0 1370.5L2068.0 1370.2L2070.0 1369.7L2072.0 1369.3L2074.0 1369.3L2076.0 1369.2L2078.0 1369.2L2080.0 1369.5L2082.0 1369.8L2084.0 1370.2L2086.0 1370.8L2088.0 1371.4L2090.0 1372.3L2092.0 1373.2L2094.0 1374.2L2096.0 1375.2L2098.0 1376.2L2100.0 1377.1L2102.0 1376.3L2104.0 1375.6L2106.0 1374.4L2108.0 1372.2L2110.0 1370.0L2112.0 1368.6L2114.0 1368.1L2116.0 1367.6L2118.0 1368.0" stroke="#FF0000" stroke-width="13.5"/>
<path d="M455.0 1381.0L455.0 1381.0L455.0 1381.0L455.0 1381.0L456.0 1381.0L458.0 1381.0L460.0 1381.0L462.0 1381.0L464.0 1381.0L466.0 1381.0L468.0 1380.9L470.0 1380.9L472.0 1380.9L474.0 1380.9L476.0 1380.8L478.0 1380.8L480.0 1380.8L482.0 1380.8L484.0 1380.8L486.0 1380.7L488.0 1380.7L490.0 1380.7L492.0 1380.7L494.0 1380.7L496.0 1380.7L498.0 1380.6L500.0 1380.6L502.0 1380.5L504.0 1380.4L506.0 1380.3L508.0 1380.2L510.0 1380.1L512.0 1380.0L514.0 1379.9L516.0 1379.7L518.0 1379.6L520.0 1379.5L522.0 1379.3L524.0 1379.1L526.0 1379.0L528.0 1378.8L530.0 1378.6L532.0 1378.4L534.0 1378.3L536.0 1378.1L538.0 1377.9L540.0 1377.8L542.0 1377.5L544.0 1377.3L546.0 1377.0L548.0 1376.8L550.0 1376.5L552.0 1376.1L554.0 1375.8L556.0 1375.4L558.0 1375.0L560.0 1374.6L562.0 1374.1L564.0 1373.6L566.0 1373.0L568.0 1372.5L570.0 1371.9L572.0 1371.3L574.0 1370.7L576.0 1370.1L578.0 1369.5L580.0 1368.8L582.0 1368.2L584.0 1367.5L586.0 1366.8L588.0 1366.2L590.0 1365.5L592.0 1364.7L594.0 1363.9L596.0 1363.2L598.0 1362.3L600.0 1361.5L602.0 1360.7L604.0 1359.8L606.0 1358.8L608.0 1357.7L610.0 1356.4L612.0 1355.1L614.0 1353.7L616.0 1352.2L618.0 1350.6L620.0 1349.2L622.0 1347.7L624.0 1346.3L626.0 1345.0L628.0 1343.8L630.0 1342.5L632.0 1341.3L634.0 1340.1L636.0 1338.9L638.0 1337.7L640.0 1336.4L642.0 1335.0L644.0 1333.5L646.0 1331.9L648.0 1330.1L650.0 1328.2L652.0 1326.3L654.0 1324.4L656.0 1322.4L658.0 1320.5L660.0 1318.7L662.0 1316.8L664.0 1315.0L666.0 1313.1L668.0 1311.2L670.0 1308.9L672.0 1306.4L674.0 1303.8L676.0 1301.0L678.0 1298.0L680.0 1294.9L682.0 1292.1L684.0 1289.0L686.0 1285.9L688.0 1282.7L690.0 1279.4L692.0 1275.8L694.0 1272.0L696.0 1268.3L698.0 1264.4L700.0 1260.5L702.0 1256.6L704.0 1252.9L706.0 1249.1L708.0 1245.2L710.0 1241.2L712.0 1237.1L714.0 1232.6L716.0 1227.9L718.0 1223.0L720.0 1218.1L722.0 1213.0L724.0 1207.7L726.0 1202.3L728.0 1196.7L730.0 1191.0L732.0 1185.3L734.0 1179.5L736.0 1173.9L738.0 1168.4L740.0 1162.8L742.0 1157.4L744.0 1152.0L746.0 1146.7L748.0 1140.8L750.0 1134.8L752.0 1128.7L754.0 1122.1L756.0 1115.5L758.0 1109.0L760.0 1103.0L762.0 1096.9L764.0 1091.0L766.0 1085.3L768.0 1079.5L770.0 1073.8L772.0 1068.0L774.0 1062.4L776.0 1056.7L778.0 1050.9L780.0 1045.2L782.0 1039.2L784.0 1033.2L786.0 1027.3L788.0 1021.5L790.0 1015.7L792.0 1010.4L794.0 1005.4L796.0 1000.5L798.0 995.7L800.0 991.0L802.0 986.5L804.0 981.2L806.0 975.9L808.0 970.6L810.0 965.3L812.0 960.2L814.0 955.4L816.0 951.2L818.0 947.3L820.0 943.8L822.0 940.5L824.0 937.4L826.0 934.1L828.0 930.7L830.0 927.5L832.0 924.2L834.0 921.1L836.0 918.2L838.0 915.7L840.0 913.4L842.0 911.6L844.0 910.1L846.0 908.7L848.0 907.4L850.0 906.1L852.0 904.9L854.0 904.2L856.0 903.8L858.0 903.5L860.0 903.3L862.0 903.4L864.0 903.7L866.0 904.2L868.0 904.7L870.0 905.5L872.0 906.6L874.0 907.6L876.0 908.3L878.0 908.8L880.0 909.3L882.0 909.3L884.0 909.3L886.0 909.4L888.0 909.7L890.0 910.1L892.0 910.6L894.0 911.4L896.0 912.4L898.0 913.9L900.0 915.7L902.0 917.6L904.0 919.6L906.0 921.7L908.0 923.6L910.0 924.7L912.0 925.9L914.0 927.2L916.0 928.8L918.0 930.4L920.0 932.5L922.0 935.0L924.0 937.5L926.0 940.0L928.0 942.5L930.0 945.1L932.0 947.3L934.0 949.5L936.0 951.6L938.0 953.8L940.0 955.9L942.0 958.0L944.0 960.3L946.0 962.5L948.0 964.5L950.0 966.2L952.0 967.8L954.0 969.1L956.0 970.3L958.0 971.6L960.0 972.8L962.0 974.0L964.0 975.5L966.0 977.2L968.0 978.9L970.0 980.9L972.0 983.1L974.0 985.3L976.0 987.3L978.0 989.1L980.0 990.8L982.0 992.1L984.0 993.3L986.0 994.5L988.0 995.8L990.0 997.0L992.0 998.3L994.0 999.8L996.0 1001.3L998.0 1002.8L1000.0 1004.3L1002.0 1005.8L1004.0 1007.1L1006.0 1008.4L1008.0 1009.7L1010.0 1011.4L1012.0 1013.1L1014.0 1015.0L1016.0 1017.1L1018.0 1019.2L1020.0 1021.3L1022.0 1023.0L1024.0 1024.8L1026.0 1026.7L1028.0 1028.5L1030.0 1030.4L1032.0 1032.3L1034.0 1034.1L1036.0 1035.9L1038.0 1037.5L1040.0 1039.1L1042.0 1040.7L1044.0 1042.6L1046.0 1044.5L1048.0 1046.4L1050.0 1048.2L1052.0 1050.2L1054.0 1052.2L1056.0 1054.2L1058.0 1056.3L1060.0 1058.7L1062.0 1061.0L1064.0 1063.4L1066.0 1065.2L1068.0 1066.9L1070.0 1068.7L1072.0 1070.7L1074.0 1072.5L1076.0 1074.3L1078.0 1076.2L1080.0 1078.0L1082.0 1079.4L1084.0 1080.7L1086.0 1081.9L1088.0 1083.3L1090.0 1084.8L1092.0 1086.3L1094.0 1088.6L1096.0 1090.8L1098.0 1093.2L1100.0 1095.7L1102.0 1098.4L1104.0 1100.6L1106.0 1102.4L1108.0 1104.2L1110.0 1106.0L1112.0 1107.7L1114.0 1109.4L1116.0 1111.5L1118.0 1113.5L1120.0 1115.5L1122.0 1117.7L1124.0 1119.7L1126.0 1121.7L1128.0 1123.6L1130.0 1125.5L1132.0 1127.0L1134.0 1128.4L1136.0 1129.8L1138.0 1131.2L1140.0 1132.7L1142.0 1134.2L1144.0 1135.7L1146.0 1137.3L1148.0 1138.7L1150.0 1139.9L1152.0 1141.2L1154.0 1142.5L1156.0 1144.0L1158.0 1145.5L1160.0 1147.3L1162.0 1149.1L1164.0 1151.0L1166.0 1152.7L1168.0 1154.4L1170.0 1156.1L1172.0 1157.7L1174.0 1159.3L1176.0 1161.3L1178.0 1163.8L1180.0 1166.2L1182.0 1168.8L1184.0 1171.5L1186.0 1174.1L1188.0 1176.0L1190.0 1177.6L1192.0 1179.3L1194.0 1180.9L1196.0 1182.5L1198.0 1184.1L1200.0 1186.0L1202.0 1187.9L1204.0 1189.7L1206.0 1191.5L1208.0 1193.2L1210.0 1195.0L1212.0 1196.7L1214.0 1198.5L1216.0 1200.4L1218.0 1202.4L1220.0 1204.4L1222.0 1206.2L1224.0 1208.1L1226.0 1209.9L1228.0 1211.3L1230.0 1212.8L1232.0 1214.2L1234.0 1215.6L1236.0 1217.0L1238.0 1218.6L1240.0 1220.3L1242.0 1221.9L1244.0 1224.0L1246.0 1226.1L1248.0 1228.1L1250.0 1229.9L1252.0 1231.7L1254.0 1233.3L1256.0 1234.5L1258.0 1235.7L1260.0 1236.8L1262.0 1237.8L1264.0 1238.8L1266.0 1239.7L1268.0 1240.6L1270.0 1241.4L1272.0 1242.6L1274.0 1243.7L1276.0 1244.8L1278.0 1245.9L1280.0 1247.1L1282.0 1248.0L1284.0 1248.8L1286.0 1249.6L1288.0 1250.4L1290.0 1251.2L1292.0 1252.0L1294.0 1252.7L1296.0 1253.4L1298.0 1254.0L1300.0 1254.7L1302.0 1255.4L1304.0 1256.2L1306.0 1257.5L1308.0 1258.8L1310.0 1260.1L1312.0 1261.4L1314.0 1262.7L1316.0 1263.4L1318.0 1263.9L1320.0 1264.4L1322.0 1265.0L1324.0 1265.6L1326.0 1266.4L1328.0 1267.7L1330.0 1269.1L1332.0 1270.5L1334.0 1271.9L1336.0 1273.3L1338.0 1274.4L1340.0 1275.2L1342.0 1276.0L1344.0 1276.4L1346.0 1276.8L1348.0 1277.2L1350.0 1277.9L1352.0 1278.6L1354.0 1279.5L1356.0 1280.8L1358.0 1282.2L1360.0 1283.2L1362.0 1283.8L1364.0 1284.4L1366.0 1284.9L1368.0 1285.2L1370.0 1285.5L1372.0 1286.7L1374.0 1288.1L1376.0 1289.4L1378.0 1290.4L1380.0 1291.3L1382.0 1292.0L1384.0 1292.1L1386.0 1292.2L1388.0 1292.5L1390.0 1293.1L1392.0 1293.6L1394.0 1294.5L1396.0 1295.5L1398.0 1296.4L1400.0 1297.0L1402.0 1297.5L1404.0 1298.0L1406.0 1298.3L1408.0 1298.7L1410.0 1299.4L1412.0 1300.4L1414.0 1301.4L1416.0 1302.2L1418.0 1303.0L1420.0 1303.7L1422.0 1304.3L1424.0 1304.8L1426.0 1305.3L1428.0 1306.0L1430.0 1306.7L1432.0 1307.2L1434.0 1307.3L1436.0 1307.4L1438.0 1307.5L1440.0 1307.5L1442.0 1307.5L1444.0 1307.7L1446.0 1308.0L1448.0 1308.3L1450.0 1308.8L1452.0 1309.3L1454.0 1309.9L1456.0 1311.1L1458.0 1312.3L1460.0 1313.4L1462.0 1314.3L1464.0 1315.2L1466.0 1315.8L1468.0 1316.2L1470.0 1316.6L1472.0 1317.2L1474.0 1318.0L1476.0 1318.8L1478.0 1319.3L1480.0 1319.7L1482.0 1320.0L1484.0 1319.5L1486.0 1319.0L1488.0 1318.5L1490.0 1318.0L1492.0 1317.4L1494.0 1317.7L1496.0 1318.4L1498.0 1319.1L1500.0 1320.3L1502.0 1321.5L1504.0 1322.6L1506.0 1323.3L1508.0 1323.9L1510.0 1324.4L1512.0 1324.7L1514.0 1324.9L1516.0 1325.2L1518.0 1325.5L1520.0 1325.8L1522.0 1326.3L1524.0 1326.9L1526.0 1327.5L1528.0 1327.2L1530.0 1326.9L1532.0 1326.7L1534.0 1326.9L1536.0 1327.0L1538.0 1327.6L1540.0 1329.0L1542.0 1330.4L1544.0 1331.4L1546.0 1331.9L1548.0 1332.5L1550.0 1332.6L1552.0 1332.6L1554.0 1332.6L1556.0 1332.8L1558.0 1333.0L1560.0 1333.2L1562.0 1333.5L1564.0 1333.8L1566.0 1334.3L1568.0 1335.3L1570.0 1336.2L1572.0 1337.4L1574.0 1338.7L1576.0 1340.1L1578.0 1340.4L1580.0 1340.5L1582.0 1340.5L1584.0 1339.8L1586.0 1339.0L1588.0 1338.5L1590.0 1338.6L1592.0 1338.6L1594.0 1339.3L1596.0 1340.6L1598.0 1341.8L1600.0 1343.2L1602.0 1344.5L1604.0 1345.9L1606.0 1345.9L1608.0 1345.9L1610.0 1345.8L1612.0 1345.7L1614.0 1345.5L1616.0 1345.7L1618.0 1346.6L1620.0 1347.4L1622.0 1347.8L1624.0 1347.8L1626.0 1347.9L1628.0 1347.8L1630.0 1347.7L1632.0 1347.6L1634.0 1348.2L1636.0 1348.8L1638.0 1349.3L1640.0 1349.3L1642.0 1349.4L1644.0 1349.3L1646.0 1349.3L1648.0 1349.2L1650.0 1349.5L1652.0 1349.9L1654.0 1350.4L1656.0 1350.5L1658.0 1350.6L1660.0 1350.7L1662.0 1350.6L1664.0 1350.6L1666.0 1350.7L1668.0 1351.0L1670.0 1351.3L1672.0 1351.7L1674.0 1352.2L1676.0 1352.6L1678.0 1353.4L1680.0 1354.1L1682.0 1354.9L1684.0 1355.5L1686.0 1355.9L1688.0 1356.3L1690.0 1355.9L1692.0 1355.5L1694.0 1355.1L1696.0 1354.7L1698.0 1354.3L1700.0 1354.2L1702.0 1354.3L1704.0 1354.4L1706.0 1354.8L1708.0 1355.3L1710.0 1355.8L1712.0 1355.6L1714.0 1355.5L1716.0 1355.2L1718.0 1354.8L1720.0 1354.3L1722.0 1354.4L1724.0 1355.1L1726.0 1355.8L1728.0 1357.1L1730.0 1358.5L1732.0 1360.0L1734.0 1360.7L1736.0 1361.4L1738.0 1362.0L1740.0 1362.2L1742.0 1362.4L1744.0 1362.5L1746.0 1362.5L1748.0 1362.6L1750.0 1362.6L1752.0 1362.7L1754.0 1362.7L1756.0 1363.1L1758.0 1363.6L1760.0 1364.1L1762.0 1364.4L1764.0 1364.6L1766.0 1364.8L1768.0 1364.2L1770.0 1363.7L1772.0 1363.0L1774.0 1362.1L1776.0 1361.2L1778.0 1360.9L1780.0 1361.1L1782.0 1361.2L1784.0 1361.7L1786.0 1362.2L1788.0 1362.7L1790.0 1362.8L1792.0 1362.8L1794.0 1363.0L1796.0 1363.5L1798.0 1364.0L1800.0 1364.5L1802.0 1365.1L1804.0 1365.7L1806.0 1366.1L1808.0 1366.4L1810.0 1366.8L1812.0 1367.1L1814.0 1367.5L1816.0 1367.8L1818.0 1368.0L1820.0 1368.2L1822.0 1368.2L1824.0 1367.8L1826.0 1367.5L1828.0 1367.0L1830.0 1366.3L1832.0 1365.6L1834.0 1365.3L1836.0 1365.2L1838.0 1365.2L1840.0 1366.1L1842.0 1367.0L1844.0 1367.8L1846.0 1368.0L1848.0 1368.2L1850.0 1368.0L1852.0 1367.4L1854.0 1366.8L1856.0 1367.1L1858.0 1368.0L1860.0 1368.8L1862.0 1370.0L1864.0 1371.4L1866.0 1372.6L1868.0 1372.5L1870.0 1372.4L1872.0 1372.3L1874.0 1371.8L1876.0 1371.4L1878.0 1370.9L1880.0 1370.6L1882.0 1370.2L1884.0 1370.1L1886.0 1370.2L1888.0 1370.2L1890.0 1370.5L1892.0 1370.7L1894.0 1370.9L1896.0 1369.9L1898.0 1369.0L1900.0 1368.1L1902.0 1367.3L1904.0 1366.5L1906.0 1366.5L1908.0 1367.0L1910.0 1367.5L1912.0 1368.4L1914.0 1369.4L1916.0 1370.4L1918.0 1370.0L1920.0 1369.5L1922.0 1368.9L1924.0 1367.6L1926.0 1366.3L1928.0 1365.8L1930.0 1366.5L1932.0 1367.2L1934.0 1368.5L1936.0 1370.2L1938.0 1371.9L1940.0 1372.9L1942.0 1373.8L1944.0 1374.7L1946.0 1374.5L1948.0 1374.3L1950.0 1373.8L1952.0 1372.7L1954.0 1371.5L1956.0 1370.6L1958.0 1370.1L1960.0 1369.5L1962.0 1369.6L1964.0 1370.1L1966.0 1370.5L1968.0 1370.5L1970.0 1370.5L1972.0 1370.5L1974.0 1370.5L1976.0 1370.4L1978.0 1370.5L1980.0 1370.8L1982.0 1371.0L1984.0 1370.8L1986.0 1370.1L1988.0 1369.5L1990.0 1368.5L1992.0 1367.3L1994.0 1366.1L1996.0 1365.7L1998.0 1365.4L2000.0 1365.1L2002.0 1365.1L2004.0 1365.0L2006.0 1365.4L2008.0 1366.2L2010.0 1366.9L2012.0 1368.0L2014.0 1369.3L2016.0 1370.6L2018.0 1370.9L2020.0 1371.1L2022.0 1371.4L2024.0 1371.7L2026.0 1372.0L2028.0 1372.3L2030.0 1372.6L2032.0 1372.9L2034.0 1372.9L2036.0 1372.6L2038.0 1372.2L2040.0 1371.8L2042.0 1371.2L2044.0 1370.7L2046.0 1370.7L2048.0 1370.8L2050.0 1370.9L2052.0 1371.2L2054.0 1371.5L2056.0 1371.7L2058.0 1371.5L2060.0 1371.3L2062.0 1371.2L2064.0 1371.2L2066.0 1371.1L2068.0 1371.2L2070.0 1371.2L2072.0 1371.3L2074.0 1371.1L2076.0 1370.9L2078.0 1370.7L2080.0 1370.5L2082.0 1370.2L2084.0 1370.6L2086.0 1371.9L2088.0 1373.2L2090.0 1374.5L2092.0 1375.8L2094.0 1377.1L2096.0 1376.9L2098.0 1376.5L2100.0 1376.0L2102.0 1374.9L2104.0 1373.9L2106.0 1372.9L2108.0 1372.0L2110.0 1371.1L2112.0 1370.6L2114.0 1370.4L2116.0 1370.3L2118.0 1370.6" stroke="#8F8F00" stroke-width="13.5"/>
<path d="M455.0 1381.5L455.0 1381.5L455.0 1381.5L455.0 1381.5L456.0 1381.5L458.0 1381.5L460.0 1381.5L462.0 1381.5L464.0 1381.4L466.0 1381.4L468.0 1381.4L470.0 1381.3L472.0 1381.3L474.0 1381.2L476.0 1381.2L478.0 1381.1L480.0 1381.1L482.0 1381.0L484.0 1381.0L486.0 1380.9L488.0 1380.8L490.0 1380.8L492.0 1380.7L494.0 1380.7L496.0 1380.6L498.0 1380.5L500.0 1380.5L502.0 1380.4L504.0 1380.4L506.0 1380.3L508.0 1380.2L510.0 1380.2L512.0 1380.1L514.0 1380.0L516.0 1379.9L518.0 1379.8L520.0 1379.6L522.0 1379.5L524.0 1379.4L526.0 1379.3L528.0 1379.2L530.0 1379.0L532.0 1378.9L534.0 1378.8L536.0 1378.7L538.0 1378.6L540.0 1378.4L542.0 1378.3L544.0 1378.1L546.0 1378.0L548.0 1377.9L550.0 1377.7L552.0 1377.5L554.0 1377.2L556.0 1376.9L558.0 1376.5L560.0 1376.2L562.0 1375.8L564.0 1375.4L566.0 1375.0L568.0 1374.6L570.0 1374.2L572.0 1373.8L574.0 1373.3L576.0 1372.9L578.0 1372.5L580.0 1372.0L582.0 1371.5L584.0 1371.0L586.0 1370.5L588.0 1370.0L590.0 1369.4L592.0 1368.9L594.0 1368.3L596.0 1367.7L598.0 1367.1L600.0 1366.5L602.0 1366.0L604.0 1365.4L606.0 1364.8L608.0 1364.2L610.0 1363.7L612.0 1363.2L614.0 1362.6L616.0 1361.9L618.0 1361.2L620.0 1360.4L622.0 1359.5L624.0 1358.6L626.0 1357.7L628.0 1356.8L630.0 1355.9L632.0 1354.9L634.0 1354.0L636.0 1353.0L638.0 1352.1L640.0 1351.2L642.0 1350.3L644.0 1349.4L646.0 1348.4L648.0 1347.2L650.0 1346.0L652.0 1344.7L654.0 1343.3L656.0 1341.9L658.0 1340.4L660.0 1339.0L662.0 1337.5L664.0 1336.0L666.0 1334.6L668.0 1333.1L670.0 1331.6L672.0 1330.1L674.0 1328.5L676.0 1326.9L678.0 1325.2L680.0 1323.4L682.0 1321.4L684.0 1319.4L686.0 1317.3L688.0 1315.1L690.0 1312.8L692.0 1310.7L694.0 1308.7L696.0 1306.6L698.0 1304.4L700.0 1302.1L702.0 1299.8L704.0 1297.1L706.0 1294.3L708.0 1291.4L710.0 1288.6L712.0 1285.7L714.0 1282.6L716.0 1279.3L718.0 1276.0L720.0 1272.4L722.0 1268.6L724.0 1264.8L726.0 1261.6L728.0 1258.5L730.0 1255.4L732.0 1252.3L734.0 1249.2L736.0 1245.9L738.0 1242.1L740.0 1238.3L742.0 1234.3L744.0 1230.2L746.0 1226.0L748.0 1222.1L750.0 1218.2L752.0 1214.3L754.0 1210.4L756.0 1206.6L758.0 1202.6L760.0 1198.5L762.0 1194.4L764.0 1190.3L766.0 1186.3L768.0 1182.2L770.0 1178.2L772.0 1174.2L774.0 1170.1L776.0 1165.9L778.0 1161.7L780.0 1157.4L782.0 1152.9L784.0 1148.5L786.0 1143.9L788.0 1139.1L790.0 1134.1L792.0 1129.2L794.0 1124.3L796.0 1119.4L798.0 1114.6L800.0 1109.9L802.0 1105.4L804.0 1101.0L806.0 1096.9L808.0 1093.0L810.0 1089.5L812.0 1086.0L814.0 1082.7L816.0 1079.4L818.0 1076.2L820.0 1072.8L822.0 1069.3L824.0 1065.8L826.0 1062.3L828.0 1058.8L830.0 1055.2L832.0 1051.9L834.0 1048.5L836.0 1045.2L838.0 1041.9L840.0 1038.8L842.0 1035.9L844.0 1033.3L846.0 1031.1L848.0 1029.3L850.0 1027.9L852.0 1026.8L854.0 1025.5L856.0 1024.3L858.0 1023.1L860.0 1022.2L862.0 1021.4L864.0 1020.7L866.0 1020.1L868.0 1019.7L870.0 1019.2L872.0 1018.6L874.0 1018.0L876.0 1017.2L878.0 1016.4L880.0 1015.7L882.0 1014.7L884.0 1013.8L886.0 1013.1L888.0 1012.9L890.0 1013.0L892.0 1013.5L894.0 1014.4L896.0 1015.5L898.0 1016.9L900.0 1018.4L902.0 1020.0L904.0 1021.3L906.0 1022.5L908.0 1023.7L910.0 1024.6L912.0 1025.4L914.0 1026.2L916.0 1027.1L918.0 1028.0L920.0 1028.7L922.0 1029.2L924.0 1029.7L926.0 1030.5L928.0 1031.4L930.0 1032.4L932.0 1033.5L934.0 1034.7L936.0 1035.9L938.0 1036.9L940.0 1037.9L942.0 1038.9L944.0 1040.1L946.0 1041.2L948.0 1042.5L950.0 1043.9L952.0 1045.2L954.0 1046.9L956.0 1048.7L958.0 1050.4L960.0 1051.9L962.0 1053.3L964.0 1054.7L966.0 1055.8L968.0 1057.0L970.0 1058.4L972.0 1060.1L974.0 1061.8L976.0 1063.7L978.0 1065.8L980.0 1067.9L982.0 1069.7L984.0 1071.4L986.0 1073.1L988.0 1074.4L990.0 1075.7L992.0 1076.9L994.0 1078.2L996.0 1079.5L998.0 1080.7L1000.0 1081.9L1002.0 1083.2L1004.0 1084.2L1006.0 1085.2L1008.0 1086.3L1010.0 1088.0L1012.0 1089.7L1014.0 1091.6L1016.0 1093.7L1018.0 1095.9L1020.0 1097.8L1022.0 1099.0L1024.0 1100.3L1026.0 1101.8L1028.0 1103.2L1030.0 1104.7L1032.0 1106.8L1034.0 1109.0L1036.0 1111.1L1038.0 1113.0L1040.0 1114.9L1042.0 1116.7L1044.0 1118.2L1046.0 1119.8L1048.0 1121.2L1050.0 1122.4L1052.0 1123.5L1054.0 1124.4L1056.0 1125.1L1058.0 1125.8L1060.0 1126.9L1062.0 1128.1L1064.0 1129.4L1066.0 1131.2L1068.0 1133.0L1070.0 1134.8L1072.0 1136.5L1074.0 1138.3L1076.0 1140.0L1078.0 1141.6L1080.0 1143.2L1082.0 1144.5L1084.0 1145.8L1086.0 1147.0L1088.0 1148.2L1090.0 1149.4L1092.0 1150.6L1094.0 1152.0L1096.0 1153.3L1098.0 1154.6L1100.0 1155.8L1102.0 1157.1L1104.0 1158.3L1106.0 1159.6L1108.0 1160.9L1110.0 1162.2L1112.0 1163.5L1114.0 1164.8L1116.0 1166.0L1118.0 1167.2L1120.0 1168.5L1122.0 1170.1L1124.0 1171.7L1126.0 1173.5L1128.0 1175.5L1130.0 1177.5L1132.0 1179.2L1134.0 1180.9L1136.0 1182.5L1138.0 1183.6L1140.0 1184.6L1142.0 1185.6L1144.0 1186.8L1146.0 1187.9L1148.0 1189.1L1150.0 1190.4L1152.0 1191.7L1154.0 1193.1L1156.0 1194.6L1158.0 1196.1L1160.0 1197.6L1162.0 1199.1L1164.0 1200.5L1166.0 1201.6L1168.0 1202.6L1170.0 1203.7L1172.0 1205.2L1174.0 1206.7L1176.0 1208.2L1178.0 1209.7L1180.0 1211.2L1182.0 1211.9L1184.0 1212.2L1186.0 1212.6L1188.0 1212.8L1190.0 1213.0L1192.0 1213.3L1194.0 1214.7L1196.0 1216.2L1198.0 1217.8L1200.0 1220.0L1202.0 1222.2L1204.0 1224.2L1206.0 1225.7L1208.0 1227.2L1210.0 1228.4L1212.0 1229.4L1214.0 1230.4L1216.0 1231.9L1218.0 1233.5L1220.0 1235.1L1222.0 1237.2L1224.0 1239.1L1226.0 1240.8L1228.0 1242.3L1230.0 1243.7L1232.0 1244.9L1234.0 1246.0L1236.0 1247.0L1238.0 1247.7L1240.0 1248.3L1242.0 1249.0L1244.0 1249.4L1246.0 1249.8L1248.0 1250.3L1250.0 1251.6L1252.0 1252.9L1254.0 1254.2L1256.0 1255.7L1258.0 1257.2L1260.0 1258.4L1262.0 1259.4L1264.0 1260.4L1266.0 1261.6L1268.0 1262.8L1270.0 1264.0L1272.0 1265.4L1274.0 1266.8L1276.0 1268.2L1278.0 1269.6L1280.0 1271.0L1282.0 1272.1L1284.0 1272.8L1286.0 1273.4L1288.0 1273.8L1290.0 1274.1L1292.0 1274.1L1294.0 1274.7L1296.0 1275.3L1298.0 1275.9L1300.0 1276.4L1302.0 1276.9L1304.0 1277.2L1306.0 1277.3L1308.0 1277.4L1310.0 1277.8L1312.0 1278.4L1314.0 1279.1L1316.0 1280.1L1318.0 1281.2L1320.0 1282.2L1322.0 1283.5L1324.0 1284.7L1326.0 1285.8L1328.0 1286.5L1330.0 1287.2L1332.0 1287.7L1334.0 1287.8L1336.0 1288.0L1338.0 1288.8L1340.0 1290.0L1342.0 1291.2L1344.0 1292.4L1346.0 1293.7L1348.0 1294.9L1350.0 1295.3L1352.0 1295.5L1354.0 1295.9L1356.0 1296.4L1358.0 1296.8L1360.0 1297.5L1362.0 1298.5L1364.0 1299.5L1366.0 1300.3L1368.0 1301.0L1370.0 1301.7L1372.0 1302.0L1374.0 1302.2L1376.0 1302.5L1378.0 1302.6L1380.0 1302.7L1382.0 1303.0L1384.0 1303.6L1386.0 1304.3L1388.0 1305.2L1390.0 1306.3L1392.0 1307.4L1394.0 1308.6L1396.0 1309.9L1398.0 1311.2L1400.0 1311.9L1402.0 1312.6L1404.0 1313.3L1406.0 1313.6L1408.0 1313.9L1410.0 1314.3L1412.0 1314.9L1414.0 1315.4L1416.0 1315.7L1418.0 1315.7L1420.0 1315.7L1422.0 1315.9L1424.0 1316.0L1426.0 1316.2L1428.0 1317.3L1430.0 1318.3L1432.0 1319.3L1434.0 1320.2L1436.0 1321.1L1438.0 1322.2L1440.0 1323.5L1442.0 1324.8L1444.0 1325.7L1446.0 1326.4L1448.0 1327.1L1450.0 1326.5L1452.0 1325.8L1454.0 1325.1L1456.0 1325.0L1458.0 1324.8L1460.0 1324.8L1462.0 1325.2L1464.0 1325.5L1466.0 1326.1L1468.0 1326.9L1470.0 1327.7L1472.0 1328.7L1474.0 1329.8L1476.0 1330.9L1478.0 1331.2L1480.0 1331.5L1482.0 1331.8L1484.0 1332.0L1486.0 1332.2L1488.0 1332.6L1490.0 1333.2L1492.0 1333.9L1494.0 1334.2L1496.0 1334.5L1498.0 1334.7L1500.0 1334.6L1502.0 1334.5L1504.0 1334.5L1506.0 1335.4L1508.0 1336.2L1510.0 1337.2L1512.0 1338.3L1514.0 1339.5L1516.0 1340.3L1518.0 1340.7L1520.0 1341.0L1522.0 1341.1L1524.0 1340.9L1526.0 1340.8L1528.0 1340.4L1530.0 1340.0L1532.0 1339.6L1534.0 1339.1L1536.0 1338.5L1538.0 1338.2L1540.0 1338.2L1542.0 1338.2L1544.0 1338.6L1546.0 1339.4L1548.0 1340.1L1550.0 1341.5L1552.0 1343.1L1554.0 1344.7L1556.0 1345.4L1558.0 1346.1L1560.0 1346.3L1562.0 1344.9L1564.0 1343.5L1566.0 1342.5L1568.0 1342.3L1570.0 1342.0L1572.0 1342.7L1574.0 1344.0L1576.0 1345.3L1578.0 1345.8L1580.0 1346.2L1582.0 1346.6L1584.0 1346.4L1586.0 1346.2L1588.0 1346.2L1590.0 1346.8L1592.0 1347.4L1594.0 1348.3L1596.0 1349.5L1598.0 1350.8L1600.0 1351.5L1602.0 1352.0L1604.0 1352.6L1606.0 1352.4L1608.0 1352.1L1610.0 1351.9L1612.0 1351.7L1614.0 1351.5L1616.0 1351.6L1618.0 1352.2L1620.0 1352.9L1622.0 1353.6L1624.0 1354.4L1626.0 1355.2L1628.0 1355.4L1630.0 1355.6L1632.0 1355.7L1634.0 1355.6L1636.0 1355.4L1638.0 1355.2L1640.0 1354.5L1642.0 1353.8L1644.0 1353.1L1646.0 1352.7L1648.0 1352.1L1650.0 1352.7L1652.0 1353.9L1654.0 1355.1L1656.0 1356.0L1658.0 1356.8L1660.0 1357.6L1662.0 1357.1L1664.0 1356.6L1666.0 1356.1L1668.0 1355.8L1670.0 1355.5L1672.0 1355.3L1674.0 1355.2L1676.0 1355.0L1678.0 1355.1L1680.0 1355.3L1682.0 1355.5L1684.0 1356.3L1686.0 1357.1L1688.0 1357.8L1690.0 1357.8L1692.0 1357.8L1694.0 1357.7L1696.0 1357.3L1698.0 1356.9L1700.0 1356.9L1702.0 1357.3L1704.0 1357.6L1706.0 1357.9L1708.0 1358.2L1710.0 1358.5L1712.0 1358.8L1714.0 1359.2L1716.0 1359.6L1718.0 1360.3L1720.0 1361.0L1722.0 1361.4L1724.0 1361.5L1726.0 1361.7L1728.0 1361.7L1730.0 1361.7L1732.0 1361.7L1734.0 1361.9L1736.0 1362.1L1738.0 1362.4L1740.0 1362.7L1742.0 1363.0L1744.0 1363.3L1746.0 1363.7L1748.0 1364.0L1750.0 1364.0L1752.0 1363.6L1754.0 1363.3L1756.0 1363.0L1758.0 1362.7L1760.0 1362.4L1762.0 1363.1L1764.0 1363.9L1766.0 1364.7L1768.0 1365.6L1770.0 1366.4L1772.0 1366.9L1774.0 1366.8L1776.0 1366.6L1778.0 1366.2L1780.0 1365.7L1782.0 1365.2L1784.0 1365.3L1786.0 1365.5L1788.0 1365.8L1790.0 1366.3L1792.0 1366.8L1794.0 1367.2L1796.0 1367.5L1798.0 1367.9L1800.0 1368.4L1802.0 1369.0L1804.0 1369.6L1806.0 1370.0L1808.0 1370.3L1810.0 1370.5L1812.0 1370.1L1814.0 1369.7L1816.0 1369.3L1818.0 1369.4L1820.0 1369.6L1822.0 1369.7L1824.0 1369.7L1826.0 1369.8L1828.0 1369.5L1830.0 1369.0L1832.0 1368.4L1834.0 1368.4L1836.0 1368.7L1838.0 1368.9L1840.0 1369.2L1842.0 1369.6L1844.0 1370.0L1846.0 1370.4L1848.0 1370.9L1850.0 1371.2L1852.0 1371.5L1854.0 1371.7L1856.0 1371.5L1858.0 1371.1L1860.0 1370.6L1862.0 1370.8L1864.0 1371.0L1866.0 1371.3L1868.0 1371.6L1870.0 1371.8L1872.0 1371.9L1874.0 1371.4L1876.0 1370.9L1878.0 1370.7L1880.0 1370.8L1882.0 1370.9L1884.0 1371.2L1886.0 1371.6L1888.0 1372.0L1890.0 1371.6L1892.0 1371.2L1894.0 1370.8L1896.0 1370.8L1898.0 1370.8L1900.0 1370.9L1902.0 1371.2L1904.0 1371.5L1906.0 1371.9L1908.0 1372.3L1910.0 1372.6L1912.0 1373.1L1914.0 1373.6L1916.0 1374.0L1918.0 1373.4L1920.0 1372.8L1922.0 1372.2L1924.0 1371.5L1926.0 1370.9L1928.0 1370.6L1930.0 1371.0L1932.0 1371.4L1934.0 1371.9L1936.0 1372.5L1938.0 1373.0L1940.0 1373.6L1942.0 1374.1L1944.0 1374.5L1946.0 1374.2L1948.0 1373.9L1950.0 1373.2L1952.0 1371.3L1954.0 1369.4L1956.0 1368.0L1958.0 1367.2L1960.0 1366.4L1962.0 1367.3L1964.0 1368.8L1966.0 1370.3L1968.0 1371.0L1970.0 1371.7L1972.0 1372.2L1974.0 1371.7L1976.0 1371.2L1978.0 1371.0L1980.0 1371.1L1982.0 1371.3L1984.0 1371.6L1986.0 1372.1L1988.0 1372.5L1990.0 1372.5L1992.0 1372.4L1994.0 1372.3L1996.0 1372.0L1998.0 1371.8L2000.0 1371.6L2002.0 1371.3L2004.0 1371.1L2006.0 1370.7L2008.0 1370.0L2010.0 1369.3L2012.0 1369.0L2014.0 1369.0L2016.0 1368.9L2018.0 1369.6L2020.0 1370.4L2022.0 1371.2L2024.0 1371.8L2026.0 1372.4L2028.0 1372.7L2030.0 1372.5L2032.0 1372.3L2034.0 1371.8L2036.0 1371.1L2038.0 1370.5L2040.0 1370.7L2042.0 1371.2L2044.0 1371.7L2046.0 1372.0L2048.0 1372.3L2050.0 1372.4L2052.0 1371.3L2054.0 1370.1L2056.0 1369.0L2058.0 1368.0L2060.0 1366.9L2062.0 1366.3L2064.0 1366.0L2066.0 1365.7L2068.0 1366.0L2070.0 1366.5L2072.0 1367.0L2074.0 1367.5L2076.0 1368.0L2078.0 1368.6L2080.0 1369.4L2082.0 1370.2L2084.0 1371.0L2086.0 1371.8L2088.0 1372.6L2090.0 1372.5L2092.0 1371.9L2094.0 1371.4L2096.0 1371.0L2098.0 1370.8L2100.0 1370.5L2102.0 1370.9L2104.0 1371.2L2106.0 1371.4L2108.0 1371.2L2110.0 1371.0L2112.0 1371.0L2114.0 1371.0L2116.0 1371.1L2118.0 1371.6" stroke="#0000FF" stroke-width="13.5"/>
<path d="M455.0 1382.0L455.0 1382.0L455.0 1382.0L455.0 1382.0L456.0 1382.0L458.0 1381.9L460.0 1381.9L462.0 1381.9L464.0 1381.8L466.0 1381.8L468.0 1381.7L470.0 1381.7L472.0 1381.6L474.0 1381.5L476.0 1381.5L478.0 1381.4L480.0 1381.3L482.0 1381.2L484.0 1381.2L486.0 1381.1L488.0 1381.0L490.0 1380.9L492.0 1380.8L494.0 1380.7L496.0 1380.6L498.0 1380.5L500.0 1380.4L502.0 1380.3L504.0 1380.2L506.0 1380.1L508.0 1380.0L510.0 1379.9L512.0 1379.7L514.0 1379.6L516.0 1379.5L518.0 1379.4L520.0 1379.3L522.0 1379.2L524.0 1379.1L526.0 1378.9L528.0 1378.8L530.0 1378.6L532.0 1378.5L534.0 1378.4L536.0 1378.2L538.0 1378.1L540.0 1377.9L542.0 1377.7L544.0 1377.5L546.0 1377.3L548.0 1377.2L550.0 1377.0L552.0 1376.8L554.0 1376.7L556.0 1376.5L558.0 1376.3L560.0 1376.1L562.0 1375.9L564.0 1375.7L566.0 1375.4L568.0 1375.2L570.0 1375.1L572.0 1374.9L574.0 1374.8L576.0 1374.6L578.0 1374.4L580.0 1374.2L582.0 1374.0L584.0 1373.7L586.0 1373.4L588.0 1373.0L590.0 1372.7L592.0 1372.4L594.0 1372.1L596.0 1371.8L598.0 1371.5L600.0 1371.2L602.0 1370.9L604.0 1370.6L606.0 1370.3L608.0 1370.0L610.0 1369.7L612.0 1369.3L614.0 1368.9L616.0 1368.5L618.0 1368.1L620.0 1367.8L622.0 1367.5L624.0 1367.2L626.0 1367.0L628.0 1366.7L630.0 1366.3L632.0 1365.8L634.0 1365.2L636.0 1364.7L638.0 1364.1L640.0 1363.6L642.0 1363.0L644.0 1362.4L646.0 1361.7L648.0 1361.0L650.0 1360.2L652.0 1359.4L654.0 1358.6L656.0 1357.8L658.0 1356.9L660.0 1356.0L662.0 1355.1L664.0 1354.1L666.0 1353.2L668.0 1352.2L670.0 1351.2L672.0 1350.1L674.0 1349.1L676.0 1348.0L678.0 1347.0L680.0 1345.9L682.0 1344.7L684.0 1343.3L686.0 1341.8L688.0 1340.0L690.0 1338.3L692.0 1336.6L694.0 1335.1L696.0 1333.5L698.0 1332.0L700.0 1330.6L702.0 1329.2L704.0 1327.4L706.0 1325.6L708.0 1323.7L710.0 1321.5L712.0 1319.4L714.0 1317.3L716.0 1315.4L718.0 1313.4L720.0 1311.5L722.0 1309.6L724.0 1307.7L726.0 1305.9L728.0 1303.9L730.0 1302.0L732.0 1300.1L734.0 1298.1L736.0 1296.1L738.0 1293.9L740.0 1291.6L742.0 1289.2L744.0 1286.7L746.0 1284.2L748.0 1281.4L750.0 1278.6L752.0 1275.7L754.0 1272.7L756.0 1269.7L758.0 1266.8L760.0 1264.4L762.0 1262.0L764.0 1259.5L766.0 1256.9L768.0 1254.3L770.0 1251.1L772.0 1247.6L774.0 1244.0L776.0 1240.5L778.0 1237.0L780.0 1233.5L782.0 1230.4L784.0 1227.4L786.0 1224.1L788.0 1220.5L790.0 1216.9L792.0 1213.1L794.0 1209.1L796.0 1205.0L798.0 1201.6L800.0 1198.3L802.0 1195.1L804.0 1191.7L806.0 1188.4L808.0 1185.0L810.0 1181.6L812.0 1178.3L814.0 1175.2L816.0 1172.5L818.0 1169.8L820.0 1166.8L822.0 1163.6L824.0 1160.4L826.0 1157.1L828.0 1153.8L830.0 1150.6L832.0 1147.9L834.0 1145.4L836.0 1142.8L838.0 1140.0L840.0 1137.3L842.0 1134.5L844.0 1131.5L846.0 1128.6L848.0 1125.7L850.0 1122.9L852.0 1120.2L854.0 1118.0L856.0 1116.0L858.0 1114.0L860.0 1112.1L862.0 1110.0L864.0 1107.7L866.0 1105.2L868.0 1103.0L870.0 1101.1L872.0 1099.6L874.0 1098.2L876.0 1097.3L878.0 1096.5L880.0 1095.7L882.0 1095.7L884.0 1095.8L886.0 1095.9L888.0 1096.0L890.0 1096.2L892.0 1096.2L894.0 1095.9L896.0 1095.7L898.0 1095.2L900.0 1094.7L902.0 1094.2L904.0 1093.7L906.0 1093.2L908.0 1092.8L910.0 1092.6L912.0 1092.5L914.0 1092.5L916.0 1093.1L918.0 1093.7L920.0 1094.6L922.0 1095.6L924.0 1096.8L926.0 1097.7L928.0 1098.7L930.0 1099.6L932.0 1100.4L934.0 1101.2L936.0 1101.7L938.0 1101.9L940.0 1102.1L942.0 1102.1L944.0 1102.0L946.0 1101.8L948.0 1101.8L950.0 1102.1L952.0 1102.3L954.0 1103.0L956.0 1103.8L958.0 1104.7L960.0 1105.9L962.0 1107.1L964.0 1108.5L966.0 1110.0L968.0 1111.7L970.0 1112.9L972.0 1113.7L974.0 1114.4L976.0 1114.7L978.0 1114.8L980.0 1114.8L982.0 1115.6L984.0 1116.4L986.0 1117.2L988.0 1118.7L990.0 1120.3L992.0 1121.9L994.0 1123.4L996.0 1125.0L998.0 1126.5L1000.0 1127.9L1002.0 1129.2L1004.0 1130.6L1006.0 1132.0L1008.0 1133.4L1010.0 1134.4L1012.0 1135.4L1014.0 1136.4L1016.0 1137.0L1018.0 1137.7L1020.0 1138.4L1022.0 1139.2L1024.0 1140.0L1026.0 1140.9L1028.0 1141.8L1030.0 1142.8L1032.0 1144.0L1034.0 1145.3L1036.0 1146.5L1038.0 1148.0L1040.0 1149.4L1042.0 1150.8L1044.0 1151.8L1046.0 1152.9L1048.0 1153.7L1050.0 1154.4L1052.0 1155.0L1054.0 1156.2L1056.0 1157.6L1058.0 1159.1L1060.0 1160.7L1062.0 1162.4L1064.0 1164.0L1066.0 1165.3L1068.0 1166.6L1070.0 1167.9L1072.0 1169.4L1074.0 1170.8L1076.0 1172.1L1078.0 1173.1L1080.0 1174.2L1082.0 1175.2L1084.0 1176.2L1086.0 1177.3L1088.0 1178.8L1090.0 1180.4L1092.0 1182.0L1094.0 1183.7L1096.0 1185.5L1098.0 1187.2L1100.0 1188.7L1102.0 1190.3L1104.0 1191.6L1106.0 1192.8L1108.0 1194.0L1110.0 1195.1L1112.0 1196.1L1114.0 1197.2L1116.0 1198.4L1118.0 1199.7L1120.0 1200.9L1122.0 1202.2L1124.0 1203.5L1126.0 1204.5L1128.0 1205.1L1130.0 1205.7L1132.0 1206.4L1134.0 1207.2L1136.0 1207.9L1138.0 1209.6L1140.0 1211.5L1142.0 1213.3L1144.0 1215.4L1146.0 1217.4L1148.0 1219.3L1150.0 1220.8L1152.0 1222.3L1154.0 1223.7L1156.0 1224.9L1158.0 1226.0L1160.0 1226.7L1162.0 1227.3L1164.0 1227.8L1166.0 1228.0L1168.0 1228.2L1170.0 1228.6L1172.0 1230.2L1174.0 1231.8L1176.0 1233.5L1178.0 1235.3L1180.0 1237.1L1182.0 1238.2L1184.0 1238.8L1186.0 1239.5L1188.0 1240.2L1190.0 1240.9L1192.0 1241.7L1194.0 1242.6L1196.0 1243.5L1198.0 1244.5L1200.0 1245.9L1202.0 1247.4L1204.0 1248.6L1206.0 1249.6L1208.0 1250.5L1210.0 1250.7L1212.0 1250.5L1214.0 1250.3L1216.0 1250.8L1218.0 1251.5L1220.0 1252.2L1222.0 1254.0L1224.0 1255.8L1226.0 1257.6L1228.0 1259.4L1230.0 1261.1L1232.0 1262.6L1234.0 1263.7L1236.0 1264.8L1238.0 1265.7L1240.0 1266.6L1242.0 1267.5L1244.0 1268.4L1246.0 1269.4L1248.0 1270.3L1250.0 1271.2L1252.0 1272.1L1254.0 1272.9L1256.0 1273.4L1258.0 1273.9L1260.0 1274.1L1262.0 1274.2L1264.0 1274.2L1266.0 1274.7L1268.0 1275.3L1270.0 1275.9L1272.0 1277.2L1274.0 1278.6L1276.0 1279.9L1278.0 1280.9L1280.0 1282.0L1282.0 1282.9L1284.0 1283.8L1286.0 1284.6L1288.0 1285.8L1290.0 1287.0L1292.0 1288.3L1294.0 1289.6L1296.0 1290.9L1298.0 1292.2L1300.0 1293.4L1302.0 1294.7L1304.0 1295.6L1306.0 1296.1L1308.0 1296.6L1310.0 1296.6L1312.0 1296.2L1314.0 1295.8L1316.0 1296.1L1318.0 1296.7L1320.0 1297.3L1322.0 1298.3L1324.0 1299.4L1326.0 1300.3L1328.0 1300.8L1330.0 1301.3L1332.0 1301.7L1334.0 1302.1L1336.0 1302.6L1338.0 1303.1L1340.0 1303.7L1342.0 1304.3L1344.0 1305.3L1346.0 1306.4L1348.0 1307.6L1350.0 1308.6L1352.0 1309.5L1354.0 1310.4L1356.0 1310.7L1358.0 1311.1L1360.0 1311.5L1362.0 1312.0L1364.0 1312.4L1366.0 1313.2L1368.0 1314.1L1370.0 1315.0L1372.0 1315.6L1374.0 1316.2L1376.0 1316.8L1378.0 1316.9L1380.0 1317.1L1382.0 1317.3L1384.0 1317.8L1386.0 1318.3L1388.0 1318.8L1390.0 1319.2L1392.0 1319.6L1394.0 1319.8L1396.0 1319.9L1398.0 1320.1L1400.0 1320.3L1402.0 1320.5L1404.0 1320.8L1406.0 1321.3L1408.0 1321.8L1410.0 1322.6L1412.0 1323.7L1414.0 1324.7L1416.0 1325.3L1418.0 1325.7L1420.0 1326.1L1422.0 1325.7L1424.0 1325.2L1426.0 1324.8L1428.0 1325.3L1430.0 1325.9L1432.0 1326.7L1434.0 1328.4L1436.0 1330.0L1438.0 1331.1L1440.0 1331.7L1442.0 1332.3L1444.0 1332.3L1446.0 1332.0L1448.0 1331.7L1450.0 1331.8L1452.0 1331.8L1454.0 1331.9L1456.0 1332.0L1458.0 1332.1L1460.0 1332.3L1462.0 1332.6L1464.0 1332.9L1466.0 1333.4L1468.0 1334.1L1470.0 1334.8L1472.0 1335.4L1474.0 1335.9L1476.0 1336.4L1478.0 1336.5L1480.0 1336.7L1482.0 1336.9L1484.0 1337.2L1486.0 1337.5L1488.0 1338.0L1490.0 1338.6L1492.0 1339.3L1494.0 1339.9L1496.0 1340.5L1498.0 1341.2L1500.0 1341.4L1502.0 1341.6L1504.0 1341.8L1506.0 1341.9L1508.0 1342.1L1510.0 1342.4L1512.0 1342.9L1514.0 1343.3L1516.0 1343.6L1518.0 1343.7L1520.0 1343.7L1522.0 1343.3L1524.0 1342.8L1526.0 1342.3L1528.0 1342.3L1530.0 1342.4L1532.0 1342.6L1534.0 1343.5L1536.0 1344.4L1538.0 1345.2L1540.0 1346.1L1542.0 1347.0L1544.0 1347.8L1546.0 1348.7L1548.0 1349.6L1550.0 1349.8L1552.0 1349.9L1554.0 1350.0L1556.0 1349.3L1558.0 1348.7L1560.0 1348.2L1562.0 1348.6L1564.0 1349.0L1566.0 1349.7L1568.0 1350.6L1570.0 1351.5L1572.0 1351.8L1574.0 1351.7L1576.0 1351.5L1578.0 1351.0L1580.0 1350.4L1582.0 1349.9L1584.0 1349.6L1586.0 1349.4L1588.0 1349.4L1590.0 1350.3L1592.0 1351.2L1594.0 1352.5L1596.0 1354.2L1598.0 1355.9L1600.0 1357.0L1602.0 1357.8L1604.0 1358.6L1606.0 1358.3L1608.0 1357.8L1610.0 1357.4L1612.0 1356.9L1614.0 1356.4L1616.0 1356.1L1618.0 1356.1L1620.0 1356.2L1622.0 1356.6L1624.0 1357.2L1626.0 1357.8L1628.0 1358.8L1630.0 1359.9L1632.0 1360.9L1634.0 1360.9L1636.0 1361.0L1638.0 1360.8L1640.0 1360.3L1642.0 1359.7L1644.0 1359.4L1646.0 1359.6L1648.0 1359.7L1650.0 1359.9L1652.0 1360.2L1654.0 1360.4L1656.0 1360.6L1658.0 1360.8L1660.0 1360.9L1662.0 1360.6L1664.0 1360.3L1666.0 1360.1L1668.0 1360.1L1670.0 1360.1L1672.0 1360.2L1674.0 1360.5L1676.0 1360.8L1678.0 1360.6L1680.0 1360.2L1682.0 1359.8L1684.0 1359.9L1686.0 1360.0L1688.0 1360.3L1690.0 1361.4L1692.0 1362.6L1694.0 1363.6L1696.0 1364.4L1698.0 1365.3L1700.0 1365.4L1702.0 1365.0L1704.0 1364.6L1706.0 1363.9L1708.0 1363.1L1710.0 1362.3L1712.0 1362.5L1714.0 1362.7L1716.0 1363.1L1718.0 1364.0L1720.0 1365.0L1722.0 1365.7L1724.0 1366.1L1726.0 1366.5L1728.0 1366.2L1730.0 1365.6L1732.0 1365.0L1734.0 1364.8L1736.0 1364.7L1738.0 1364.7L1740.0 1365.6L1742.0 1366.5L1744.0 1367.1L1746.0 1366.9L1748.0 1366.7L1750.0 1366.3L1752.0 1365.7L1754.0 1365.1L1756.0 1365.4L1758.0 1366.1L1760.0 1366.8L1762.0 1367.7L1764.0 1368.7L1766.0 1369.5L1768.0 1369.5L1770.0 1369.6L1772.0 1369.2L1774.0 1368.2L1776.0 1367.2L1778.0 1366.7L1780.0 1366.7L1782.0 1366.6L1784.0 1367.6L1786.0 1368.8L1788.0 1370.0L1790.0 1370.4L1792.0 1370.9L1794.0 1371.1L1796.0 1370.8L1798.0 1370.4L1800.0 1370.2L1802.0 1370.0L1804.0 1369.9L1806.0 1369.6L1808.0 1369.3L1810.0 1368.9L1812.0 1368.8L1814.0 1368.6L1816.0 1368.6L1818.0 1369.5L1820.0 1370.5L1822.0 1371.3L1824.0 1372.1L1826.0 1372.8L1828.0 1373.1L1830.0 1372.9L1832.0 1372.8L1834.0 1372.4L1836.0 1372.0L1838.0 1371.6L1840.0 1371.4L1842.0 1371.3L1844.0 1371.2L1846.0 1371.1L1848.0 1371.0L1850.0 1370.8L1852.0 1370.8L1854.0 1370.7L1856.0 1370.9L1858.0 1371.3L1860.0 1371.7L1862.0 1371.7L1864.0 1371.5L1866.0 1371.4L1868.0 1371.1L1870.0 1370.8L1872.0 1370.7L1874.0 1370.8L1876.0 1371.0L1878.0 1371.0L1880.0 1370.9L1882.0 1370.7L1884.0 1370.9L1886.0 1371.2L1888.0 1371.4L1890.0 1371.6L1892.0 1371.8L1894.0 1371.9L1896.0 1371.6L1898.0 1371.4L1900.0 1371.4L1902.0 1372.1L1904.0 1372.7L1906.0 1373.2L1908.0 1373.6L1910.0 1374.0L1912.0 1373.3L1914.0 1372.2L1916.0 1371.2L1918.0 1370.7L1920.0 1370.2L1922.0 1370.0L1924.0 1370.8L1926.0 1371.6L1928.0 1372.1L1930.0 1372.3L1932.0 1372.5L1934.0 1372.6L1936.0 1372.7L1938.0 1372.8L1940.0 1372.9L1942.0 1373.0L1944.0 1373.1L1946.0 1373.0L1948.0 1372.9L1950.0 1372.8L1952.0 1372.8L1954.0 1372.9L1956.0 1372.7L1958.0 1372.2L1960.0 1371.8L1962.0 1371.4L1964.0 1371.0L1966.0 1370.6L1968.0 1370.4L1970.0 1370.2L1972.0 1370.0L1974.0 1369.8L1976.0 1369.5L1978.0 1369.6L1980.0 1370.2L1982.0 1370.8L1984.0 1371.6L1986.0 1372.5L1988.0 1373.5L1990.0 1373.4L1992.0 1373.1L1994.0 1372.8L1996.0 1372.6L1998.0 1372.5L2000.0 1372.4L2002.0 1372.6L2004.0 1372.8L2006.0 1372.7L2008.0 1372.1L2010.0 1371.4L2012.0 1371.5L2014.0 1372.0L2016.0 1372.5L2018.0 1373.3L2020.0 1374.1L2022.0 1374.9L2024.0 1374.4L2026.0 1374.0L2028.0 1373.5L2030.0 1373.0L2032.0 1372.5L2034.0 1372.4L2036.0 1372.6L2038.0 1372.9L2040.0 1373.2L2042.0 1373.6L2044.0 1373.9L2046.0 1373.8L2048.0 1373.7L2050.0 1373.5L2052.0 1373.1L2054.0 1372.7L2056.0 1372.3L2058.0 1372.0L2060.0 1371.6L2062.0 1371.7L2064.0 1372.2L2066.0 1372.7L2068.0 1373.7L2070.0 1374.8L2072.0 1375.9L2074.0 1375.7L2076.0 1375.6L2078.0 1375.3L2080.0 1374.9L2082.0 1374.5L2084.0 1374.2L2086.0 1374.0L2088.0 1373.8L2090.0 1373.1L2092.0 1372.1L2094.0 1371.0L2096.0 1371.0L2098.0 1371.1L2100.0 1371.3L2102.0 1372.1L2104.0 1372.9L2106.0 1373.7L2108.0 1374.7L2110.0 1375.6L2112.0 1376.3L2114.0 1376.9L2116.0 1377.5L2118.0 1376.2" stroke="#6699CC" stroke-width="13.5"/>
<path d="M455.0 1382.0L455.0 1382.0L455.0 1382.0L455.0 1382.0L456.0 1382.0L458.0 1382.0L460.0 1382.0L462.0 1381.9L464.0 1381.9L466.0 1381.9L468.0 1381.8L470.0 1381.8L472.0 1381.8L474.0 1381.7L476.0 1381.7L478.0 1381.6L480.0 1381.6L482.0 1381.5L484.0 1381.4L486.0 1381.4L488.0 1381.3L490.0 1381.3L492.0 1381.2L494.0 1381.2L496.0 1381.1L498.0 1381.0L500.0 1381.0L502.0 1380.9L504.0 1380.8L506.0 1380.7L508.0 1380.6L510.0 1380.6L512.0 1380.5L514.0 1380.4L516.0 1380.3L518.0 1380.2L520.0 1380.1L522.0 1380.0L524.0 1379.8L526.0 1379.7L528.0 1379.7L530.0 1379.5L532.0 1379.4L534.0 1379.3L536.0 1379.2L538.0 1379.1L540.0 1379.0L542.0 1378.8L544.0 1378.6L546.0 1378.5L548.0 1378.3L550.0 1378.1L552.0 1378.0L554.0 1377.8L556.0 1377.6L558.0 1377.5L560.0 1377.3L562.0 1377.1L564.0 1376.9L566.0 1376.8L568.0 1376.6L570.0 1376.5L572.0 1376.4L574.0 1376.2L576.0 1376.0L578.0 1375.8L580.0 1375.6L582.0 1375.3L584.0 1375.1L586.0 1374.9L588.0 1374.7L590.0 1374.5L592.0 1374.4L594.0 1374.3L596.0 1374.1L598.0 1374.0L600.0 1373.9L602.0 1373.8L604.0 1373.6L606.0 1373.5L608.0 1373.2L610.0 1372.9L612.0 1372.5L614.0 1372.2L616.0 1371.9L618.0 1371.5L620.0 1371.3L622.0 1371.1L624.0 1370.9L626.0 1370.8L628.0 1370.7L630.0 1370.6L632.0 1370.5L634.0 1370.3L636.0 1370.1L638.0 1369.8L640.0 1369.5L642.0 1369.0L644.0 1368.3L646.0 1367.5L648.0 1366.6L650.0 1365.5L652.0 1364.5L654.0 1363.5L656.0 1362.5L658.0 1361.5L660.0 1360.5L662.0 1359.6L664.0 1358.7L666.0 1357.8L668.0 1357.0L670.0 1356.0L672.0 1355.1L674.0 1354.2L676.0 1353.3L678.0 1352.4L680.0 1351.7L682.0 1351.3L684.0 1350.9L686.0 1350.7L688.0 1350.5L690.0 1350.4L692.0 1350.1L694.0 1349.6L696.0 1349.0L698.0 1348.5L700.0 1347.8L702.0 1347.1L704.0 1346.0L706.0 1344.9L708.0 1343.6L710.0 1342.0L712.0 1340.4L714.0 1338.9L716.0 1337.6L718.0 1336.3L720.0 1335.3L722.0 1334.5L724.0 1333.6L726.0 1332.5L728.0 1331.4L730.0 1330.1L732.0 1328.1L734.0 1326.1L736.0 1324.0L738.0 1321.9L740.0 1319.8L742.0 1318.0L744.0 1316.5L746.0 1314.9L748.0 1313.3L750.0 1311.6L752.0 1309.9L754.0 1308.1L756.0 1306.3L758.0 1304.3L760.0 1302.1L762.0 1299.9L764.0 1297.7L766.0 1295.4L768.0 1293.1L770.0 1290.8L772.0 1288.5L774.0 1286.1L776.0 1283.7L778.0 1281.4L780.0 1279.0L782.0 1277.1L784.0 1275.2L786.0 1273.3L788.0 1271.4L790.0 1269.5L792.0 1267.5L794.0 1265.4L796.0 1263.3L798.0 1261.2L800.0 1259.0L802.0 1256.7L804.0 1254.1L806.0 1251.5L808.0 1248.8L810.0 1245.8L812.0 1242.7L814.0 1239.8L816.0 1237.1L818.0 1234.4L820.0 1232.1L822.0 1230.0L824.0 1227.9L826.0 1225.8L828.0 1223.8L830.0 1221.8L832.0 1219.5L834.0 1217.2L836.0 1214.8L838.0 1212.2L840.0 1209.5L842.0 1206.8L844.0 1204.1L846.0 1201.4L848.0 1199.0L850.0 1196.7L852.0 1194.5L854.0 1192.5L856.0 1190.6L858.0 1188.7L860.0 1187.0L862.0 1185.4L864.0 1183.8L866.0 1182.2L868.0 1180.8L870.0 1179.1L872.0 1177.3L874.0 1175.4L876.0 1173.6L878.0 1171.7L880.0 1169.9L882.0 1168.5L884.0 1167.3L886.0 1166.1L888.0 1165.2L890.0 1164.4L892.0 1163.5L894.0 1162.4L896.0 1161.5L898.0 1160.6L900.0 1159.9L902.0 1159.2L904.0 1158.4L906.0 1157.7L908.0 1157.0L910.0 1156.0L912.0 1155.0L914.0 1154.2L916.0 1153.7L918.0 1153.3L920.0 1153.0L922.0 1152.9L924.0 1152.8L926.0 1152.5L928.0 1152.0L930.0 1151.6L932.0 1151.3L934.0 1150.9L936.0 1150.7L938.0 1151.4L940.0 1152.0L942.0 1152.6L944.0 1153.0L946.0 1153.5L948.0 1153.4L950.0 1153.0L952.0 1152.6L954.0 1152.8L956.0 1153.1L958.0 1153.6L960.0 1154.8L962.0 1156.1L964.0 1157.3L966.0 1158.2L968.0 1159.1L970.0 1159.7L972.0 1159.9L974.0 1160.0L976.0 1160.2L978.0 1160.3L980.0 1160.3L982.0 1160.7L984.0 1161.0L986.0 1161.4L988.0 1162.2L990.0 1163.0L992.0 1163.8L994.0 1164.8L996.0 1165.9L998.0 1166.9L1000.0 1167.8L1002.0 1168.8L1004.0 1169.7L1006.0 1170.5L1008.0 1171.4L1010.0 1171.9L1012.0 1172.4L1014.0 1173.0L1016.0 1174.0L1018.0 1175.0L1020.0 1176.0L1022.0 1177.3L1024.0 1178.5L1026.0 1179.3L1028.0 1180.0L1030.0 1180.6L1032.0 1181.4L1034.0 1182.3L1036.0 1183.2L1038.0 1184.2L1040.0 1185.2L1042.0 1186.2L1044.0 1187.2L1046.0 1188.2L1048.0 1189.5L1050.0 1191.1L1052.0 1192.8L1054.0 1194.3L1056.0 1195.7L1058.0 1197.2L1060.0 1198.1L1062.0 1198.9L1064.0 1199.7L1066.0 1200.7L1068.0 1201.6L1070.0 1202.5L1072.0 1203.7L1074.0 1204.8L1076.0 1205.6L1078.0 1206.4L1080.0 1207.1L1082.0 1207.9L1084.0 1208.8L1086.0 1209.7L1088.0 1210.7L1090.0 1211.7L1092.0 1212.6L1094.0 1213.3L1096.0 1213.9L1098.0 1214.5L1100.0 1214.8L1102.0 1215.2L1104.0 1215.7L1106.0 1216.3L1108.0 1217.0L1110.0 1218.1L1112.0 1219.5L1114.0 1220.8L1116.0 1222.0L1118.0 1223.2L1120.0 1224.4L1122.0 1225.8L1124.0 1227.1L1126.0 1228.5L1128.0 1230.0L1130.0 1231.4L1132.0 1232.5L1134.0 1233.4L1136.0 1234.2L1138.0 1234.9L1140.0 1235.6L1142.0 1236.3L1144.0 1237.1L1146.0 1237.9L1148.0 1238.7L1150.0 1239.7L1152.0 1240.7L1154.0 1241.6L1156.0 1242.4L1158.0 1243.2L1160.0 1243.8L1162.0 1244.4L1164.0 1245.0L1166.0 1246.2L1168.0 1247.4L1170.0 1248.6L1172.0 1249.9L1174.0 1251.2L1176.0 1252.3L1178.0 1253.1L1180.0 1253.8L1182.0 1254.1L1184.0 1254.1L1186.0 1254.2L1188.0 1254.5L1190.0 1254.8L1192.0 1255.2L1194.0 1256.4L1196.0 1257.6L1198.0 1258.8L1200.0 1259.5L1202.0 1260.3L1204.0 1260.9L1206.0 1261.3L1208.0 1261.7L1210.0 1262.2L1212.0 1262.7L1214.0 1263.2L1216.0 1264.0L1218.0 1264.8L1220.0 1265.8L1222.0 1267.5L1224.0 1269.3L1226.0 1271.0L1228.0 1272.7L1230.0 1274.5L1232.0 1275.8L1234.0 1276.7L1236.0 1277.7L1238.0 1278.6L1240.0 1279.5L1242.0 1280.4L1244.0 1281.0L1246.0 1281.5L1248.0 1281.9L1250.0 1281.8L1252.0 1281.7L1254.0 1281.8L1256.0 1282.4L1258.0 1282.9L1260.0 1284.1L1262.0 1285.8L1264.0 1287.5L1266.0 1288.8L1268.0 1290.0L1270.0 1291.3L1272.0 1291.6L1274.0 1291.9L1276.0 1292.4L1278.0 1293.1L1280.0 1293.8L1282.0 1294.6L1284.0 1295.6L1286.0 1296.5L1288.0 1297.3L1290.0 1298.0L1292.0 1298.7L1294.0 1299.3L1296.0 1299.9L1298.0 1300.5L1300.0 1300.9L1302.0 1301.4L1304.0 1301.6L1306.0 1301.5L1308.0 1301.4L1310.0 1301.5L1312.0 1301.7L1314.0 1302.0L1316.0 1303.0L1318.0 1304.3L1320.0 1305.6L1322.0 1306.8L1324.0 1307.9L1326.0 1309.1L1328.0 1310.2L1330.0 1311.3L1332.0 1312.5L1334.0 1313.7L1336.0 1315.0L1338.0 1315.7L1340.0 1316.0L1342.0 1316.4L1344.0 1316.2L1346.0 1316.0L1348.0 1315.7L1350.0 1315.7L1352.0 1315.7L1354.0 1315.7L1356.0 1315.7L1358.0 1315.7L1360.0 1315.9L1362.0 1316.3L1364.0 1316.8L1366.0 1317.7L1368.0 1318.9L1370.0 1320.1L1372.0 1321.1L1374.0 1322.0L1376.0 1322.9L1378.0 1323.7L1380.0 1324.4L1382.0 1325.0L1384.0 1325.3L1386.0 1325.7L1388.0 1325.9L1390.0 1326.1L1392.0 1326.4L1394.0 1326.9L1396.0 1327.5L1398.0 1328.1L1400.0 1328.1L1402.0 1328.2L1404.0 1328.2L1406.0 1328.3L1408.0 1328.3L1410.0 1328.6L1412.0 1329.3L1414.0 1330.0L1416.0 1330.6L1418.0 1331.2L1420.0 1331.7L1422.0 1332.2L1424.0 1332.6L1426.0 1333.1L1428.0 1334.1L1430.0 1335.1L1432.0 1336.0L1434.0 1336.8L1436.0 1337.7L1438.0 1338.3L1440.0 1338.7L1442.0 1339.2L1444.0 1339.8L1446.0 1340.6L1448.0 1341.3L1450.0 1341.6L1452.0 1341.7L1454.0 1341.8L1456.0 1341.4L1458.0 1341.0L1460.0 1340.8L1462.0 1340.7L1464.0 1340.7L1466.0 1340.9L1468.0 1341.4L1470.0 1341.8L1472.0 1342.3L1474.0 1342.7L1476.0 1343.2L1478.0 1343.6L1480.0 1344.0L1482.0 1344.4L1484.0 1345.2L1486.0 1346.0L1488.0 1346.6L1490.0 1346.8L1492.0 1347.1L1494.0 1346.8L1496.0 1346.3L1498.0 1345.7L1500.0 1345.5L1502.0 1345.4L1504.0 1345.3L1506.0 1345.7L1508.0 1346.1L1510.0 1346.6L1512.0 1347.5L1514.0 1348.4L1516.0 1349.3L1518.0 1350.3L1520.0 1351.3L1522.0 1351.3L1524.0 1351.0L1526.0 1350.7L1528.0 1350.2L1530.0 1349.6L1532.0 1349.1L1534.0 1349.1L1536.0 1349.2L1538.0 1349.2L1540.0 1349.3L1542.0 1349.4L1544.0 1349.4L1546.0 1349.4L1548.0 1349.3L1550.0 1349.0L1552.0 1348.6L1554.0 1348.3L1556.0 1348.3L1558.0 1348.2L1560.0 1348.4L1562.0 1349.3L1564.0 1350.2L1566.0 1351.4L1568.0 1352.7L1570.0 1354.1L1572.0 1354.8L1574.0 1355.0L1576.0 1355.2L1578.0 1355.1L1580.0 1354.8L1582.0 1354.6L1584.0 1354.8L1586.0 1355.1L1588.0 1355.2L1590.0 1355.0L1592.0 1354.7L1594.0 1354.8L1596.0 1355.0L1598.0 1355.3L1600.0 1355.7L1602.0 1356.2L1604.0 1356.6L1606.0 1356.4L1608.0 1356.1L1610.0 1355.9L1612.0 1356.0L1614.0 1356.2L1616.0 1356.5L1618.0 1357.4L1620.0 1358.3L1622.0 1359.2L1624.0 1360.3L1626.0 1361.3L1628.0 1361.6L1630.0 1361.8L1632.0 1362.0L1634.0 1361.7L1636.0 1361.5L1638.0 1361.2L1640.0 1360.9L1642.0 1360.7L1644.0 1360.5L1646.0 1360.5L1648.0 1360.5L1650.0 1360.9L1652.0 1361.5L1654.0 1362.2L1656.0 1362.1L1658.0 1361.9L1660.0 1361.7L1662.0 1361.4L1664.0 1361.1L1666.0 1361.0L1668.0 1361.4L1670.0 1361.8L1672.0 1362.2L1674.0 1362.5L1676.0 1362.9L1678.0 1363.3L1680.0 1363.8L1682.0 1364.3L1684.0 1364.6L1686.0 1364.9L1688.0 1365.0L1690.0 1364.7L1692.0 1364.4L1694.0 1364.1L1696.0 1363.6L1698.0 1363.0L1700.0 1363.0L1702.0 1363.4L1704.0 1363.7L1706.0 1364.3L1708.0 1365.0L1710.0 1365.6L1712.0 1365.8L1714.0 1365.9L1716.0 1366.1L1718.0 1366.5L1720.0 1366.8L1722.0 1367.0L1724.0 1366.9L1726.0 1366.8L1728.0 1366.7L1730.0 1366.4L1732.0 1366.2L1734.0 1365.9L1736.0 1365.6L1738.0 1365.3L1740.0 1365.1L1742.0 1364.8L1744.0 1364.7L1746.0 1364.8L1748.0 1365.0L1750.0 1364.9L1752.0 1364.7L1754.0 1364.4L1756.0 1364.6L1758.0 1365.0L1760.0 1365.3L1762.0 1366.9L1764.0 1368.5L1766.0 1370.0L1768.0 1370.8L1770.0 1371.6L1772.0 1371.8L1774.0 1371.1L1776.0 1370.4L1778.0 1369.8L1780.0 1369.3L1782.0 1368.8L1784.0 1368.8L1786.0 1368.9L1788.0 1368.9L1790.0 1368.9L1792.0 1368.8L1794.0 1368.7L1796.0 1368.3L1798.0 1368.0L1800.0 1367.8L1802.0 1367.9L1804.0 1367.9L1806.0 1368.5L1808.0 1369.2L1810.0 1370.0L1812.0 1370.0L1814.0 1369.8L1816.0 1369.6L1818.0 1369.1L1820.0 1368.5L1822.0 1368.0L1824.0 1367.8L1826.0 1367.7L1828.0 1367.4L1830.0 1366.9L1832.0 1366.5L1834.0 1367.1L1836.0 1368.0L1838.0 1369.0L1840.0 1370.1L1842.0 1371.3L1844.0 1372.3L1846.0 1372.3L1848.0 1372.3L1850.0 1372.5L1852.0 1372.9L1854.0 1373.3L1856.0 1373.4L1858.0 1373.3L1860.0 1373.3L1862.0 1372.7L1864.0 1372.0L1866.0 1371.3L1868.0 1371.1L1870.0 1370.8L1872.0 1370.8L1874.0 1371.4L1876.0 1371.9L1878.0 1372.5L1880.0 1373.0L1882.0 1373.6L1884.0 1373.3L1886.0 1372.5L1888.0 1371.8L1890.0 1371.2L1892.0 1370.7L1894.0 1370.2L1896.0 1370.4L1898.0 1370.5L1900.0 1370.5L1902.0 1370.0L1904.0 1369.6L1906.0 1369.0L1908.0 1368.3L1910.0 1367.6L1912.0 1367.6L1914.0 1367.8L1916.0 1368.0L1918.0 1368.7L1920.0 1369.5L1922.0 1370.2L1924.0 1370.6L1926.0 1371.0L1928.0 1371.4L1930.0 1371.5L1932.0 1371.7L1934.0 1371.9L1936.0 1372.1L1938.0 1372.3L1940.0 1372.5L1942.0 1372.7L1944.0 1372.8L1946.0 1373.0L1948.0 1373.1L1950.0 1373.3L1952.0 1373.4L1954.0 1373.5L1956.0 1373.8L1958.0 1374.1L1960.0 1374.5L1962.0 1374.7L1964.0 1375.0L1966.0 1375.3L1968.0 1374.7L1970.0 1374.1L1972.0 1373.5L1974.0 1373.0L1976.0 1372.4L1978.0 1372.0L1980.0 1372.1L1982.0 1372.1L1984.0 1372.3L1986.0 1372.7L1988.0 1373.0L1990.0 1373.6L1992.0 1374.2L1994.0 1374.9L1996.0 1375.2L1998.0 1375.6L2000.0 1376.0L2002.0 1376.1L2004.0 1376.3L2006.0 1376.3L2008.0 1376.1L2010.0 1376.0L2012.0 1375.7L2014.0 1375.3L2016.0 1374.9L2018.0 1374.6L2020.0 1374.2L2022.0 1373.9L2024.0 1373.4L2026.0 1373.0L2028.0 1372.5L2030.0 1372.2L2032.0 1371.9L2034.0 1371.6L2036.0 1371.5L2038.0 1371.3L2040.0 1371.4L2042.0 1371.7L2044.0 1371.9L2046.0 1373.1L2048.0 1374.4L2050.0 1375.6L2052.0 1376.2L2054.0 1376.7L2056.0 1376.9L2058.0 1376.2L2060.0 1375.6L2062.0 1375.1L2064.0 1374.8L2066.0 1374.5L2068.0 1374.1L2070.0 1373.8L2072.0 1373.4L2074.0 1373.0L2076.0 1372.6L2078.0 1372.3L2080.0 1372.2L2082.0 1372.2L2084.0 1372.3L2086.0 1372.6L2088.0 1372.8L2090.0 1373.6L2092.0 1374.7L2094.0 1375.8L2096.0 1376.4L2098.0 1376.9L2100.0 1377.3L2102.0 1376.0L2104.0 1374.7L2106.0 1373.5L2108.0 1372.8L2110.0 1372.1L2112.0 1372.3L2114.0 1373.5L2116.0 1374.6L2118.0 1375.4" stroke="#6DB700" stroke-width="13.5"/>
<path d="M455.0 1382.0L455.0 1382.0L455.0 1382.0L455.0 1382.0L456.0 1382.0L458.0 1382.0L460.0 1382.0L462.0 1382.0L464.0 1382.0L466.0 1382.0L468.0 1382.0L470.0 1381.9L472.0 1381.9L474.0 1381.9L476.0 1381.9L478.0 1381.8L480.0 1381.8L482.0 1381.8L484.0 1381.8L486.0 1381.7L488.0 1381.7L490.0 1381.7L492.0 1381.7L494.0 1381.7L496.0 1381.6L498.0 1381.6L500.0 1381.5L502.0 1381.5L504.0 1381.4L506.0 1381.3L508.0 1381.2L510.0 1381.1L512.0 1381.0L514.0 1380.9L516.0 1380.8L518.0 1380.7L520.0 1380.6L522.0 1380.5L524.0 1380.3L526.0 1380.2L528.0 1380.1L530.0 1380.0L532.0 1379.8L534.0 1379.7L536.0 1379.6L538.0 1379.5L540.0 1379.4L542.0 1379.2L544.0 1379.1L546.0 1379.0L548.0 1378.8L550.0 1378.7L552.0 1378.5L554.0 1378.4L556.0 1378.3L558.0 1378.1L560.0 1378.0L562.0 1377.9L564.0 1377.7L566.0 1377.6L568.0 1377.5L570.0 1377.3L572.0 1377.2L574.0 1377.1L576.0 1376.9L578.0 1376.8L580.0 1376.6L582.0 1376.5L584.0 1376.3L586.0 1376.2L588.0 1376.1L590.0 1375.9L592.0 1375.7L594.0 1375.6L596.0 1375.4L598.0 1375.2L600.0 1375.0L602.0 1374.8L604.0 1374.7L606.0 1374.6L608.0 1374.4L610.0 1374.2L612.0 1374.1L614.0 1373.9L616.0 1373.7L618.0 1373.5L620.0 1373.6L622.0 1373.6L624.0 1373.7L626.0 1373.9L628.0 1374.1L630.0 1374.1L632.0 1373.9L634.0 1373.7L636.0 1373.4L638.0 1372.9L640.0 1372.4L642.0 1372.1L644.0 1371.7L646.0 1371.3L648.0 1371.0L650.0 1370.6L652.0 1370.2L654.0 1369.8L656.0 1369.3L658.0 1368.8L660.0 1368.2L662.0 1367.6L664.0 1367.0L666.0 1366.2L668.0 1365.5L670.0 1365.0L672.0 1364.5L674.0 1364.0L676.0 1363.5L678.0 1363.0L680.0 1362.4L682.0 1361.9L684.0 1361.3L686.0 1360.7L688.0 1360.2L690.0 1359.6L692.0 1359.1L694.0 1358.5L696.0 1357.9L698.0 1357.5L700.0 1357.1L702.0 1356.6L704.0 1356.1L706.0 1355.6L708.0 1355.0L710.0 1354.0L712.0 1353.0L714.0 1351.8L716.0 1350.4L718.0 1349.0L720.0 1347.7L722.0 1346.3L724.0 1345.0L726.0 1344.1L728.0 1343.3L730.0 1342.4L732.0 1341.6L734.0 1340.8L736.0 1339.8L738.0 1338.7L740.0 1337.6L742.0 1336.4L744.0 1335.2L746.0 1333.9L748.0 1332.7L750.0 1331.5L752.0 1330.3L754.0 1329.1L756.0 1327.8L758.0 1326.6L760.0 1325.4L762.0 1324.2L764.0 1323.0L766.0 1322.0L768.0 1321.0L770.0 1319.8L772.0 1318.6L774.0 1317.3L776.0 1315.8L778.0 1314.3L780.0 1312.8L782.0 1311.4L784.0 1310.0L786.0 1308.6L788.0 1307.1L790.0 1305.6L792.0 1304.2L794.0 1303.0L796.0 1301.8L798.0 1300.6L800.0 1299.5L802.0 1298.3L804.0 1296.4L806.0 1294.6L808.0 1292.6L810.0 1290.6L812.0 1288.5L814.0 1286.5L816.0 1284.7L818.0 1282.9L820.0 1281.1L822.0 1279.4L824.0 1277.7L826.0 1276.0L828.0 1274.3L830.0 1272.7L832.0 1270.9L834.0 1269.1L836.0 1267.3L838.0 1265.7L840.0 1264.0L842.0 1262.5L844.0 1261.4L846.0 1260.2L848.0 1258.7L850.0 1257.0L852.0 1255.3L854.0 1252.7L856.0 1250.0L858.0 1247.2L860.0 1244.4L862.0 1241.7L864.0 1239.2L866.0 1237.0L868.0 1235.0L870.0 1233.3L872.0 1231.8L874.0 1230.3L876.0 1229.2L878.0 1228.2L880.0 1227.3L882.0 1226.2L884.0 1225.1L886.0 1224.1L888.0 1222.6L890.0 1221.2L892.0 1220.0L894.0 1219.2L896.0 1218.4L898.0 1217.9L900.0 1217.6L902.0 1217.4L904.0 1216.8L906.0 1216.1L908.0 1215.5L910.0 1214.5L912.0 1213.5L914.0 1212.6L916.0 1211.7L918.0 1210.9L920.0 1210.2L922.0 1209.6L924.0 1209.1L926.0 1208.7L928.0 1208.3L930.0 1208.0L932.0 1208.0L934.0 1208.0L936.0 1208.1L938.0 1208.1L940.0 1208.2L942.0 1208.2L944.0 1208.0L946.0 1207.8L948.0 1207.7L950.0 1207.6L952.0 1207.6L954.0 1207.3L956.0 1207.1L958.0 1207.0L960.0 1207.1L962.0 1207.2L964.0 1207.4L966.0 1208.2L968.0 1208.9L970.0 1209.5L972.0 1210.0L974.0 1210.4L976.0 1210.5L978.0 1210.5L980.0 1210.4L982.0 1210.4L984.0 1210.5L986.0 1210.6L988.0 1210.5L990.0 1210.4L992.0 1210.4L994.0 1210.7L996.0 1211.0L998.0 1211.6L1000.0 1212.6L1002.0 1213.6L1004.0 1214.2L1006.0 1214.8L1008.0 1215.4L1010.0 1215.5L1012.0 1215.7L1014.0 1215.9L1016.0 1216.2L1018.0 1216.6L1020.0 1217.1L1022.0 1217.6L1024.0 1218.0L1026.0 1218.6L1028.0 1219.3L1030.0 1220.0L1032.0 1221.1L1034.0 1222.3L1036.0 1223.6L1038.0 1224.7L1040.0 1225.8L1042.0 1226.9L1044.0 1227.7L1046.0 1228.5L1048.0 1229.4L1050.0 1230.4L1052.0 1231.4L1054.0 1232.4L1056.0 1233.3L1058.0 1234.3L1060.0 1235.1L1062.0 1235.8L1064.0 1236.6L1066.0 1237.4L1068.0 1238.2L1070.0 1238.9L1072.0 1239.3L1074.0 1239.8L1076.0 1240.1L1078.0 1240.3L1080.0 1240.4L1082.0 1240.7L1084.0 1241.0L1086.0 1241.2L1088.0 1242.0L1090.0 1242.7L1092.0 1243.4L1094.0 1243.8L1096.0 1244.3L1098.0 1244.8L1100.0 1245.2L1102.0 1245.6L1104.0 1246.2L1106.0 1247.1L1108.0 1248.0L1110.0 1248.3L1112.0 1248.4L1114.0 1248.6L1116.0 1248.7L1118.0 1248.9L1120.0 1249.3L1122.0 1250.6L1124.0 1251.9L1126.0 1253.4L1128.0 1255.1L1130.0 1256.9L1132.0 1258.5L1134.0 1260.1L1136.0 1261.7L1138.0 1262.8L1140.0 1263.8L1142.0 1264.8L1144.0 1265.0L1146.0 1265.3L1148.0 1265.5L1150.0 1265.6L1152.0 1265.6L1154.0 1266.1L1156.0 1266.9L1158.0 1267.7L1160.0 1268.7L1162.0 1269.7L1164.0 1270.8L1166.0 1271.3L1168.0 1271.8L1170.0 1272.2L1172.0 1272.7L1174.0 1273.2L1176.0 1274.0L1178.0 1275.5L1180.0 1276.9L1182.0 1278.1L1184.0 1278.9L1186.0 1279.8L1188.0 1280.1L1190.0 1280.2L1192.0 1280.4L1194.0 1281.2L1196.0 1282.1L1198.0 1283.0L1200.0 1284.0L1202.0 1285.1L1204.0 1286.1L1206.0 1287.2L1208.0 1288.3L1210.0 1289.2L1212.0 1289.9L1214.0 1290.6L1216.0 1290.9L1218.0 1291.1L1220.0 1291.3L1222.0 1291.7L1224.0 1292.0L1226.0 1292.5L1228.0 1293.1L1230.0 1293.7L1232.0 1294.3L1234.0 1295.0L1236.0 1295.6L1238.0 1296.3L1240.0 1297.0L1242.0 1297.7L1244.0 1298.3L1246.0 1299.0L1248.0 1299.5L1250.0 1299.6L1252.0 1299.8L1254.0 1300.0L1256.0 1300.4L1258.0 1300.8L1260.0 1301.9L1262.0 1303.5L1264.0 1305.0L1266.0 1306.2L1268.0 1307.4L1270.0 1308.5L1272.0 1308.6L1274.0 1308.8L1276.0 1309.3L1278.0 1310.4L1280.0 1311.5L1282.0 1312.6L1284.0 1313.7L1286.0 1314.7L1288.0 1315.4L1290.0 1315.8L1292.0 1316.0L1294.0 1316.5L1296.0 1317.0L1298.0 1317.4L1300.0 1317.4L1302.0 1317.4L1304.0 1317.4L1306.0 1317.0L1308.0 1316.8L1310.0 1316.7L1312.0 1316.9L1314.0 1317.1L1316.0 1317.4L1318.0 1317.9L1320.0 1318.4L1322.0 1318.7L1324.0 1319.1L1326.0 1319.7L1328.0 1320.9L1330.0 1322.1L1332.0 1323.2L1334.0 1324.2L1336.0 1325.2L1338.0 1325.4L1340.0 1325.0L1342.0 1324.6L1344.0 1324.5L1346.0 1324.5L1348.0 1324.6L1350.0 1325.1L1352.0 1325.7L1354.0 1326.2L1356.0 1326.7L1358.0 1327.3L1360.0 1328.1L1362.0 1329.2L1364.0 1330.4L1366.0 1331.3L1368.0 1332.0L1370.0 1332.7L1372.0 1332.6L1374.0 1332.4L1376.0 1332.2L1378.0 1332.1L1380.0 1331.9L1382.0 1331.8L1384.0 1331.9L1386.0 1331.9L1388.0 1332.3L1390.0 1333.0L1392.0 1333.6L1394.0 1334.5L1396.0 1335.5L1398.0 1336.5L1400.0 1337.4L1402.0 1338.2L1404.0 1339.0L1406.0 1339.3L1408.0 1339.6L1410.0 1339.6L1412.0 1339.2L1414.0 1338.7L1416.0 1338.6L1418.0 1338.7L1420.0 1338.8L1422.0 1339.6L1424.0 1340.4L1426.0 1341.2L1428.0 1341.7L1430.0 1342.1L1432.0 1342.3L1434.0 1342.0L1436.0 1341.7L1438.0 1341.5L1440.0 1341.4L1442.0 1341.3L1444.0 1341.7L1446.0 1342.3L1448.0 1342.8L1450.0 1343.3L1452.0 1343.7L1454.0 1344.3L1456.0 1345.2L1458.0 1346.2L1460.0 1347.0L1462.0 1347.7L1464.0 1348.4L1466.0 1348.7L1468.0 1348.7L1470.0 1348.7L1472.0 1349.3L1474.0 1350.0L1476.0 1350.8L1478.0 1351.3L1480.0 1351.7L1482.0 1352.1L1484.0 1352.0L1486.0 1351.9L1488.0 1351.8L1490.0 1351.9L1492.0 1352.0L1494.0 1351.8L1496.0 1351.5L1498.0 1351.1L1500.0 1351.4L1502.0 1351.7L1504.0 1352.1L1506.0 1353.1L1508.0 1354.0L1510.0 1354.8L1512.0 1354.9L1514.0 1355.0L1516.0 1355.2L1518.0 1355.3L1520.0 1355.5L1522.0 1355.8L1524.0 1356.1L1526.0 1356.4L1528.0 1356.7L1530.0 1357.0L1532.0 1357.3L1534.0 1357.6L1536.0 1357.9L1538.0 1358.0L1540.0 1357.6L1542.0 1357.2L1544.0 1356.9L1546.0 1356.7L1548.0 1356.5L1550.0 1356.5L1552.0 1356.5L1554.0 1356.6L1556.0 1357.0L1558.0 1357.4L1560.0 1357.9L1562.0 1358.9L1564.0 1360.0L1566.0 1360.6L1568.0 1360.7L1570.0 1360.8L1572.0 1360.7L1574.0 1360.6L1576.0 1360.5L1578.0 1361.1L1580.0 1361.8L1582.0 1362.4L1584.0 1362.9L1586.0 1363.4L1588.0 1363.8L1590.0 1364.0L1592.0 1364.1L1594.0 1364.1L1596.0 1364.0L1598.0 1363.8L1600.0 1363.3L1602.0 1362.7L1604.0 1362.1L1606.0 1362.1L1608.0 1362.2L1610.0 1362.4L1612.0 1363.0L1614.0 1363.5L1616.0 1364.0L1618.0 1364.2L1620.0 1364.4L1622.0 1364.5L1624.0 1364.5L1626.0 1364.6L1628.0 1364.7L1630.0 1364.9L1632.0 1365.0L1634.0 1365.2L1636.0 1365.4L1638.0 1365.5L1640.0 1365.0L1642.0 1364.5L1644.0 1364.0L1646.0 1363.7L1648.0 1363.4L1650.0 1363.5L1652.0 1363.9L1654.0 1364.2L1656.0 1364.6L1658.0 1364.9L1660.0 1365.2L1662.0 1365.5L1664.0 1365.7L1666.0 1365.9L1668.0 1366.0L1670.0 1366.2L1672.0 1366.7L1674.0 1367.4L1676.0 1368.2L1678.0 1368.9L1680.0 1369.5L1682.0 1370.1L1684.0 1370.1L1686.0 1370.1L1688.0 1370.1L1690.0 1370.4L1692.0 1370.7L1694.0 1371.1L1696.0 1371.5L1698.0 1371.9L1700.0 1371.9L1702.0 1371.6L1704.0 1371.4L1706.0 1371.1L1708.0 1370.7L1710.0 1370.4L1712.0 1370.5L1714.0 1370.5L1716.0 1370.7L1718.0 1371.3L1720.0 1371.9L1722.0 1372.4L1724.0 1372.6L1726.0 1372.9L1728.0 1372.2L1730.0 1371.0L1732.0 1369.8L1734.0 1369.0L1736.0 1368.3L1738.0 1367.6L1740.0 1367.8L1742.0 1368.0L1744.0 1368.1L1746.0 1368.0L1748.0 1368.0L1750.0 1368.1L1752.0 1368.6L1754.0 1369.0L1756.0 1369.5L1758.0 1370.0L1760.0 1370.5L1762.0 1370.0L1764.0 1369.4L1766.0 1369.0L1768.0 1368.9L1770.0 1368.9L1772.0 1369.1L1774.0 1369.5L1776.0 1369.9L1778.0 1370.2L1780.0 1370.5L1782.0 1370.8L1784.0 1371.3L1786.0 1371.8L1788.0 1372.3L1790.0 1372.4L1792.0 1372.5L1794.0 1372.5L1796.0 1372.2L1798.0 1372.0L1800.0 1371.7L1802.0 1371.4L1804.0 1371.2L1806.0 1370.9L1808.0 1370.5L1810.0 1370.2L1812.0 1369.8L1814.0 1369.4L1816.0 1369.1L1818.0 1369.5L1820.0 1369.8L1822.0 1370.1L1824.0 1370.0L1826.0 1369.9L1828.0 1369.6L1830.0 1369.2L1832.0 1368.7L1834.0 1369.2L1836.0 1369.9L1838.0 1370.6L1840.0 1371.3L1842.0 1372.1L1844.0 1372.8L1846.0 1372.8L1848.0 1372.9L1850.0 1372.9L1852.0 1372.9L1854.0 1372.9L1856.0 1373.2L1858.0 1373.8L1860.0 1374.3L1862.0 1374.2L1864.0 1374.1L1866.0 1374.0L1868.0 1373.3L1870.0 1372.7L1872.0 1372.3L1874.0 1372.6L1876.0 1372.9L1878.0 1373.5L1880.0 1374.2L1882.0 1375.0L1884.0 1375.7L1886.0 1376.3L1888.0 1376.9L1890.0 1377.3L1892.0 1377.8L1894.0 1378.1L1896.0 1377.1L1898.0 1376.2L1900.0 1375.3L1902.0 1374.5L1904.0 1373.6L1906.0 1373.9L1908.0 1374.9L1910.0 1376.0L1912.0 1376.6L1914.0 1377.0L1916.0 1377.3L1918.0 1376.7L1920.0 1375.9L1922.0 1375.2L1924.0 1374.5L1926.0 1373.9L1928.0 1373.4L1930.0 1373.1L1932.0 1372.9L1934.0 1372.9L1936.0 1373.0L1938.0 1373.2L1940.0 1373.0L1942.0 1372.7L1944.0 1372.5L1946.0 1372.1L1948.0 1371.6L1950.0 1371.6L1952.0 1372.4L1954.0 1373.2L1956.0 1374.0L1958.0 1374.6L1960.0 1375.3L1962.0 1374.7L1964.0 1373.5L1966.0 1372.2L1968.0 1371.1L1970.0 1369.9L1972.0 1368.8L1974.0 1368.4L1976.0 1368.1L1978.0 1368.0L1980.0 1368.6L1982.0 1369.1L1984.0 1370.2L1986.0 1371.7L1988.0 1373.2L1990.0 1373.7L1992.0 1373.9L1994.0 1374.0L1996.0 1373.3L1998.0 1372.6L2000.0 1372.1L2002.0 1372.5L2004.0 1373.0L2006.0 1373.6L2008.0 1374.3L2010.0 1375.1L2012.0 1376.1L2014.0 1377.2L2016.0 1378.3L2018.0 1378.7L2020.0 1378.9L2022.0 1379.0L2024.0 1377.1L2026.0 1375.2L2028.0 1373.7L2030.0 1373.4L2032.0 1373.1L2034.0 1373.4L2036.0 1374.2L2038.0 1375.0L2040.0 1375.2L2042.0 1375.2L2044.0 1375.3L2046.0 1375.3L2048.0 1375.3L2050.0 1375.3L2052.0 1375.0L2054.0 1374.6L2056.0 1374.4L2058.0 1374.3L2060.0 1374.2L2062.0 1374.5L2064.0 1375.1L2066.0 1375.6L2068.0 1375.9L2070.0 1376.2L2072.0 1376.5L2074.0 1375.8L2076.0 1375.1L2078.0 1374.3L2080.0 1373.6L2082.0 1372.9L2084.0 1372.9L2086.0 1373.8L2088.0 1374.8L2090.0 1375.7L2092.0 1376.7L2094.0 1377.7L2096.0 1377.1L2098.0 1376.3L2100.0 1375.5L2102.0 1374.4L2104.0 1373.2L2106.0 1372.4L2108.0 1372.3L2110.0 1372.2L2112.0 1372.3L2114.0 1372.6L2116.0 1372.8L2118.0 1373.5" stroke="#505050" stroke-width="13.5"/>
<path d="M455.0 1382.0L455.0 1382.0L455.0 1382.0L455.0 1382.0L456.0 1382.0L458.0 1382.0L460.0 1382.0L462.0 1382.0L464.0 1382.0L466.0 1382.0L468.0 1382.0L470.0 1382.0L472.0 1381.9L474.0 1381.9L476.0 1381.9L478.0 1381.9L480.0 1381.9L482.0 1381.8L484.0 1381.8L486.0 1381.8L488.0 1381.7L490.0 1381.7L492.0 1381.7L494.0 1381.6L496.0 1381.6L498.0 1381.6L500.0 1381.5L502.0 1381.5L504.0 1381.4L506.0 1381.4L508.0 1381.3L510.0 1381.3L512.0 1381.2L514.0 1381.2L516.0 1381.1L518.0 1381.0L520.0 1381.0L522.0 1380.9L524.0 1380.9L526.0 1380.8L528.0 1380.8L530.0 1380.7L532.0 1380.6L534.0 1380.5L536.0 1380.4L538.0 1380.3L540.0 1380.2L542.0 1380.1L544.0 1380.0L546.0 1379.9L548.0 1379.9L550.0 1379.8L552.0 1379.7L554.0 1379.6L556.0 1379.5L558.0 1379.4L560.0 1379.2L562.0 1379.0L564.0 1378.9L566.0 1378.7L568.0 1378.5L570.0 1378.3L572.0 1378.1L574.0 1377.9L576.0 1377.8L578.0 1377.7L580.0 1377.6L582.0 1377.5L584.0 1377.5L586.0 1377.4L588.0 1377.2L590.0 1377.1L592.0 1376.9L594.0 1376.8L596.0 1376.6L598.0 1376.5L600.0 1376.4L602.0 1376.2L604.0 1376.1L606.0 1375.9L608.0 1375.8L610.0 1375.6L612.0 1375.5L614.0 1375.3L616.0 1375.2L618.0 1375.1L620.0 1375.0L622.0 1374.8L624.0 1374.7L626.0 1374.6L628.0 1374.5L630.0 1374.4L632.0 1374.2L634.0 1374.1L636.0 1373.9L638.0 1373.7L640.0 1373.5L642.0 1373.3L644.0 1373.1L646.0 1372.9L648.0 1372.9L650.0 1372.9L652.0 1373.0L654.0 1372.9L656.0 1372.9L658.0 1372.8L660.0 1372.5L662.0 1372.1L664.0 1371.7L666.0 1371.3L668.0 1370.9L670.0 1370.6L672.0 1370.3L674.0 1370.0L676.0 1369.6L678.0 1369.2L680.0 1368.8L682.0 1368.3L684.0 1367.7L686.0 1367.2L688.0 1366.7L690.0 1366.1L692.0 1365.5L694.0 1364.9L696.0 1364.3L698.0 1363.9L700.0 1363.5L702.0 1363.1L704.0 1362.5L706.0 1361.8L708.0 1361.1L710.0 1360.4L712.0 1359.7L714.0 1359.2L716.0 1358.9L718.0 1358.6L720.0 1358.3L722.0 1357.8L724.0 1357.4L726.0 1357.0L728.0 1356.7L730.0 1356.3L732.0 1355.7L734.0 1355.2L736.0 1354.5L738.0 1353.5L740.0 1352.5L742.0 1351.8L744.0 1351.2L746.0 1350.6L748.0 1350.1L750.0 1349.6L752.0 1349.1L754.0 1348.3L756.0 1347.5L758.0 1346.7L760.0 1345.9L762.0 1345.2L764.0 1344.5L766.0 1343.9L768.0 1343.3L770.0 1342.8L772.0 1342.3L774.0 1341.8L776.0 1341.0L778.0 1340.3L780.0 1339.5L782.0 1338.3L784.0 1337.1L786.0 1335.7L788.0 1334.3L790.0 1332.8L792.0 1331.5L794.0 1330.3L796.0 1329.2L798.0 1328.2L800.0 1327.3L802.0 1326.4L804.0 1325.5L806.0 1324.7L808.0 1323.8L810.0 1322.9L812.0 1322.0L814.0 1321.0L816.0 1319.9L818.0 1318.8L820.0 1317.7L822.0 1316.7L824.0 1315.7L826.0 1314.6L828.0 1313.5L830.0 1312.3L832.0 1311.0L834.0 1309.7L836.0 1308.3L838.0 1307.0L840.0 1305.6L842.0 1304.1L844.0 1302.5L846.0 1300.9L848.0 1299.3L850.0 1297.8L852.0 1296.2L854.0 1295.2L856.0 1294.3L858.0 1293.2L860.0 1292.2L862.0 1291.0L864.0 1289.5L866.0 1287.5L868.0 1285.6L870.0 1283.6L872.0 1281.9L874.0 1280.3L876.0 1278.9L878.0 1277.5L880.0 1276.3L882.0 1274.8L884.0 1273.4L886.0 1272.1L888.0 1271.2L890.0 1270.3L892.0 1269.4L894.0 1268.7L896.0 1267.9L898.0 1267.0L900.0 1266.0L902.0 1265.0L904.0 1264.2L906.0 1263.5L908.0 1262.9L910.0 1263.0L912.0 1263.2L914.0 1263.3L916.0 1263.1L918.0 1263.0L920.0 1262.6L922.0 1261.9L924.0 1261.2L926.0 1260.5L928.0 1259.8L930.0 1259.2L932.0 1259.0L934.0 1258.8L936.0 1258.7L938.0 1259.2L940.0 1259.7L942.0 1260.0L944.0 1260.0L946.0 1260.1L948.0 1259.7L950.0 1258.9L952.0 1258.1L954.0 1257.4L956.0 1256.7L958.0 1256.0L960.0 1255.5L962.0 1255.1L964.0 1254.8L966.0 1254.9L968.0 1255.0L970.0 1255.0L972.0 1255.1L974.0 1255.2L976.0 1255.0L978.0 1254.8L980.0 1254.6L982.0 1255.3L984.0 1256.1L986.0 1257.0L988.0 1257.8L990.0 1258.6L992.0 1259.1L994.0 1258.5L996.0 1257.9L998.0 1257.6L1000.0 1257.4L1002.0 1257.2L1004.0 1257.3L1006.0 1257.5L1008.0 1257.6L1010.0 1257.4L1012.0 1257.1L1014.0 1257.0L1016.0 1257.5L1018.0 1258.0L1020.0 1258.7L1022.0 1259.7L1024.0 1260.8L1026.0 1261.6L1028.0 1262.3L1030.0 1263.0L1032.0 1263.6L1034.0 1264.2L1036.0 1264.7L1038.0 1265.3L1040.0 1265.9L1042.0 1266.5L1044.0 1266.8L1046.0 1267.1L1048.0 1267.2L1050.0 1267.3L1052.0 1267.3L1054.0 1267.8L1056.0 1268.4L1058.0 1269.1L1060.0 1270.1L1062.0 1271.0L1064.0 1272.0L1066.0 1272.8L1068.0 1273.6L1070.0 1274.3L1072.0 1275.1L1074.0 1275.9L1076.0 1276.5L1078.0 1277.2L1080.0 1277.8L1082.0 1278.4L1084.0 1279.1L1086.0 1279.8L1088.0 1280.4L1090.0 1281.1L1092.0 1281.7L1094.0 1282.0L1096.0 1282.4L1098.0 1282.8L1100.0 1283.3L1102.0 1283.9L1104.0 1284.3L1106.0 1284.7L1108.0 1285.0L1110.0 1284.8L1112.0 1284.3L1114.0 1283.9L1116.0 1283.7L1118.0 1283.5L1120.0 1283.5L1122.0 1284.4L1124.0 1285.3L1126.0 1286.4L1128.0 1287.8L1130.0 1289.3L1132.0 1290.0L1134.0 1290.4L1136.0 1290.9L1138.0 1291.1L1140.0 1291.4L1142.0 1291.7L1144.0 1293.1L1146.0 1294.4L1148.0 1295.6L1150.0 1296.2L1152.0 1296.9L1154.0 1297.0L1156.0 1296.6L1158.0 1296.2L1160.0 1296.2L1162.0 1296.4L1164.0 1296.5L1166.0 1298.1L1168.0 1299.7L1170.0 1301.2L1172.0 1302.5L1174.0 1303.7L1176.0 1304.3L1178.0 1304.0L1180.0 1303.7L1182.0 1303.8L1184.0 1304.2L1186.0 1304.6L1188.0 1305.5L1190.0 1306.5L1192.0 1307.5L1194.0 1307.3L1196.0 1307.1L1198.0 1306.7L1200.0 1305.9L1202.0 1305.2L1204.0 1305.0L1206.0 1305.5L1208.0 1306.0L1210.0 1307.1L1212.0 1308.5L1214.0 1309.8L1216.0 1310.9L1218.0 1311.9L1220.0 1312.9L1222.0 1313.6L1224.0 1314.2L1226.0 1314.9L1228.0 1315.9L1230.0 1316.9L1232.0 1317.8L1234.0 1318.7L1236.0 1319.6L1238.0 1320.0L1240.0 1320.2L1242.0 1320.4L1244.0 1320.8L1246.0 1321.2L1248.0 1321.5L1250.0 1321.5L1252.0 1321.6L1254.0 1321.6L1256.0 1321.6L1258.0 1321.6L1260.0 1322.1L1262.0 1323.0L1264.0 1323.9L1266.0 1324.9L1268.0 1326.0L1270.0 1326.9L1272.0 1327.6L1274.0 1328.2L1276.0 1328.6L1278.0 1328.7L1280.0 1328.8L1282.0 1328.9L1284.0 1329.1L1286.0 1329.2L1288.0 1329.4L1290.0 1329.6L1292.0 1329.8L1294.0 1329.7L1296.0 1329.7L1298.0 1329.7L1300.0 1330.4L1302.0 1331.1L1304.0 1331.9L1306.0 1332.9L1308.0 1333.9L1310.0 1334.7L1312.0 1335.3L1314.0 1336.0L1316.0 1336.3L1318.0 1336.6L1320.0 1336.9L1322.0 1337.0L1324.0 1337.0L1326.0 1337.2L1328.0 1337.6L1330.0 1338.0L1332.0 1338.5L1334.0 1339.1L1336.0 1339.8L1338.0 1340.2L1340.0 1340.5L1342.0 1340.8L1344.0 1341.1L1346.0 1341.4L1348.0 1341.6L1350.0 1341.9L1352.0 1342.1L1354.0 1342.2L1356.0 1342.3L1358.0 1342.3L1360.0 1342.6L1362.0 1343.1L1364.0 1343.6L1366.0 1344.1L1368.0 1344.6L1370.0 1345.1L1372.0 1344.9L1374.0 1344.7L1376.0 1344.5L1378.0 1344.5L1380.0 1344.6L1382.0 1345.0L1384.0 1345.9L1386.0 1346.9L1388.0 1347.8L1390.0 1348.8L1392.0 1349.8L1394.0 1350.3L1396.0 1350.6L1398.0 1350.9L1400.0 1351.0L1402.0 1351.1L1404.0 1351.3L1406.0 1351.4L1408.0 1351.6L1410.0 1351.8L1412.0 1351.8L1414.0 1351.9L1416.0 1351.8L1418.0 1351.7L1420.0 1351.5L1422.0 1351.6L1424.0 1351.7L1426.0 1351.8L1428.0 1352.4L1430.0 1352.9L1432.0 1353.4L1434.0 1353.9L1436.0 1354.3L1438.0 1354.8L1440.0 1355.4L1442.0 1356.0L1444.0 1356.2L1446.0 1356.2L1448.0 1356.2L1450.0 1355.8L1452.0 1355.3L1454.0 1354.9L1456.0 1355.4L1458.0 1355.9L1460.0 1356.3L1462.0 1356.5L1464.0 1356.7L1466.0 1356.6L1468.0 1356.3L1470.0 1356.0L1472.0 1356.2L1474.0 1356.6L1476.0 1357.0L1478.0 1357.1L1480.0 1357.1L1482.0 1357.2L1484.0 1357.6L1486.0 1358.0L1488.0 1358.6L1490.0 1359.4L1492.0 1360.3L1494.0 1360.5L1496.0 1360.5L1498.0 1360.4L1500.0 1360.3L1502.0 1360.1L1504.0 1360.0L1506.0 1360.0L1508.0 1360.1L1510.0 1360.2L1512.0 1360.4L1514.0 1360.7L1516.0 1360.9L1518.0 1361.3L1520.0 1361.6L1522.0 1361.5L1524.0 1361.3L1526.0 1361.0L1528.0 1360.8L1530.0 1360.5L1532.0 1360.4L1534.0 1360.9L1536.0 1361.5L1538.0 1362.0L1540.0 1362.5L1542.0 1362.9L1544.0 1363.0L1546.0 1362.9L1548.0 1362.8L1550.0 1362.5L1552.0 1362.1L1554.0 1361.8L1556.0 1361.6L1558.0 1361.5L1560.0 1361.5L1562.0 1362.1L1564.0 1362.8L1566.0 1363.5L1568.0 1364.3L1570.0 1365.1L1572.0 1365.3L1574.0 1365.2L1576.0 1365.1L1578.0 1364.6L1580.0 1364.1L1582.0 1363.6L1584.0 1363.7L1586.0 1363.8L1588.0 1364.1L1590.0 1364.7L1592.0 1365.3L1594.0 1365.7L1596.0 1366.0L1598.0 1366.3L1600.0 1366.2L1602.0 1366.0L1604.0 1365.8L1606.0 1366.0L1608.0 1366.1L1610.0 1366.3L1612.0 1366.7L1614.0 1367.1L1616.0 1367.4L1618.0 1367.6L1620.0 1367.7L1622.0 1367.7L1624.0 1367.6L1626.0 1367.5L1628.0 1367.4L1630.0 1367.3L1632.0 1367.2L1634.0 1367.8L1636.0 1368.5L1638.0 1369.1L1640.0 1369.5L1642.0 1369.9L1644.0 1370.0L1646.0 1369.7L1648.0 1369.4L1650.0 1369.6L1652.0 1369.9L1654.0 1370.2L1656.0 1370.9L1658.0 1371.6L1660.0 1372.2L1662.0 1372.2L1664.0 1372.1L1666.0 1372.0L1668.0 1371.6L1670.0 1371.3L1672.0 1371.2L1674.0 1371.4L1676.0 1371.6L1678.0 1371.6L1680.0 1371.5L1682.0 1371.4L1684.0 1371.2L1686.0 1370.9L1688.0 1370.8L1690.0 1371.5L1692.0 1372.1L1694.0 1372.8L1696.0 1373.6L1698.0 1374.3L1700.0 1375.0L1702.0 1375.7L1704.0 1376.4L1706.0 1376.7L1708.0 1377.0L1710.0 1377.2L1712.0 1376.0L1714.0 1374.9L1716.0 1373.8L1718.0 1373.0L1720.0 1372.2L1722.0 1372.0L1724.0 1372.5L1726.0 1373.0L1728.0 1373.2L1730.0 1373.3L1732.0 1373.4L1734.0 1373.1L1736.0 1372.9L1738.0 1372.7L1740.0 1373.4L1742.0 1374.2L1744.0 1374.8L1746.0 1375.2L1748.0 1375.6L1750.0 1375.8L1752.0 1375.7L1754.0 1375.6L1756.0 1375.8L1758.0 1376.1L1760.0 1376.4L1762.0 1375.7L1764.0 1375.0L1766.0 1374.3L1768.0 1373.9L1770.0 1373.5L1772.0 1373.4L1774.0 1373.8L1776.0 1374.1L1778.0 1374.3L1780.0 1374.4L1782.0 1374.4L1784.0 1374.3L1786.0 1374.2L1788.0 1374.1L1790.0 1373.8L1792.0 1373.5L1794.0 1373.3L1796.0 1373.2L1798.0 1373.1L1800.0 1372.8L1802.0 1372.3L1804.0 1371.7L1806.0 1371.3L1808.0 1370.9L1810.0 1370.6L1812.0 1371.3L1814.0 1372.1L1816.0 1373.1L1818.0 1374.5L1820.0 1375.9L1822.0 1377.2L1824.0 1378.2L1826.0 1379.3L1828.0 1379.5L1830.0 1379.0L1832.0 1378.5L1834.0 1377.5L1836.0 1376.3L1838.0 1375.1L1840.0 1375.1L1842.0 1375.0L1844.0 1375.0L1846.0 1375.5L1848.0 1375.9L1850.0 1376.0L1852.0 1375.6L1854.0 1375.2L1856.0 1374.9L1858.0 1374.7L1860.0 1374.5L1862.0 1374.7L1864.0 1375.0L1866.0 1375.3L1868.0 1375.1L1870.0 1374.9L1872.0 1374.7L1874.0 1374.3L1876.0 1373.9L1878.0 1374.0L1880.0 1374.7L1882.0 1375.3L1884.0 1376.2L1886.0 1377.1L1888.0 1378.1L1890.0 1377.9L1892.0 1377.6L1894.0 1377.2L1896.0 1376.8L1898.0 1376.4L1900.0 1376.0L1902.0 1375.9L1904.0 1375.7L1906.0 1375.5L1908.0 1375.4L1910.0 1375.3L1912.0 1375.4L1914.0 1375.5L1916.0 1375.6L1918.0 1375.2L1920.0 1374.8L1922.0 1374.4L1924.0 1374.1L1926.0 1373.8L1928.0 1373.7L1930.0 1374.0L1932.0 1374.2L1934.0 1374.5L1936.0 1374.9L1938.0 1375.3L1940.0 1375.4L1942.0 1375.5L1944.0 1375.6L1946.0 1375.3L1948.0 1374.9L1950.0 1374.7L1952.0 1374.9L1954.0 1375.1L1956.0 1375.7L1958.0 1376.7L1960.0 1377.8L1962.0 1378.3L1964.0 1378.5L1966.0 1378.8L1968.0 1378.3L1970.0 1377.8L1972.0 1377.3L1974.0 1377.1L1976.0 1376.9L1978.0 1376.7L1980.0 1376.4L1982.0 1376.1L1984.0 1375.8L1986.0 1375.5L1988.0 1375.3L1990.0 1375.4L1992.0 1375.7L1994.0 1376.0L1996.0 1376.5L1998.0 1377.1L2000.0 1377.6L2002.0 1377.6L2004.0 1377.7L2006.0 1377.5L2008.0 1377.0L2010.0 1376.4L2012.0 1376.1L2014.0 1376.0L2016.0 1376.0L2018.0 1376.3L2020.0 1376.6L2022.0 1377.0L2024.0 1376.6L2026.0 1376.2L2028.0 1375.9L2030.0 1375.8L2032.0 1375.7L2034.0 1375.8L2036.0 1376.1L2038.0 1376.4L2040.0 1376.7L2042.0 1377.0L2044.0 1377.2L2046.0 1378.3L2048.0 1379.5L2050.0 1380.6L2052.0 1380.8L2054.0 1381.0L2056.0 1380.9L2058.0 1380.0L2060.0 1379.0L2062.0 1378.4L2064.0 1378.1L2066.0 1377.8L2068.0 1377.1L2070.0 1376.3L2072.0 1375.5L2074.0 1375.1L2076.0 1374.7L2078.0 1374.5L2080.0 1375.1L2082.0 1375.8L2084.0 1376.1L2086.0 1376.1L2088.0 1376.0L2090.0 1375.8L2092.0 1375.6L2094.0 1375.4L2096.0 1375.9L2098.0 1376.6L2100.0 1377.2L2102.0 1377.5L2104.0 1377.7L2106.0 1377.7L2108.0 1376.8L2110.0 1376.0L2112.0 1375.3L2114.0 1375.0L2116.0 1374.6L2118.0 1374.7" stroke="#FF00FF" stroke-width="13.5"/></g>
<rect x="448" y="31" width="1671" height="14" fill="#000"/><rect x="441" y="37" width="14" height="1356" fill="#000"/><rect x="2112" y="37" width="14" height="1356" fill="#000"/><rect x="415" y="1379" width="1711" height="14" fill="#000"/><rect x="415" y="190.0" width="27" height="14" fill="#000"/><rect x="415" y="586.3" width="27" height="14" fill="#000"/><rect x="415" y="982.7" width="27" height="14" fill="#000"/><rect x="415" y="1379.0" width="27" height="14" fill="#000"/><rect x="432" y="388.0" width="10" height="14" fill="#000"/><rect x="432" y="784.5" width="10" height="14" fill="#000"/><rect x="432" y="1181.0" width="10" height="14" fill="#000"/><rect x="441.0" y="1392" width="14" height="27" fill="#000"/><rect x="719.5" y="1392" width="14" height="27" fill="#000"/><rect x="998.0" y="1392" width="14" height="27" fill="#000"/><rect x="1276.5" y="1392" width="14" height="27" fill="#000"/><rect x="1555.0" y="1392" width="14" height="27" fill="#000"/><rect x="1833.5" y="1392" width="14" height="27" fill="#000"/><rect x="2112.0" y="1392" width="14" height="27" fill="#000"/><rect x="580.2" y="1392" width="14" height="11" fill="#000"/><rect x="858.8" y="1392" width="14" height="11" fill="#000"/><rect x="1137.2" y="1392" width="14" height="11" fill="#000"/><rect x="1415.8" y="1392" width="14" height="11" fill="#000"/><rect x="1694.2" y="1392" width="14" height="11" fill="#000"/><rect x="1972.8" y="1392" width="14" height="11" fill="#000"/>
<line x1="843.9" y1="755" x2="943.3" y2="1207.4" stroke="#000" stroke-width="11" stroke-linecap="round"/><polygon points="953.6,1254.3 929.5,1207.4 955.9,1201.6" fill="#000" stroke="#000" stroke-width="9" stroke-linejoin="round"/><line x1="849" y1="754" x2="968.6" y2="449.4" stroke="#000" stroke-width="11" stroke-linecap="round"/><polygon points="986.2,404.7 980.1,457.1 954.9,447.2" fill="#000" stroke="#000" stroke-width="9" stroke-linejoin="round"/><line x1="1106.5" y1="563.4" x2="1106.5" y2="143.3" stroke="#000" stroke-width="11" stroke-linecap="round"/><polygon points="1106.5,95.3 1120.0,146.3 1093.0,146.3" fill="#000" stroke="#000" stroke-width="9" stroke-linejoin="round"/>
<g font-family="Liberation Sans, Arial, sans-serif" fill="#000"><text transform="translate(448.5,1501.3) scale(0.9625,1)" text-anchor="middle" font-size="80">500</text><text transform="translate(727.0,1501.3) scale(0.9625,1)" text-anchor="middle" font-size="80">550</text><text transform="translate(1005.5,1501.3) scale(0.9625,1)" text-anchor="middle" font-size="80">600</text><text transform="translate(1284.0,1501.3) scale(0.9625,1)" text-anchor="middle" font-size="80">650</text><text transform="translate(1562.5,1501.3) scale(0.9625,1)" text-anchor="middle" font-size="80">700</text><text transform="translate(1841.0,1501.3) scale(0.9625,1)" text-anchor="middle" font-size="80">750</text><text transform="translate(2119.5,1501.3) scale(0.9625,1)" text-anchor="middle" font-size="80">800</text><text transform="translate(393.4,1408.7) scale(0.9625,1)" text-anchor="end" font-size="80">0.0</text><text transform="translate(363.2,1017.2) scale(0.9625,1)" text-anchor="end" font-size="80">5.0x10</text><text transform="translate(363.7,985.8) scale(0.96,1)" font-size="53.3">4</text><text transform="translate(363.2,620.5) scale(0.9625,1)" text-anchor="end" font-size="80">1.0x10</text><text transform="translate(363.7,589.1) scale(0.96,1)" font-size="53.3">5</text><text transform="translate(363.2,224.1) scale(0.9625,1)" text-anchor="end" font-size="80">1.5x10</text><text transform="translate(363.7,192.7) scale(0.96,1)" font-size="53.3">5</text><text transform="translate(994.6,1619.9) scale(0.9625,1)" font-size="80">Wavelength (nm)</text><text transform="translate(91.1,1012.5) rotate(-90) scale(0.9625,1)" font-size="80">PL Intensity (a.u.)</text><line x1="1685.7" y1="77.8" x2="1856" y2="77.8" stroke="#FF8000" stroke-width="14" stroke-linecap="round"/><text transform="translate(1874.7,103.8) scale(0.963,1)" font-size="72.7" xml:space="preserve">80   K</text><line x1="1685.7" y1="171.3" x2="1856" y2="171.3" stroke="#C0C0C0" stroke-width="14" stroke-linecap="round"/><text transform="translate(1874.7,197.3) scale(0.963,1)" font-size="72.7" xml:space="preserve">110 K</text><line x1="1685.7" y1="264.8" x2="1856" y2="264.8" stroke="#800000" stroke-width="14" stroke-linecap="round"/><text transform="translate(1874.7,290.8) scale(0.963,1)" font-size="72.7" xml:space="preserve">140 K</text><line x1="1685.7" y1="358.2" x2="1856" y2="358.2" stroke="#3BAE6F" stroke-width="14" stroke-linecap="round"/><text transform="translate(1874.7,384.2) scale(0.963,1)" font-size="72.7" xml:space="preserve">170 K</text><line x1="1685.7" y1="451.7" x2="1856" y2="451.7" stroke="#B07CDC" stroke-width="14" stroke-linecap="round"/><text transform="translate(1874.7,477.7) scale(0.963,1)" font-size="72.7" xml:space="preserve">200 K</text><line x1="1685.7" y1="545.2" x2="1856" y2="545.2" stroke="#CC9900" stroke-width="14" stroke-linecap="round"/><text transform="translate(1874.7,571.2) scale(0.963,1)" font-size="72.7" xml:space="preserve">230 K</text><line x1="1685.7" y1="638.7" x2="1856" y2="638.7" stroke="#00CCCC" stroke-width="14" stroke-linecap="round"/><text transform="translate(1874.7,664.7) scale(0.963,1)" font-size="72.7" xml:space="preserve">260 K</text><line x1="1685.7" y1="732.2" x2="1856" y2="732.2" stroke="#FF0000" stroke-width="14" stroke-linecap="round"/><text transform="translate(1874.7,758.2) scale(0.963,1)" font-size="72.7" xml:space="preserve">290 K</text><line x1="1685.7" y1="825.6" x2="1856" y2="825.6" stroke="#8F8F00" stroke-width="14" stroke-linecap="round"/><text transform="translate(1874.7,851.6) scale(0.963,1)" font-size="72.7" xml:space="preserve">320 K</text><line x1="1685.7" y1="919.1" x2="1856" y2="919.1" stroke="#0000FF" stroke-width="14" stroke-linecap="round"/><text transform="translate(1874.7,945.1) scale(0.963,1)" font-size="72.7" xml:space="preserve">350 K</text><line x1="1685.7" y1="1012.6" x2="1856" y2="1012.6" stroke="#6699CC" stroke-width="14" stroke-linecap="round"/><text transform="translate(1874.7,1038.6) scale(0.963,1)" font-size="72.7" xml:space="preserve">380 K</text><line x1="1685.7" y1="1106.1" x2="1856" y2="1106.1" stroke="#6DB700" stroke-width="14" stroke-linecap="round"/><text transform="translate(1874.7,1132.1) scale(0.963,1)" font-size="72.7" xml:space="preserve">410 K</text><line x1="1685.7" y1="1199.6" x2="1856" y2="1199.6" stroke="#505050" stroke-width="14" stroke-linecap="round"/><text transform="translate(1874.7,1225.6) scale(0.963,1)" font-size="72.7" xml:space="preserve">440 K</text><line x1="1685.7" y1="1293.0" x2="1856" y2="1293.0" stroke="#FF00FF" stroke-width="14" stroke-linecap="round"/><text transform="translate(1874.7,1319.0) scale(0.963,1)" font-size="72.7" xml:space="preserve">470 K</text></g>
</svg>
</body></html>
